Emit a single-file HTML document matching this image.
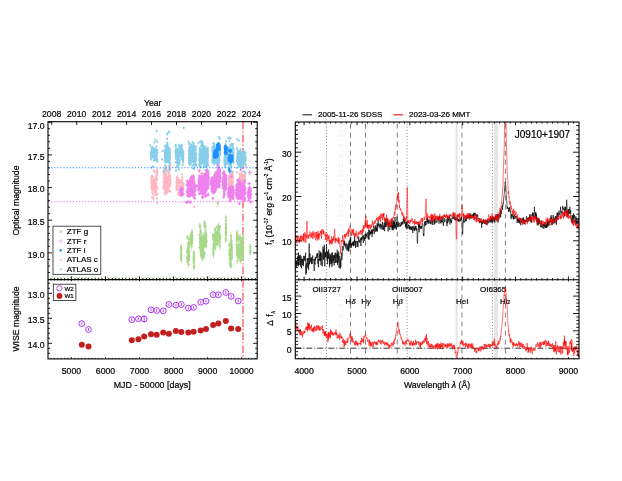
<!DOCTYPE html>
<html><head><meta charset="utf-8"><title>J0910+1907</title>
<style>html,body{margin:0;padding:0;background:#fff}svg{display:block;will-change:transform}</style></head>
<body>
<svg width="622" height="481" viewBox="0 0 622 481" font-family="Liberation Sans, sans-serif" fill="#000">
<style>text{stroke:#000;stroke-width:0.2px;}</style>
<rect width="622" height="481" fill="#fff"/>
<defs>
<clipPath id="cl1"><rect x="48" y="121.7" width="209.2" height="157.9"/></clipPath>
<clipPath id="cr1"><rect x="295.3" y="122" width="283.7" height="157.7"/></clipPath>
<clipPath id="cr2"><rect x="295.3" y="279.7" width="283.7" height="79.1"/></clipPath>
</defs>
<path d="M243 121.7V358.9" stroke="#ff4545" stroke-width="1.15" stroke-dasharray="7.8 2.1 1.2 2.06" fill="none"/>
<g clip-path="url(#cl1)">
<path d="M154.8 188.6v1.8M154.6 185.6v2M153.8 179.8v2.1M153 182.1v1.6M156.3 178.6v2.9M156.3 189.5v2.8M155 170.2v3.5M154 187.8v2.7M156.8 185.5v3.5M155.3 185v2.5M151.5 182.7v2.6M155 181.8v2.1M152.4 189.2v2.5M156.3 177.2v3.5M154.4 180.1v2.6M153.1 176.8v1.6M152.6 184.9v2.3M157.1 177.6v2M152.5 184.9v2.9M156.2 182.7v2.6M157.3 172.7v2.5M152.8 187.2v3.5M157 178.5v3.1M151.6 178.8v1.7M155.7 193v1.6M153.1 186.3v3M152.7 178.9v2.8M154.8 180.9v2.9M152.2 186.7v2.6M156.6 178.5v1.6M152.2 187.3v2.5M153.7 169.1v3.3M151.4 175.1v2.8M152.6 189.2v1.7M154.7 189.3v1.8M155.9 184.9v3.4M154 182.9v2.7M156.5 178.6v1.9M152 196.5v3M157.2 170.7v3.5M154.6 182.1v3.4M156 186.5v2.9M154.4 185.9v3.2M154.3 183.4v1.7M156.7 174.7v2.5M151.8 177.3v3.2M152.1 180.9v2.3M156.6 192.7v1.9M152.7 184.1v3.4M155 182.3v3M157.4 172.7v1.6M155.4 194.3v1.7M151.5 178.1v2.7M152.8 188.2v3.5M156 185.8v2.8M153.1 192.3v3.4M151.6 179.5v1.8M154.7 182.6v2.8M156.2 176.3v1.9M151.4 177.7v2.3M154.5 190.9v1.9M152 186.9v2.5M154.9 180.6v1.7M155.4 186.8v2.9M152.2 188.9v2.9M153.3 195.3v3.4M156.6 184.8v3.2M152.2 178.2v1.7M151.8 183.4v3.4M154.4 182v2.7M154.6 187.9v3.5M152.2 186.8v2.6M154.6 178.8v1.7M152.5 182.5v3M153.8 185.3v1.9M152.7 185.6v3.6M156.8 168.4v2.7M151.3 180.3v3.4M157.2 169.9v2.6M154.9 184.4v2.2M155.6 183.3v2.9M152.2 191.5v3M152.9 189.1v2.5M154.5 185.1v2.1M153.1 185.6v2.4M154.9 181.7v3M152.7 175.4v2M155.7 176.8v1.9M151.6 181.6v2.6M157.5 187.1v2.9M151.5 175.3v1.7M156.4 175.3v2.1M153.4 185.8v3.6M157.1 174.4v2.1M151.3 186v3.2M153.8 182.2v2.2M151.8 182.4v1.7M155.5 191.6v2.6M152.2 180.3v3.4M152.5 185.2v3.2M152.6 176.1v1.7M157.6 192.8v3M156.3 174.4v2.9M156.2 182.1v2.6M164.8 172.1v2.9M169 171.2v2.6M164 178.1v1.9M164.5 174.1v3M170.3 176.5v1.8M164.3 171v2.2M169.3 189.8v3.3M168.7 174.6v2.7M169.4 181.3v2.6M166.5 176.5v3M169.3 181.3v2.6M165.5 171v2.4M170.3 167v2.7M164.1 176.7v1.6M170.4 181.7v2.3M169.4 175.2v1.6M165 182.1v3.6M165 186.1v3.4M166.9 190.7v2.9M168.5 175.6v1.9M166.2 185.3v3.3M168.3 170.9v2.1M170.2 182.3v3.2M163.9 173.6v2.9M168.1 183.6v2.8M167.6 177.6v3.1M169.4 179.2v2.1M166.9 182.9v3.3M163.4 187.1v2.7M166.4 190.1v3.1M167.7 176.8v3.3M164.9 181.8v2.1M165.9 187.5v2.4M165.4 175.5v2.3M163.9 178.1v1.7M166.5 192.1v3.4M168.1 181.7v3M168.3 177.8v2.6M163.6 180.6v2.7M165.3 177.8v3.4M170.3 178.1v1.7M169.8 182.4v2.3M167.8 186.2v3M166.9 180.1v2.7M170.3 165.6v2.6M164.7 179.3v2.1M169.4 182.8v2M163.3 185.2v3M164.6 185.6v2.3M169.2 176.3v3.5M165.1 179v3.4M167.3 184.6v3.6M169.6 173.7v2.1M170.1 179.3v2.6M169.8 178.6v1.8M167.9 179.9v2.3M166.5 189.4v1.7M168.1 179.5v2.6M167.9 176.2v3.6M168.2 185.1v3.1M169.9 174.2v2.3M170.4 181v2.1M163.7 182.8v3.5M167.4 176.1v1.7M166.6 183.6v3.3M168.6 167.4v3.3M168.8 184.7v1.7M164.3 179.7v3.5M170.3 182.5v2.9M167.6 180.5v2.4M167.5 188.1v2.4M168.8 180.9v2.8M168 179.4v2.7M165.4 190.8v3.4M167.3 169.1v3.4M168 188.8v2.2M169.2 176.9v1.6M170.3 175.2v3.2M168.5 178.1v2.9M164.5 175v2.9M167.5 187.7v1.7M165.8 174.4v1.7M164.3 167.2v3.4M164.5 178.4v2.3M168.7 181.8v2.5M163.7 182.7v3.6M165.5 171.4v2M170.3 190.1v2.9M164.7 175.3v1.7M164.7 192.4v2.7M165.6 179.7v3.1M165.2 182.5v1.9M166.2 172.4v3.1M165.2 190.4v3.6M164.8 184.9v3.3M169.4 175.2v3.2M168 181.8v3.5M164.4 174.2v3.1M168.8 172.1v2.7M168.2 181.7v3.3M168.8 178.1v3.2M170 184.7v2.9M167.2 181.3v3M165.2 189.2v1.9M168.9 189.5v2.3M167.4 185.7v2.2M165.9 186.7v3.3M165.1 178.9v3.2M163.8 170.1v2.2M168.2 177.2v3.6M166.3 185.1v1.7M165.5 180v1.7M168 189.2v2.2M168.4 179.1v1.7M169 168.1v3.5M168.7 187.8v2.3M165.8 174.9v2.4M165.9 188.9v3.3M164.7 184.5v2.7M167.1 178.3v2.9M168.2 183.2v2.5M165.8 181v2.5M163.8 172.7v3.6M179.2 189v2.1M180.5 185.6v2.7M182.1 192.6v2.6M182.4 187.8v1.9M181.8 190.4v1.9M180 194.4v2.6M181.7 179v3.2M182.3 178.6v2.5M177.3 176.5v1.7M181.4 183.3v3.5M178.3 178.9v1.8M176.8 176.6v3.4M178.3 179.8v1.7M177.9 183.7v2.9M181.2 188.1v1.9M183.4 185v2.1M181.4 181.7v2.4M176.8 185.3v3.1M176.3 181v2.5M180.9 188.7v2.4M176.7 186.4v2.4M179.6 179.1v2.6M176.6 181.3v2.1M182.3 185.7v3.5M180.9 188.7v2M178.8 182.8v1.8M177.9 188.5v2.7M182.1 186.5v2.3M182.2 191.8v3.1M180.2 194.9v1.6M176.5 185.1v3M180 185.7v2.3M180.9 186.7v3.5M181.6 181.5v2.2M180 184.8v2.5M180.6 188.2v2.2M183.6 192.2v2.7M182.2 188.1v2.1M183.5 182.4v3M176.8 181.3v2.4M179.6 186.7v3M181.3 184.7v2.2M178.8 180.6v2.5M177.7 180.4v2.7M177.7 185.3v3.1M181.7 180.1v2.9M177.7 183.1v2.5M181.4 187v1.7M180.4 190.5v1.8M181.4 193v1.9M183.2 182.4v1.9M183 182.4v1.9M176.8 176.5v2.9M177.8 192.4v2.3M181.6 185.5v3.4M180.9 186.3v2M177.5 187.6v2.1M180.9 190.4v1.9M176.6 183.9v1.9M177.6 177.4v3M182.2 191.3v2.8M179.6 188.5v2.1M177.4 184.2v3.2M182 172.8v3M183 185.7v2.5M182.1 176v2.8M177.2 184.3v2.9M177.1 178.6v2.5M177.8 182v1.8M178.1 193.6v2.3M181.5 186.2v3.5M183.2 188.1v2.3M181.6 184.3v2.9M179.1 189.4v1.7M177.3 175.2v3.2M176.4 185v3.4M179.1 191.5v2.3M176.4 188v2.3M179.7 180v2.6M176.6 188.1v2.1M176.8 180.3v2M178.7 178.9v1.8M179.8 180.2v3M181 187.2v2.6M182.9 185.9v3.5M189.7 185.8v3.6M192.5 190.2v3.4M192.8 184.2v3.5M189.3 179.6v3.3M193.4 191.8v1.6M191.4 187v1.8M193.1 184.9v3.6M192.9 182.3v3.4M193.2 183.6v2.8M194.5 187.2v2.8M192.6 189v2.5M195 188.2v2.4M190.3 178.5v1.9M194 191.8v2.7M192.8 186.1v2.1M189.5 183.8v1.8M195 186.9v3.4M189.2 183.6v2.8M190.4 187.1v3.4M193.1 185v2.2M194.7 180.1v2.8M190.5 176.8v2.1M189.9 192v3.3M189.5 185.9v2M194.9 185.9v2.9M193.9 183.7v2.7M189.9 182.6v2.2M193.8 186.9v1.7M194.4 187.1v2.6M194.2 186.6v2.6M192.3 187.6v3.3M192.7 181.3v2M192.6 186.7v1.9M189.2 183.3v2.2M192.3 184v3.2M188.9 189.8v2M193.5 195v2.9M193.9 188.5v1.6M201.6 176.9v1.7M207.9 180.7v3M204.4 178.4v2.6M205.9 182v1.8M206.9 181.4v2.5M202.9 176.7v3.5M202.4 178.7v2.4M204.9 177.5v2.7M207.9 180.2v2.4M200.5 177.7v2.6M200.8 176.7v1.7M204.2 174v3.4M203.6 174.4v2.8M205.2 183.1v2.3M207.4 179.7v2.2M207.4 173.5v1.9M206.8 179.6v3.5M205.5 178.7v3.3M206.9 173.1v2.3M201.4 181.4v2.8M207.6 174.3v2.7M202 180.8v2M202.4 176.8v1.6M200.7 180.7v3.1M203.5 185.1v1.9M207.5 179.4v2.7M206.2 187.3v1.6M206.1 170.4v1.6M202.1 178.7v1.9M200.1 182.2v2.9M201.8 184.8v2.8M202.6 172.1v3.6M206.2 181.4v2.9M206.4 172.1v2.6M204.3 185.8v1.6M202.5 182.5v3.6M205 176.6v2.6M207.8 183.4v3.3M201.2 173v1.6M204.3 178v3.3M207.6 172.9v2.5M205.6 185.2v2M207.8 182.5v2.4M202.3 180.2v1.7M207.3 183.2v2.8M205.8 180.7v2M208 181.7v3M205.5 184.2v1.9M205.6 179.7v3M201.9 171.5v2.8M202 184v3M201.6 178.7v3.5M202 184v2.2M204.7 178.3v3M205.3 175.1v2.4M202.4 174.5v3.4M200.4 178.4v3.3M215.9 178.9v3.1M219.9 176.4v2.8M218.2 174.9v2.1M213.4 182.2v3.4M215.3 180.8v3.6M217.6 171.2v3.5M212.7 182.1v2.3M219.5 173.1v3.3M212.2 185.9v3M218.7 178.6v3.3M218.5 185.5v3.2M217.4 178v2.5M213.5 180.4v2.4M219.3 180.8v3.2M216.7 183.4v2.9M217.3 179v2.7M212.7 181.4v3.4M220 173.8v1.6M216.6 183.1v1.6M213.7 180.4v2.5M218.9 178.4v1.8M213 183.2v3.3M217.8 177.4v1.7M213 180v3.4M214.9 176.6v2M216.2 181.5v1.8M218.4 179.5v3.1M214.2 174.2v3M213.7 184.6v2.4M213.5 180.4v2.8M214.9 183.4v2.7M217.2 169.4v3.5M212.3 181v2.6M217.3 179.6v2.7M212.1 176.9v2.5M215.5 182.6v2.4M217.7 180.8v3M212.7 183.6v1.8M229.2 180.4v3M229 175.4v3.5M232.6 181.3v3.1M231 179.9v2.7M231.8 179.6v2.3M231.1 184v1.8M232.3 173v1.8M229.2 181.8v2.7M229.7 176v3.4M229.4 179v3.4M229 176.8v1.9M229.8 180.7v3.1M231.8 176.4v3.2M229 175.5v2.6M229.6 178.3v3.3M231.5 177.4v1.9M232.8 180.2v2.3M230.7 177.9v2.6M231.4 178.3v3.1M230.9 181.5v2.5M231.8 179.2v2.2M231 177.8v3.4M231.2 181.9v2.4M231.4 181.8v2.4M232.7 183.7v2M231.8 180.4v2.6M232.5 176.1v3M229.5 178.7v2.3M232.5 182.9v2.9M229 178.4v2.6M230.5 179v1.6M229.3 179.5v3.6M231.1 183.2v2.2M232.6 174.7v2.7M228.8 180.7v3.6M232.7 179.5v2M230.8 181.9v1.7M232.7 170.6v2M231.3 178.9v1.9M229.6 178.6v3.3M232.9 176.8v2.6M230.6 179.4v1.6M230.1 186.1v2.1M230.4 175v2.6M228.8 182.7v1.9M230.3 181.1v2.2M228.7 183.2v3.4M231.3 177.9v2.5M231.1 181.8v2M231.7 179.8v2.8M229.2 180.3v1.8M232.7 179.8v2.6M230.9 179.1v2.9M231.1 179.2v1.7M229.7 177v2.7M229.4 175.1v2.2M230.4 175.6v3.1M232.4 175.2v2.8M232.7 172.8v3.5M229.8 180.7v2.8M228.9 177.4v1.9M232.5 179.6v1.9M229.9 177.8v3M229.9 183.8v3.2M230.5 176.7v1.7M230.9 181.3v2.4M231.4 173.5v2.1M230.9 179.6v2.5M231.5 179.4v3.4M231.2 180.1v2.7M232.7 171.9v3.1M229.5 183.8v3.2M231.1 181.3v2.1M229.5 176.9v2.8M229.7 175.6v2.3M230.2 172.8v2.5M229 177.4v2.7M231.8 175.6v2.9M231.5 175.9v1.9M232.1 181.9v3.3M231.5 178.8v1.9M231.7 177.3v2.2M232.7 176.8v3.3M232 178.4v3.6M232.7 182.3v2.3M229.6 170.3v3.5M232.5 183.7v1.6M229.7 177v3.5M231.5 175.4v2M231.9 180.6v1.6M229.6 179.2v3.1M229.8 179.8v1.9M230.4 177.8v3.1M230.5 182v1.6M232.7 181.2v1.8M242 179.8v2.3M239.5 180v1.7M243.5 179.7v2.5M245.2 179.4v2.3M244 179.7v3.1M243.2 175.3v2.6M243.6 179.5v3.6M244 177.3v3.3M241.2 177.8v1.9M243 182.9v3.5M244.5 179.6v3.4M240.6 174.7v2.7M239.5 172.8v2.7M241 177v1.9M239.8 178.7v2.2M243.6 178.6v2M239.4 177.5v2M243.7 180.1v2.8M245.3 178.5v2.2M245 177.1v3.2M245.2 178.4v2.8M242.5 180v3.3M241.3 175.6v1.7M241 178.5v3.3M239.7 178.2v2.6M239.9 177.5v2.9M243.1 178.1v2.1M244.2 175.8v3M243.8 176.7v2.4M240.5 179.4v3.1M245 176.4v2.8M240.3 177.1v1.9M243.6 175.5v2.2M240.8 179.8v3.1M244.2 178.7v1.6M242.9 177.3v2.9M240.5 175.9v2.7M244.1 173.2v3M240.8 180.7v2.2M242.8 180.7v2.6M240.2 178.2v2.6M240 179.9v3.1M243.2 179v1.7M241.9 180.2v2.6M242.6 178.7v2.1M243.7 177.5v2.8M240.7 176.6v2.1M243.5 182.2v2M243.1 180.2v2M241.3 176.3v3.4M243.4 178.4v2.3M240.8 178.4v3.4M244 179.7v3.1M245.2 173.8v2.1M244.2 177v2.7M243.7 180.8v1.6M239.7 175.6v3.5M239.7 176v2.9M242.5 182.4v1.8M244.7 182.3v2.6M242.2 178.8v2.6M242.4 179.5v3M242.5 176v2.2M242.6 181.2v3.5M244.1 178.6v2.9M241.7 179.1v1.7M242.3 178v3.3M240.7 180.7v3.4M241.3 173.9v2.2M244 178.4v3M241.6 172.1v3.3M245 178.8v3.4M243.1 181.2v1.7M243.2 179.9v3.3M241.1 184.5v2.1M244.9 178.7v3.2M240.2 173.3v3M241.2 178.4v2.5M239.8 176.5v3.4M242 173.5v3.2M239.9 175.5v3.6M245.2 177.3v3.6M239.7 175.8v2.8M240.2 181v3.1M240 178.1v3M242.6 179.3v2.4M244.4 178.5v2.6M244 179.4v2.6M242 177.8v2M240.9 178.7v2.1M245.2 178.2v3.3M243.8 179.1v3.3M244.8 179.6v3M245.1 175.3v3M243 177.8v2.6M153.2 197.1v2.8M157 196.8v2.9M157 202.2v1.6M194.2 205.7v2.5M166.5 164.5v3.6M245 199v2M239 195.2v2.5M228 196.1v1.7M237 171.3v2.1M245.8 164.9v3.3M206.5 171.2v1.6M204.7 172.9v3.2" stroke="#ffb6c1" stroke-width="0.45" fill="none"/><path d="M154.8 189.5h0M154.6 186.6h0M153.8 180.9h0M153 182.9h0M156.3 180.1h0M156.3 190.9h0M155 171.9h0M154 189.1h0M156.8 187.2h0M155.3 186.2h0M151.5 184h0M155 182.9h0M152.4 190.4h0M156.3 178.9h0M154.4 181.3h0M153.1 177.5h0M152.6 186h0M157.1 178.6h0M152.5 186.3h0M156.2 184h0M157.3 174h0M152.8 189h0M157 180.1h0M151.6 179.6h0M155.7 193.8h0M153.1 187.8h0M152.7 180.3h0M154.8 182.4h0M152.2 188h0M156.6 179.3h0M152.2 188.5h0M153.7 170.8h0M151.4 176.5h0M152.6 190h0M154.7 190.2h0M155.9 186.6h0M154 184.2h0M156.5 179.5h0M152 198h0M157.2 172.4h0M154.6 183.8h0M156 187.9h0M154.4 187.5h0M154.3 184.2h0M156.7 175.9h0M151.8 179h0M152.1 182h0M156.6 193.7h0M152.7 185.8h0M155 183.9h0M157.4 173.4h0M155.4 195.2h0M151.5 179.5h0M152.8 190h0M156 187.3h0M153.1 194h0M151.6 180.4h0M154.7 184h0M156.2 177.3h0M151.4 178.8h0M154.5 191.8h0M152 188.2h0M154.9 181.4h0M155.4 188.2h0M152.2 190.3h0M153.3 197h0M156.6 186.4h0M152.2 179.1h0M151.8 185.1h0M154.4 183.3h0M154.6 189.7h0M152.2 188.1h0M154.6 179.6h0M152.5 184h0M153.8 186.3h0M152.7 187.4h0M156.8 169.8h0M151.3 182.1h0M157.2 171.2h0M154.9 185.5h0M155.6 184.8h0M152.2 193h0M152.9 190.3h0M154.5 186.2h0M153.1 186.8h0M154.9 183.2h0M152.7 176.4h0M155.7 177.8h0M151.6 182.9h0M157.5 188.6h0M151.5 176.1h0M156.4 176.3h0M153.4 187.6h0M157.1 175.4h0M151.3 187.5h0M153.8 183.3h0M151.8 183.3h0M155.5 192.9h0M152.2 182h0M152.5 186.8h0M152.6 176.9h0M157.6 194.4h0M156.3 175.9h0M156.2 183.4h0M164.8 173.5h0M169 172.6h0M164 179.1h0M164.5 175.6h0M170.3 177.4h0M164.3 172.1h0M169.3 191.4h0M168.7 176h0M169.4 182.6h0M166.5 178h0M169.3 182.6h0M165.5 172.1h0M170.3 168.3h0M164.1 177.5h0M170.4 182.8h0M169.4 176h0M165 183.9h0M165 187.9h0M166.9 192.2h0M168.5 176.6h0M166.2 186.9h0M168.3 172h0M170.2 183.9h0M163.9 175h0M168.1 185h0M167.6 179.2h0M169.4 180.3h0M166.9 184.5h0M163.4 188.5h0M166.4 191.6h0M167.7 178.5h0M164.9 182.9h0M165.9 188.7h0M165.4 176.6h0M163.9 179h0M166.5 193.8h0M168.1 183.2h0M168.3 179.1h0M163.6 181.9h0M165.3 179.5h0M170.3 179h0M169.8 183.6h0M167.8 187.7h0M166.9 181.5h0M170.3 166.9h0M164.7 180.4h0M169.4 183.8h0M163.3 186.6h0M164.6 186.7h0M169.2 178.1h0M165.1 180.7h0M167.3 186.4h0M169.6 174.8h0M170.1 180.6h0M169.8 179.4h0M167.9 181h0M166.5 190.3h0M168.1 180.8h0M167.9 177.9h0M168.2 186.7h0M169.9 175.4h0M170.4 182h0M163.7 184.6h0M167.4 176.9h0M166.6 185.2h0M168.6 169.1h0M168.8 185.5h0M164.3 181.5h0M170.3 183.9h0M167.6 181.7h0M167.5 189.3h0M168.8 182.3h0M168 180.8h0M165.4 192.5h0M167.3 170.8h0M168 189.9h0M169.2 177.7h0M170.3 176.8h0M168.5 179.6h0M164.5 176.4h0M167.5 188.5h0M165.8 175.3h0M164.3 168.9h0M164.5 179.5h0M168.7 183.1h0M163.7 184.5h0M165.5 172.3h0M170.3 191.5h0M164.7 176.1h0M164.7 193.8h0M165.6 181.2h0M165.2 183.5h0M166.2 173.9h0M165.2 192.2h0M164.8 186.5h0M169.4 176.8h0M168 183.6h0M164.4 175.7h0M168.8 173.5h0M168.2 183.3h0M168.8 179.7h0M170 186.2h0M167.2 182.8h0M165.2 190.2h0M168.9 190.6h0M167.4 186.8h0M165.9 188.4h0M165.1 180.5h0M163.8 171.2h0M168.2 179h0M166.3 186h0M165.5 180.9h0M168 190.4h0M168.4 179.9h0M169 169.8h0M168.7 189h0M165.8 176.1h0M165.9 190.6h0M164.7 185.8h0M167.1 179.7h0M168.2 184.5h0M165.8 182.3h0M163.8 174.5h0M179.2 190.1h0M180.5 186.9h0M182.1 193.9h0M182.4 188.8h0M181.8 191.3h0M180 195.7h0M181.7 180.6h0M182.3 179.8h0M177.3 177.3h0M181.4 185h0M178.3 179.8h0M176.8 178.3h0M178.3 180.6h0M177.9 185.2h0M181.2 189.1h0M183.4 186h0M181.4 182.9h0M176.8 186.8h0M176.3 182.2h0M180.9 190h0M176.7 187.6h0M179.6 180.4h0M176.6 182.4h0M182.3 187.5h0M180.9 189.7h0M178.8 183.7h0M177.9 189.9h0M182.1 187.6h0M182.2 193.4h0M180.2 195.7h0M176.5 186.6h0M180 186.8h0M180.9 188.4h0M181.6 182.6h0M180 186h0M180.6 189.4h0M183.6 193.5h0M182.2 189.1h0M183.5 183.8h0M176.8 182.5h0M179.6 188.2h0M181.3 185.8h0M178.8 181.9h0M177.7 181.8h0M177.7 186.8h0M181.7 181.6h0M177.7 184.3h0M181.4 187.9h0M180.4 191.4h0M181.4 193.9h0M183.2 183.4h0M183 183.4h0M176.8 178h0M177.8 193.5h0M181.6 187.2h0M180.9 187.3h0M177.5 188.7h0M180.9 191.4h0M176.6 184.8h0M177.6 178.9h0M182.2 192.7h0M179.6 189.6h0M177.4 185.8h0M182 174.3h0M183 187h0M182.1 177.4h0M177.2 185.8h0M177.1 179.8h0M177.8 182.8h0M178.1 194.8h0M181.5 187.9h0M183.2 189.2h0M181.6 185.8h0M179.1 190.3h0M177.3 176.8h0M176.4 186.7h0M179.1 192.7h0M176.4 189.1h0M179.7 181.3h0M176.6 189.2h0M176.8 181.3h0M178.7 179.8h0M179.8 181.7h0M181 188.5h0M182.9 187.7h0M189.7 187.5h0M192.5 191.9h0M192.8 185.9h0M189.3 181.3h0M193.4 192.6h0M191.4 187.9h0M193.1 186.7h0M192.9 184h0M193.2 185h0M194.5 188.6h0M192.6 190.3h0M195 189.5h0M190.3 179.5h0M194 193.1h0M192.8 187.2h0M189.5 184.7h0M195 188.6h0M189.2 185h0M190.4 188.8h0M193.1 186.1h0M194.7 181.4h0M190.5 177.9h0M189.9 193.7h0M189.5 186.9h0M194.9 187.4h0M193.9 185.1h0M189.9 183.7h0M193.8 187.8h0M194.4 188.4h0M194.2 187.9h0M192.3 189.3h0M192.7 182.3h0M192.6 187.6h0M189.2 184.4h0M192.3 185.6h0M188.9 190.9h0M193.5 196.4h0M193.9 189.3h0M201.6 177.7h0M207.9 182.2h0M204.4 179.7h0M205.9 182.9h0M206.9 182.7h0M202.9 178.4h0M202.4 179.9h0M204.9 178.8h0M207.9 181.4h0M200.5 179h0M200.8 177.5h0M204.2 175.7h0M203.6 175.8h0M205.2 184.2h0M207.4 180.8h0M207.4 174.5h0M206.8 181.4h0M205.5 180.4h0M206.9 174.2h0M201.4 182.8h0M207.6 175.7h0M202 181.8h0M202.4 177.7h0M200.7 182.3h0M203.5 186h0M207.5 180.8h0M206.2 188.1h0M206.1 171.2h0M202.1 179.6h0M200.1 183.6h0M201.8 186.2h0M202.6 173.9h0M206.2 182.9h0M206.4 173.4h0M204.3 186.6h0M202.5 184.3h0M205 177.9h0M207.8 185h0M201.2 173.8h0M204.3 179.7h0M207.6 174.2h0M205.6 186.2h0M207.8 183.7h0M202.3 181.1h0M207.3 184.6h0M205.8 181.7h0M208 183.2h0M205.5 185.2h0M205.6 181.2h0M201.9 172.9h0M202 185.5h0M201.6 180.5h0M202 185.1h0M204.7 179.7h0M205.3 176.3h0M202.4 176.2h0M200.4 180.1h0M215.9 180.4h0M219.9 177.8h0M218.2 176h0M213.4 183.9h0M215.3 182.6h0M217.6 172.9h0M212.7 183.2h0M219.5 174.7h0M212.2 187.4h0M218.7 180.2h0M218.5 187.2h0M217.4 179.2h0M213.5 181.6h0M219.3 182.4h0M216.7 184.8h0M217.3 180.4h0M212.7 183h0M220 174.6h0M216.6 183.9h0M213.7 181.7h0M218.9 179.3h0M213 184.9h0M217.8 178.3h0M213 181.7h0M214.9 177.6h0M216.2 182.4h0M218.4 181.1h0M214.2 175.7h0M213.7 185.8h0M213.5 181.8h0M214.9 184.7h0M217.2 171.1h0M212.3 182.3h0M217.3 181h0M212.1 178.1h0M215.5 183.9h0M217.7 182.3h0M212.7 184.5h0M229.2 181.9h0M229 177.1h0M232.6 182.9h0M231 181.3h0M231.8 180.7h0M231.1 184.9h0M232.3 173.9h0M229.2 183.1h0M229.7 177.7h0M229.4 180.7h0M229 177.8h0M229.8 182.2h0M231.8 178h0M229 176.8h0M229.6 180h0M231.5 178.4h0M232.8 181.3h0M230.7 179.2h0M231.4 179.9h0M230.9 182.7h0M231.8 180.3h0M231 179.5h0M231.2 183.1h0M231.4 183h0M232.7 184.7h0M231.8 181.6h0M232.5 177.6h0M229.5 179.8h0M232.5 184.4h0M229 179.7h0M230.5 179.8h0M229.3 181.3h0M231.1 184.3h0M232.6 176h0M228.8 182.5h0M232.7 180.5h0M230.8 182.8h0M232.7 171.6h0M231.3 179.8h0M229.6 180.2h0M232.9 178.2h0M230.6 180.2h0M230.1 187.2h0M230.4 176.3h0M228.8 183.7h0M230.3 182.2h0M228.7 184.9h0M231.3 179.1h0M231.1 182.8h0M231.7 181.2h0M229.2 181.2h0M232.7 181.1h0M230.9 180.5h0M231.1 180.1h0M229.7 178.3h0M229.4 176.2h0M230.4 177.1h0M232.4 176.6h0M232.7 174.6h0M229.8 182.1h0M228.9 178.4h0M232.5 180.5h0M229.9 179.4h0M229.9 185.4h0M230.5 177.6h0M230.9 182.6h0M231.4 174.6h0M230.9 180.9h0M231.5 181.1h0M231.2 181.5h0M232.7 173.4h0M229.5 185.4h0M231.1 182.4h0M229.5 178.3h0M229.7 176.7h0M230.2 174.1h0M229 178.8h0M231.8 177.1h0M231.5 176.9h0M232.1 183.5h0M231.5 179.7h0M231.7 178.4h0M232.7 178.4h0M232 180.2h0M232.7 183.5h0M229.6 172.1h0M232.5 184.5h0M229.7 178.8h0M231.5 176.4h0M231.9 181.4h0M229.6 180.8h0M229.8 180.7h0M230.4 179.3h0M230.5 182.8h0M232.7 182.1h0M242 180.9h0M239.5 180.8h0M243.5 181h0M245.2 180.5h0M244 181.2h0M243.2 176.6h0M243.6 181.2h0M244 179h0M241.2 178.8h0M243 184.6h0M244.5 181.3h0M240.6 176.1h0M239.5 174.1h0M241 177.9h0M239.8 179.8h0M243.6 179.7h0M239.4 178.5h0M243.7 181.6h0M245.3 179.6h0M245 178.7h0M245.2 179.8h0M242.5 181.7h0M241.3 176.5h0M241 180.2h0M239.7 179.5h0M239.9 179h0M243.1 179.1h0M244.2 177.3h0M243.8 177.9h0M240.5 181h0M245 177.8h0M240.3 178h0M243.6 176.5h0M240.8 181.3h0M244.2 179.5h0M242.9 178.7h0M240.5 177.2h0M244.1 174.7h0M240.8 181.8h0M242.8 181.9h0M240.2 179.5h0M240 181.4h0M243.2 179.9h0M241.9 181.5h0M242.6 179.7h0M243.7 178.9h0M240.7 177.6h0M243.5 183.2h0M243.1 181.2h0M241.3 178h0M243.4 179.6h0M240.8 180.1h0M244 181.2h0M245.2 174.8h0M244.2 178.4h0M243.7 181.6h0M239.7 177.3h0M239.7 177.5h0M242.5 183.2h0M244.7 183.6h0M242.2 180.1h0M242.4 181h0M242.5 177.1h0M242.6 182.9h0M244.1 180.1h0M241.7 180h0M242.3 179.7h0M240.7 182.4h0M241.3 175h0M244 179.9h0M241.6 173.7h0M245 180.5h0M243.1 182h0M243.2 181.5h0M241.1 185.5h0M244.9 180.3h0M240.2 174.8h0M241.2 179.7h0M239.8 178.2h0M242 175.2h0M239.9 177.3h0M245.2 179.1h0M239.7 177.1h0M240.2 182.6h0M240 179.6h0M242.6 180.5h0M244.4 179.8h0M244 180.7h0M242 178.8h0M240.9 179.8h0M245.2 179.9h0M243.8 180.8h0M244.8 181.1h0M245.1 176.8h0M243 179.1h0M153.2 198.5h0M157 198.3h0M157 203h0M194.2 206.9h0M166.5 166.3h0M245 200h0M239 196.5h0M228 197h0M237 172.3h0M245.8 166.5h0M206.5 172h0M204.7 174.5h0" stroke="#ffb6c1" stroke-width="2.2" stroke-linecap="round" fill="none"/>
<path d="M151.4 149.1v3.2M151.3 151.7v3.4M154.3 158v2.1M151.4 153.4v3.5M151.5 146.8v2.3M151.7 156.1v2.5M152.4 146.2v3.5M154.8 147.6v2.7M153.6 154.4v3M156.7 154.8v1.8M152.8 154.7v1.6M153 154.8v2.1M156.4 157v1.8M155.2 158.4v3.3M153.4 152.3v2.1M151.3 152v3.6M152.3 151v3M153 149.9v2M154.8 150.9v3M156.2 155.7v2.2M155.6 154.6v2.7M154.4 159.2v1.7M156.8 153.8v3.3M157.5 150.9v3.2M151.7 147.3v2.8M151.9 155.7v3M154.2 159.3v2.3M156 156.3v1.8M154.7 156.6v2.2M155.6 151.9v3.1M154.9 150.5v2.7M156.5 152.9v1.8M157.2 149.2v2.1M151.3 153.8v2.5M155.6 147.9v1.6M156.4 145.6v1.7M152.8 148.9v2.5M151.1 157v1.8M154 154.2v3.4M151.3 154.9v1.8M156 156.2v3.1M153.5 155.1v3.2M156.7 158.3v2.2M154.6 156v2.7M156.8 157.1v3.6M152.8 146.2v2.8M153.7 148.7v2.4M157.3 159.8v3.6M151.9 154.3v2.1M152.5 154.9v3.5M154.1 151.5v2.2M150.9 151.5v2.4M153.7 150.4v2.2M157.3 157.7v2.9M155.5 148.9v3.4M155.4 153.7v3M151.3 158.5v1.9M156.8 150.2v3.6M156.2 151.4v3.1M151.6 155.2v2.6M155.1 155.2v3.3M152.3 153.8v1.8M152 152.1v2.8M150.9 153.7v3.2M151.9 155.4v3.2M151.1 154.9v3M166.1 150.6v1.7M165.4 159v2.6M169.3 160.9v2.1M167.3 149.7v2.8M165.2 158.9v2.4M166.1 155.9v2.5M169.2 155v2.7M169.8 155.6v2.8M167.6 153.9v3.4M164.8 160.2v2.1M167.6 161.2v2.1M168.5 151.2v1.9M166.1 151.2v1.8M168.9 155.7v3.3M167.6 150.6v3.5M165.9 149.2v1.8M169.1 165v2.3M169.1 152.7v3.4M169.1 153.7v3.4M167.5 145.7v3.6M166.6 152.1v3.6M166.2 153.1v2.2M166.1 148.6v1.7M167.1 137.7v2.1M169.8 168.3v2.6M166.7 150.7v1.6M165.9 154.4v2.1M165.8 157.5v2.5M168.1 159.4v3M167.3 144.4v1.9M168.2 152.7v1.8M168.3 149.7v2.2M169.6 157.1v1.7M167.3 141.6v1.8M165.7 155.8v1.8M169 149v3.2M169.9 149.8v3.4M169.8 158.5v1.6M168.6 153.9v3.2M165.5 156.6v3.3M169.6 155.7v2.9M169.2 151.7v2.2M170 151.3v3.3M167.7 146.5v1.7M165.4 169.3v1.7M168.2 152.4v3.5M167.5 155.8v2M169.4 151.9v3.5M169.2 155.1v3.1M166.3 156.9v1.7M166 150.1v1.8M167 148.2v2.9M165.4 159.3v1.9M167.2 147.3v2.9M167.9 155.1v3M169.7 151.9v2M167.4 143.6v2.6M164.8 153.5v2M167.1 150.1v3.4M169 154.4v2.9M165.6 145.4v3M167.7 151.7v2.9M166.5 145.4v1.7M168.9 152.6v3.4M165.3 150.7v3.2M166.2 151.1v2.6M168.9 146.6v2.8M168.8 153.1v2.6M169.6 147.5v3.1M167.4 152.7v2.7M167.5 148.2v2.1M167.6 144.6v2.6M167.3 158.3v2M169.4 152.2v1.6M169.8 154.3v2.6M169.8 161.3v3.4M169.2 156.1v3.1M167.1 152.7v2M165.1 154.9v2.6M168.3 153.9v2.8M168.9 156.3v2.8M168.6 150.9v2.5M168.3 158.7v2.6M169.9 163.2v3M165.9 158.5v3.4M167.3 148.5v2.6M170 155.7v3.2M167 147.4v3M167.5 148.6v1.8M166.4 155.2v2.1M168.6 159.9v2.2M167.1 151.3v2.3M164.8 150.8v2.6M167.5 157v2.2M165 163.8v3.6M169.9 153.4v3.1M165.3 154.8v2.3M168.9 155.1v3M166.2 156.3v3.5M169.6 159.3v1.9M169.1 154v2.9M169.7 157.4v3.6M167.8 149.9v2.3M165 152.1v3.4M168.4 150v3.2M169.8 155.9v2.2M168.1 152.4v1.9M169.3 152.1v3.2M165.1 158.8v2.4M166.5 147.2v2.3M167.7 154.2v2.5M165.4 152.5v3.1M167.5 149.9v3.4M165.6 156.6v3.5M165 155.9v3.2M166.3 157v1.9M168.8 152v2.3M165.7 161v1.6M166.6 155.9v2M164.8 155.1v2.3M168.7 150v1.9M167.3 149v2.6M169.7 163v1.8M167 156.4v2.9M167.4 153v2.4M167.4 145.7v2.1M168.4 157v3M169.2 154.1v2.2M168.5 149.4v1.6M166.6 146.9v3.3M165 155.9v3.1M168.7 154.3v3.4M166.1 154.5v2.2M169.2 156.7v2.1M169.4 152.4v3M166 149.8v1.9M166.3 148.8v3.6M167.1 150.9v2.9M166.1 167v2.7M167.7 147.3v1.7M166 158.1v2.1M166.6 150.4v2.4M164.7 149.3v3.6M167.4 154.7v1.9M165.8 153.3v2.8M166.1 153.3v1.7M165.2 153v3.6M164.8 155.2v3.1M166.3 152.6v3.2M167.6 157.1v3.1M168.8 148.9v1.9M169.4 147.8v2.1M166.8 144v1.6M165.5 168.5v2.7M168.6 152.3v1.7M169.2 153.5v2M169.5 148.9v1.9M169.1 147.4v3.5M165.5 147.9v3.2M169.2 153.7v2.2M169 157v3.6M169.5 148.7v1.9M168.4 151.1v1.9M164.9 151v2.4M165.4 152.7v3.2M169.2 156.8v1.8M167.7 144.8v3.2M168.4 146.5v2.7M167.3 159.5v3.2M168.7 153.6v2.3M167.4 142.8v1.6M165.1 153.4v1.8M168.7 152.8v3.1M166.1 155v2.6M168.6 155.2v3.1M170 163.4v2M167.4 145.7v2.1M168.4 156.6v2M168.8 147.4v3.3M165.1 149.3v3M165.5 154.7v1.9M166.3 160.9v3.1M167.8 152.8v1.6M166.2 153v2.5M168.3 149.3v2.1M166.3 144.5v3.2M167.5 143.9v3.1M165.3 155.9v3M169.5 159.8v2M169.8 169.4v1.6M164.8 144.6v2.9M169.9 156.9v3M167.1 150.3v1.6M169.8 158.1v3.3M165.8 150.7v3.4M167.5 148.8v2.3M169.8 161.4v2.6M167.4 157.4v2.9M169.5 153.2v3.5M175.5 149.5v2.9M179.4 148.1v2.6M176.6 155.1v3.2M178.2 150.1v2.6M175.5 161.2v1.6M181.4 151.9v2.7M182.8 151v2.4M181.1 153.8v2.3M178.4 151.2v2.4M178.6 159.4v2M178.3 153.6v2.2M178.9 152.1v3.1M176.3 155v3.4M182.1 149.3v2.5M177.5 164.4v3.3M177.6 151.7v1.8M178.4 153.1v2.6M183.1 159.2v3.1M180.5 144.7v3.2M182.7 158.1v2.4M181.2 148.8v1.9M175.9 152.4v3.6M181.4 145.7v2.8M180.6 150v2.9M182.8 154.4v2.3M176.5 150.5v1.8M177.9 154.7v2.7M181.3 154.3v2.4M180.7 149.5v3.4M177.9 149.6v2.9M176.8 152.5v3.1M176.8 156.9v2.7M179.4 160.9v3.1M177.2 166.6v1.8M179.1 143.3v3.6M176.6 154.9v2.8M178.2 155.4v2.8M176.2 154.4v2M180 154.8v1.7M182.5 152.1v3M178.8 147.9v3.1M179.6 148.2v2.9M176 156.7v2.1M177.7 156.5v2.6M179.5 150.8v3.2M180.5 152.4v2.9M177.6 151.4v3.5M177.5 150.8v1.7M183 155.8v3.2M182.2 153v1.6M175.8 152.4v2.9M181.1 154.6v2.7M180.1 148.1v1.7M175.5 144.8v2.4M182 157.9v2.9M182.3 154.9v3.4M176.4 153.9v1.7M176.7 147.5v2.6M182.9 151.8v3.2M181.2 146.4v1.8M179.1 145.6v3.4M179.9 158.3v3.5M177.3 156.5v2.3M182.8 150.7v2M176.5 151.5v1.9M177.5 150v2M176.4 148.8v2.4M176.1 147.5v3M178.6 151.7v3.5M177.3 153.8v2.7M177.9 153.2v3.5M179.1 158.5v2.4M182.5 150.4v2.9M179.3 152.8v1.6M183.1 156.8v2.4M181.1 150.7v1.6M179.4 152.9v1.8M180.8 147.1v3.2M180.8 152.5v1.8M182.8 153.2v2.2M178.2 154.9v2.7M178.8 151.4v2.7M181.8 148.9v1.6M181.3 148v1.8M183.2 153.1v3M178 155.5v2.4M177.2 151.9v1.8M181.5 147.8v2.6M179.4 162.5v2.3M177 154.7v3.6M180.8 155.6v1.7M183 156.2v1.9M177.2 158.5v1.7M183.2 154.3v2.7M176 154.2v3.6M178.6 160.3v3.2M181.3 145.4v1.8M183.4 157.3v2.7M177 152.9v2.3M182.9 152.4v3.6M180.7 149.1v3M178.5 150.3v2.8M176.8 157.5v2.1M175.5 152.1v2.5M183 157.3v2.7M176.5 157.3v2.3M178.3 152.7v2.7M182 154v1.7M175.9 149.1v2.4M179.2 144.4v3.6M177 161.8v2.4M178.4 154.3v2.6M178.7 151.9v3.1M181.9 151.2v3.2M175.8 151.7v3.1M176 156.7v2.4M181.4 148.8v3M182.6 150.9v2M183.1 156.2v2.8M180.4 150.5v1.6M178 161.4v2M177.7 162.2v1.9M182.7 153v2.3M180.5 151.2v3.1M177.3 154.6v1.6M179.3 162.4v3.4M178.6 150.5v1.8M177.5 149.1v3.5M182.8 154.6v3.5M176.9 156.7v2.8M182 144.1v3.3M181.6 147.3v3.5M178 151.4v2.5M178.4 153.4v3.3M177.1 153.1v1.6M181.4 150.5v3.2M175.8 154.7v2.9M179.9 144.9v3.2M182.5 163.9v1.9M183.3 153.9v1.7M176.3 155.8v2.6M179.4 150.3v2.8M177.4 149.4v3M178.8 148.1v1.9M181.4 146v2.7M182.2 150.1v3.6M182.1 150v2.1M177.8 149.8v3.3M181.3 148.4v3.6M177.1 154.3v3M176.7 157.8v2.5M182.5 148.8v2.4M178.6 151.1v2.5M183.3 150.8v1.8M181.9 151.6v1.7M180.7 152.8v2.1M179.3 152.2v1.9M182 156.4v3.4M175.8 145v2.3M177.8 155.9v3.4M183.2 155.4v2.7M180.1 154.3v3.4M182.3 149.8v3.4M179 151.6v3M183 161v2.5M176.3 149.1v2.1M177.2 150.8v2.7M178.4 155.5v2.2M177.5 156.4v3.3M180.2 149.4v1.6M175.6 150.3v2.9M178.1 152.7v2.3M178 151.4v2.4M177.1 156v2.7M176 147.6v3.6M176.3 148.9v3.6M180.5 154.1v2.3M176.2 157v3.6M178.7 158.3v3.5M177.7 150.2v2.7M178 164.4v2.7M180 148.3v2M182.3 155.4v3.2M183.4 151.7v2.6M181.3 152.6v3.1M177.1 163.8v3.5M178.8 152.9v2.9M182 143.4v3M179.1 157.3v2.7M176.8 160.5v1.8M180.6 151.1v2.5M182.7 158.4v1.7M178.4 157v1.9M179.5 153.3v3.6M179.6 154.4v2.4M182.8 157.3v1.8M181.9 154.7v2.5M183.1 154.6v1.7M183 155.2v2.8M183.2 152.2v2M182.8 153.3v2M178.6 158.2v2.9M182 147.5v3.5M176.8 155.6v1.6M178.7 149.5v3M182.2 153.1v2.8M177.2 151.9v2.6M178.7 148.6v2.4M176.5 154.1v1.6M177.5 153v2.3M175.8 143.7v2.6M179.9 151.2v2.3M182.1 149.9v3.6M176.4 149.6v2.3M180.5 146.8v3.3M177.9 148.4v3.2M178.9 155.2v3.2M180.7 145.9v2.6M175.7 154.7v2.6M180.4 146.9v3.3M181.5 151.5v1.8M181.7 148.5v2M179.2 153.2v1.6M176.3 157.3v2.6M176.2 157.4v2.5M179 150.6v3.5M180.5 150v3.5M176.1 153v2.4M191.6 143.9v2.6M195.7 162.7v1.8M196.1 163.3v3.1M194.2 155.6v2.6M196 152.9v1.9M192.4 163.9v3.4M190.1 150.8v1.6M194.6 156.7v2M191.4 152.1v2.6M194.3 159.9v3.6M190.9 162.7v1.8M194.8 158.9v2.1M195.5 159.9v3.2M190.4 152.9v2.3M191.2 158.7v3.5M189.2 156v1.6M195.6 158.6v2.1M193.8 156.7v2.2M194.6 152.3v3.3M189.7 146.8v1.8M191.5 151.3v3M195.2 148.3v3.4M195.3 152.4v3.6M189.7 160.8v3.2M191.7 153v1.7M194.6 153.2v2.6M193.1 167.3v2M191.5 153.8v1.8M190.2 148v2.1M194.3 163.3v3.1M190.7 155.9v2.8M193.5 161v1.8M193.7 153.4v2.2M191.2 154.8v1.7M190 153.1v3.5M193.3 147.6v3.1M195.3 157.9v2.5M189.9 154.2v3.6M189.1 161.3v3.6M188.9 153.2v2M191.5 155.1v2.1M190.5 147.5v2M190.4 149.6v2.9M193.4 150.8v2.8M195.6 155.9v2.6M190.7 154.2v3.2M193.5 155.6v2.7M195.2 156.4v2.2M190.8 147.7v3M189 149.8v3.5M191.4 148.1v1.7M193.5 142.2v2.6M194.2 158.9v1.9M190.7 154.1v3.1M192.7 152.4v2.5M191.8 152.7v3.3M194.5 156.2v3M189 142.1v3.6M189.9 149.6v2.8M190.3 148.4v2.8M193.5 149.3v3.6M194.8 156.5v3.2M191.1 157.1v2.3M189.2 161.5v1.8M194.1 147.9v3.5M188.9 159.7v1.7M192.2 145.4v3.5M194.2 150.3v3.5M189.7 154.7v2.9M190.6 157.3v3.5M194.3 155.4v2.8M193.9 158.4v3.1M190.8 146.2v2.8M192.9 145.1v2M192.7 157.2v1.7M190.8 144.3v3.1M190.5 142.7v2.5M195.2 159.6v1.8M190.6 153.5v2.7M194.3 162.7v2.1M191.3 150.2v2.1M195.2 153v3.4M195.4 158.6v2.8M193.4 150.7v3.1M195.9 148.1v3.3M192.3 157.4v2.5M195.1 148.3v2.5M192 151.9v2.5M191.1 146.4v2.3M190.4 151.4v3.2M195.5 153.5v3.4M189.9 156.2v2.2M195.6 155.6v3M191.4 154v2M189.2 155.6v1.6M193.9 148.5v3M194.2 148v3.2M189.4 150v2.2M194.8 151.6v3.6M194.8 156.1v3.1M195.1 154.1v2.2M195.5 157.4v3.1M190.4 152.1v3.3M189.7 164v1.9M194.7 156.5v3.5M193.5 157.1v2.5M191 146.7v2.1M189.6 161.1v2.3M190.4 158.3v2.7M191.2 152v2.7M190.7 153.8v2.2M190.9 152.4v1.7M191.2 147.9v2.9M195.8 145.2v3.1M193.4 153.2v3M189.1 149.5v2.4M194.5 157.1v3.3M191.4 151.6v1.6M190.5 147.4v1.8M195.1 163.7v1.6M190.1 158.6v2.7M188.9 157v2.6M195.9 164.4v2M188.9 148.3v2.7M194.6 155.6v1.6M190.2 149v1.6M194.9 154.6v3.6M190.8 156.7v3.4M190.4 152.2v1.7M193.9 151.4v2.9M193.5 153.7v2.6M189.5 155.8v2.7M194.6 146.4v3.3M193.4 150.3v2.9M191.7 156.6v3.5M195.3 164.4v3M189.1 159.5v3.5M190.4 152.7v1.8M192.5 164v3.3M191.6 155.9v2.2M192.2 150v3.5M192.7 153.1v3.2M193.6 144.5v3.6M191.4 151.2v3.1M195 157.8v2.4M193.7 153.7v2.6M192.1 149.5v3.2M194.5 152.6v1.7M192.2 151.7v2.7M195.3 155.4v2.7M191.1 156.1v3.1M194 155.9v2.3M190 150.9v2.8M190.7 149.9v3.1M190.1 159.2v2.4M191.3 158v3M194.1 167v3.4M189.6 156.3v2.3M191.7 152.3v2.7M196 158.1v2.6M192 144.4v3.3M190.3 151.9v2.1M190.4 151.6v2.2M191.7 158.2v2.4M194.6 155.6v2.9M193.9 147v1.9M192.2 152.5v3.6M189.9 149.3v2.6M194.2 150.9v3.1M195.4 149.3v2.4M194.3 157.8v1.6M191.9 154.2v2.4M195.2 163.4v2.7M194.5 151.8v1.7M193.8 143.7v3.6M193.5 149.3v2.8M193.4 155v2.5M189.6 146.3v1.6M194 158.8v2.1M193.4 153.8v2.3M192.2 158.3v2.9M193.4 147.4v1.9M195.6 159.7v2.6M190.2 148.5v2.1M191.7 145.4v2.7M192.4 154.3v3M192.8 153v2.6M190.1 155.7v3.1M192.6 140.9v2.9M189.6 148.4v1.7M194.1 151.1v2.9M192.6 146.9v2.6M192.7 145.4v3.1M191.9 155.9v3.5M193.8 153v2.3M191.7 152.7v3.3M196 153.3v2M191.5 156.7v2.9M191.8 154.9v1.6M189 149.2v3.3M193.9 156.8v2.5M191.4 152.6v2.5M194.2 158v2.6M195.7 152v2.3M194.7 154.4v2M191.7 153.3v3M194.5 157.1v2.9M194.7 151.3v1.7M192.9 149.2v2.1M190.5 157.5v3.5M193.5 152.8v2.1M194.8 157.4v2.2M191 147.5v2.8M192.8 160.4v2.3M191.5 159.4v3.5M195 154v3.6M190.7 158.5v1.8M192 153.4v2M194.1 154.9v1.9M190.9 153.2v2.5M192.4 157.7v2.2M192 147.8v3M191.5 146.7v3.4M195.6 157v1.7M194.9 154v1.6M195.4 156.3v1.8M194.9 152.3v2.2M193.5 154.9v1.8M195.8 155.7v2.5M193.6 154v2.3M189.9 155.7v3.1M190.6 153.5v3.6M190 148.3v3.6M195.4 156.2v2.4M195.3 152v2.9M193.3 155.4v1.8M195.3 147.5v2.8M205.4 148v3.4M203.2 150.8v3.4M207.1 151.6v1.9M201.4 153.1v1.9M200.5 153.5v3.4M203.4 152.9v3M200.6 149.6v3.1M204 154.9v1.7M206.9 164.4v2.8M203.4 153.9v1.6M204.3 149.6v3.1M202.6 144.2v3.2M203 154.7v2.2M204.9 155.8v1.6M204.9 162v3.1M205.3 156.9v3.6M207.5 147.2v2.9M203.8 165.8v2.3M203.6 154.5v2.2M205.6 155.3v3.2M204.8 150v3.6M202.5 160.9v2.3M203.5 145.2v2M201.2 152.6v3.6M203.1 147.3v2.4M206.6 158.7v2.5M201.9 155.6v2.2M203.7 148.9v3.1M201.7 140.3v3.6M205.1 155.4v2.5M206.3 153.7v3.3M201.9 156.9v2.4M204.5 149.4v2.4M199.7 149.7v3.2M205.7 160.5v3.6M199.7 152.1v3.1M201.9 156v3M207.4 154v3.3M204.7 150.2v3.5M207.3 146.7v3.5M204.7 150.3v2.7M205.4 151.8v2.4M204.5 154.2v1.6M205.2 153v2.7M203.3 153.3v2.3M200.9 153.2v1.6M199.6 157.5v3.6M205.1 145.5v2.2M202.5 155.8v3.5M204.2 147.4v1.6M201.6 152.2v2.3M202.1 157.4v3.2M203.1 145.4v3M199.8 147.4v3M204.3 157v2.6M206.4 156.9v1.7M204.4 159v3.3M199.4 153.5v3.1M202.7 143v2.6M207.9 146.9v2.7M203.5 150.9v3.2M205 157v2.6M201.2 154.9v2.5M199.3 157v2.6M205.3 165.1v3.1M200.1 164.7v3.1M207 155.9v2.3M205.6 156.8v3.2M201.4 153.7v2.3M199.7 153.1v3M206.1 154.2v2.3M205.7 146.7v3.4M200 150.5v3.5M203.4 147.2v3.2M207.5 153.8v2.4M205.6 169.1v2.3M199.4 163.4v2.5M206.5 156.4v2.8M200 153.8v1.6M200.8 162.4v2.7M206.9 153.1v3.5M202.5 153.1v1.7M204.4 147.6v3.4M200.6 158.2v2.8M206.3 151v3.6M204.8 160.7v3.1M203 146v3.1M207.6 159.1v3.1M206.2 152.6v2.4M199.8 155.1v1.8M207.9 150.3v3.3M202.2 143.6v3.4M204.6 164.1v3.1M204.6 154.2v2M202 143.8v2.6M202.6 156.9v2.6M205.3 148.1v2.3M206.4 149.8v2.6M201.8 157.1v2.5M203 152.2v3.6M204.5 158.9v2.9M199.7 146.6v3.6M206.6 158.9v3.4M204.3 146v1.9M201.7 158.3v3.2M205.3 149.3v2.4M207.3 153v2.8M204.2 156v2.7M206.3 158.3v3.1M207.5 161.9v2.2M201.4 148.1v3M203.4 148.6v2.3M201.1 154v3.2M206.3 164.2v2.6M203.3 160.3v2.9M206.1 160.4v3.6M201.3 145.2v2.1M207.1 150.4v1.6M203.9 147v3.4M201 155.7v2.7M201 157.8v2.9M202.5 159v3.3M204.3 149.4v3.4M200.6 159v2.4M199.7 160.6v3.6M200.2 156.1v2.4M204.9 156.1v3.1M204.6 152v3.3M202.3 151.8v2.3M199.6 156.4v2.4M208 157v2.3M204.3 150.6v2.3M201.6 154.6v2.4M207.6 148.4v3.3M206.1 162v1.7M201.5 141.9v3.6M199.6 157v3.2M200 159.1v2.7M199.7 147v2.9M203.3 149.7v2.2M207.6 155v3.2M204.6 153.8v3.4M202.8 161.6v2.4M201.6 162.1v2.6M204.3 147.2v2M205.2 147v2.1M202.8 149.4v3.3M207.8 154.2v2.9M208 153.4v2.5M201.6 154.9v2.9M202.4 161.5v1.9M206.7 150.1v1.6M199.7 158.3v2.3M205 148.3v2.8M208 156v1.9M205.9 157.2v2.7M207.6 152.2v2.2M204.5 151.6v2.1M206 159.5v3.1M201.6 156.4v2.3M200.4 152.6v3.1M201.4 154v3.1M200.6 155.3v2.3M205.6 156.2v1.6M201 165.2v3.3M201.2 156.7v2.7M207.5 160.7v2.8M200.5 147.9v3M203.2 161.9v2.7M206.7 161.5v3.4M204.8 151.9v1.6M206.5 156.6v3.6M203.5 151.2v2.8M201.3 152.4v2.4M199.8 154.5v3.4M200.6 149.1v3.4M207 154.4v2.8M200.7 160.9v1.6M201.7 155.6v2.9M200.8 151.6v2.4M203.6 148.9v2.8M200.3 165.1v3.3M207.9 163.3v1.8M205.2 159.3v3.3M201.2 150.7v2.2M201.6 154.5v2.1M201.1 145.3v1.6M208.1 164.6v1.8M207.4 157.6v2.1M207.2 156.9v2.7M199.8 155.3v3.5M207.9 149.6v1.9M199.4 158.1v2.2M200.5 151.6v2.3M199.3 159.1v2.9M200.9 149.9v2.3M203.1 155.4v3M204.3 153.3v1.9M200.5 159.6v1.7M205.6 163.8v2.8M201 156.3v3.1M204.7 156.7v1.8M203.7 153.4v1.7M204.7 158.5v3M205.5 159.2v1.7M201.1 148.2v3.5M199.9 155.6v3M205.7 151.8v1.9M199.8 158.1v2.4M206.7 151.9v1.7M206.9 154.7v1.7M207.3 154.6v2.3M203.5 155.4v3.4M200.9 151.7v3.5M206.6 153.4v3.1M202.6 154.5v2.9M204.5 160.9v2.8M203.2 153v2.6M203.8 159.1v2.9M206.5 161.1v2.6M206.9 151.9v2.4M202.7 159.1v3.3M205.9 165.7v2.2M207.7 157.4v2.4M203.7 147.3v3M204 153.1v3.6M199.5 159.9v2.3M200.9 154.3v2.5M200.2 156.1v2.4M199.6 165.6v2M200.1 155.3v2.3M199.5 153v3.2M204.6 150.2v2M205.5 153.6v2.6M200.2 161.5v2.2M199.7 150.7v2.8M200.4 149.8v3.2M201.8 153.9v1.8M200.4 153.7v2.6M204.5 156.8v2M206.9 158.9v2.9M205.9 161.2v3M200.7 160.8v2M202.7 142.6v2M203 156v2.2M202.8 147.7v2.2M207.6 154.2v3.4M201.4 149.2v3.4M202.2 139.8v3.2M206.4 161.5v2.4M207.3 158.1v2.5M199.8 148v2M203.9 164.7v2.5M201.5 150.3v3.5M203 149.9v1.7M204 150.7v2.4M212.5 161.2v2M218.4 162.9v3.3M219.6 147.1v2.2M219.2 146.4v2.6M219.2 160.3v1.7M214.4 153.4v3M217.6 152.4v2.6M219.5 158.6v3.2M217.1 153v3.1M215.7 158.2v3.1M219.7 152v2.1M217.4 157.6v2.1M213.2 142v2.8M216.3 146.5v1.7M214.4 145.7v3.5M213.5 153.2v3.1M213.3 155v2.6M215.5 155.5v2.3M214.5 152.6v1.7M216.6 155v2.7M218.9 148v3.2M217.4 149.6v1.8M213.9 151.1v1.8M216.6 147.5v3M217.1 149.1v2.5M214.2 152.6v3.2M214 147.4v2.4M216.9 152.2v3.6M212.4 146.4v3.4M214.2 160v2.2M216.6 149v2.7M220 152.7v2.8M214.6 152.5v2.5M212.8 149.2v3.3M219.1 151.2v3M215.3 152.6v3.3M215.7 152.6v2.1M214.1 149.7v2.6M219.8 152.5v2.7M214.9 149.3v2.8M215 149.7v1.6M218.9 146.8v3.2M218.7 145.3v2.5M218.1 152.8v1.9M218.2 144.5v3.3M217.8 154.6v2.7M219.4 159.5v3.1M212.3 159.5v3.1M218.3 148.3v2.9M219.8 149.3v3.5M216.8 146.1v1.7M219.1 157.4v2.3M217 149.6v1.9M215.9 156.1v2.9M217.9 152.4v2M216.6 158.2v1.6M215.3 149v1.8M218.9 161.2v1.9M216.2 149.8v2.7M214.7 153.2v2.5M213.4 146.5v2.5M213 149.9v1.6M219.5 148.7v2.7M218.8 161.8v2.1M219.8 154.6v1.8M219.4 158.3v1.7M212.4 159v1.9M216.2 154.7v2.4M219.5 154.1v1.9M220.1 146.6v2.5M216.3 145.8v1.9M215.3 151.3v3.1M215.1 148.1v3.4M219.7 150.4v2.2M217.6 151.6v1.7M215.2 151.5v3.6M215.4 146.9v1.7M219.2 150.5v2.9M219.8 147.2v3.1M217.2 153.7v2.6M220.1 148.8v3.4M218.7 158.6v1.9M213.6 146.3v3.1M218.7 165.1v3.4M216.3 160.4v3.4M217.7 159.6v3.3M218.7 163.5v2.5M215.6 151.8v2.6M213.5 150.3v3.3M216.2 158.6v2.3M213.8 155.2v2.1M217 159.9v1.6M215.1 159.5v2M212.6 152.6v1.9M215.5 153v3.5M217.7 149.5v2.2M212.3 149.7v2.3M216.9 161.5v3.6M217.5 155v3M216.6 158.5v2.5M214.4 148.8v1.8M220.1 147.9v2.3M216.8 151.2v2.2M213.5 153v3.5M218.2 155.2v2.4M213.6 153v3.6M216.4 156.1v2.1M218.6 147.7v1.7M212.8 160.4v3.4M214.8 153.2v1.7M217.9 151.3v3.2M214.4 154.3v2.8M213.1 157.8v2.2M215 148.2v3.3M215.8 151.4v2.5M219.2 153.6v3.6M216.8 158.1v2.7M217.1 151.4v3.5M214.2 162.4v3.5M219 156.3v2.3M214.8 159.1v3M214.7 146.5v3.1M217 158.5v2.9M219.7 151.8v1.6M214.2 145.9v3M214 156.7v3.1M214.7 156.4v2M218.5 149.7v1.8M214.2 154.6v1.7M213.8 156.1v2.7M219.9 151.5v1.8M213.2 157.9v3.3M216.5 149.3v2.4M212.8 155.2v3.6M213.3 154.1v3.1M214.2 148.1v2.5M213.8 151.7v1.9M212.6 156.1v2.4M217.5 151.7v2.8M217.8 155.4v3.4M213 150.8v3.4M213.3 161.6v2.2M215.8 157.6v1.6M213.5 144.4v2.9M215.1 151.2v3M219.8 147.9v2.9M213.9 157.3v3.2M214.1 150v3.2M215.8 157.6v2.9M214.3 157.3v3.3M219.3 149.4v1.8M214.2 149.1v3.5M217 155.3v2.9M213.3 162.3v1.8M216.3 149.5v1.9M218.3 152.1v2.9M215.3 149.1v2.2M214.7 146.4v3.5M215.3 155.2v2.1M218.9 154.7v2.6M214.8 150.9v2.6M216.7 150.6v3.5M215.1 148.4v2.2M212.8 152v3.4M214.7 152.3v3.1M217.9 155.8v2.7M214.5 142.8v3.5M218.3 159v3.4M219.2 154.4v3.1M214.5 150v2.7M212.5 150v1.7M215 146v2M215.5 148.2v2.9M214.2 146.1v1.8M218.9 148.9v2.9M213.7 157.7v2.3M213.2 159.1v2.4M217.9 148.9v3.3M212.6 155v3.3M213.8 152.5v3.1M214.7 151.1v2.5M214.7 153v2.7M217.3 156.7v3.6M216.7 161.1v3.5M217.9 153.1v2.8M217.6 159v1.7M215 161v3.4M218.4 153.8v1.7M214.5 161.7v1.8M217 155.6v2.9M231.7 156.6v2M231.3 165.1v3.1M225.1 152.4v3M231.3 148.2v1.9M232 152.3v3.4M233.1 155.4v3.6M228.2 161.7v2.9M231.2 149v3.6M232 148.6v3.2M224.8 150v2.5M230.8 146.8v3.3M232.9 156v3.5M225.5 154.5v3M230.8 152v1.7M231.8 152.8v2.3M233.3 160.5v3M230.2 149.3v2.3M224.9 153.7v1.9M227.6 151.1v2.5M227.2 156.8v1.9M225.6 152.4v2.5M226.5 146.9v1.8M226.5 148.2v3.1M233 153.2v2M227.6 150.2v3.5M225.6 166.2v1.8M229.5 148.2v2.9M229.4 162.4v2.9M231.4 157.6v2M229.9 160.6v2.9M228.6 154.9v2.7M225.4 143.9v2.8M227 152.3v1.9M224.9 157.5v2.6M226.9 157v3.3M228.5 162.1v2.8M225.4 152v2.1M227.7 160.1v2.3M225.9 155v3.4M233.5 154.5v1.7M231.3 161v2.6M233.4 158.1v2.6M229.5 158.7v2.5M228.3 158.7v1.6M226.1 154.3v1.8M232.9 152.9v3.3M230.3 144.2v2.5M230.4 144v2.2M226.6 154.7v2.5M224.6 158v1.7M231.5 156.2v1.7M226 150.3v3.3M230.2 160.4v3.1M225.9 144.3v2M231.6 157.9v2.2M227.3 146.7v1.7M226 157.1v2.2M227.7 149.8v2.6M229.4 146v3.1M226.5 162.4v2.6M224.7 146.8v3.3M231.9 149.5v3.6M230.9 164.4v2.7M228.9 146.6v1.7M228.9 156.8v1.8M229.7 157.3v3M225 153.6v1.8M228.4 150.4v3.4M233.3 155.4v1.7M228.4 155.3v1.7M226.1 154v3.6M232.1 152.9v2.4M232.3 154.6v2.7M226.9 148.6v2.8M230.5 147.8v1.8M227.4 154v2.3M228.4 148.8v2.3M232.7 144v3.1M225.8 152.6v3.2M229.5 159.2v3M227.5 155.4v1.9M227.3 156.7v2.5M228.6 165.6v3.5M232.3 151.4v1.9M233.4 161.4v2.3M231.8 151.2v2.8M224.9 150.5v3.6M227.1 148v1.6M229.6 159.5v3M230.3 151.5v2.5M227.1 147.9v2.7M224.6 163.9v3.3M226.1 152.4v1.8M225.1 148.9v2.8M230.4 148.3v2.2M228.2 159.2v3.1M229.2 148.2v3M225.4 152.4v2.4M226 160.5v1.9M225.3 149.8v3.2M232.3 153v3M229.2 156.1v2.7M226.6 147.1v3.1M226.4 154.6v3.5M229.6 158.9v2.1M229.8 157.7v3M225 152.4v3.2M228.4 155.4v2.1M232.3 144.4v3.4M231.3 150.6v2.2M225.4 163.1v3.5M225.2 154v2.8M232 150v3.6M233.2 155.3v3.4M229.5 153.7v3.2M231.5 150.3v2.3M224.8 155v2.5M224.4 159.8v2.8M229.8 154.2v3.2M230.9 157.9v2.4M228.3 159.6v3.4M232.4 148.5v2M229.5 163.5v2.6M225.9 149.3v1.9M231.2 148.3v1.9M230.6 161.5v2.2M232 157.6v1.7M231.2 156.9v2.7M233.1 153.1v2.8M229.9 151.9v2.4M225.2 144.5v3.2M225.4 151.5v2.7M232.9 151.3v3M226.1 151.2v1.7M228.5 158.1v2.2M225.4 148.7v1.6M224.5 162.6v1.9M226 160.7v3.3M229.5 151.8v1.8M227.8 162.4v2.8M225.6 159.7v2.3M230.7 148.1v3M231.8 153.7v3.4M227.5 153.7v3.3M225.7 142.6v3.6M231.7 152.6v3.6M224.6 158.9v2.4M230.6 162.3v3.6M228 150.6v3.1M232.2 154v2.1M228 159.8v2.2M225 148.9v2.6M227.4 156.5v3.3M229.8 165.6v1.8M224.7 156.7v3.4M228.7 158.4v3M229.7 149.4v2.8M224.4 157.9v2.4M229.7 153v2.4M228.6 155v2.4M233.5 156.5v3M230.5 154.2v2.5M226.8 153.3v3M226.7 160.7v3.4M229.6 140v1.7M233.5 151.7v1.6M224.6 145v3.5M232.4 150v2M231.5 147.5v3.3M227.7 148.4v2.4M226.9 158v2M233 143v1.6M230.6 150.1v2.5M231.2 162.1v2.8M229 150.7v1.7M229.4 150.1v1.6M228.1 159.1v2.2M227.3 155.9v3.4M233.5 148v3.1M226.6 155.4v2.1M226.5 152.9v2.4M224.4 156.9v2.4M232.4 147.2v3M229.6 155.5v2.2M227.1 155.6v2.3M227.1 156.3v2.6M227.2 153.6v2.1M233 146.5v2.5M227.5 160.7v3.1M225 151v2.6M226 140.4v1.7M227.6 146.3v2.3M231.5 142.9v2.7M224.9 159.8v2M228.8 157.6v2.4M226.7 151.8v2.7M224.5 156.8v2.3M230.9 157.4v1.9M226.3 151.1v3.4M229.9 156.1v1.7M232.3 150.6v3.4M231.1 150.6v1.8M233.3 151.7v2.7M231.8 151.8v2.7M232.4 151.8v2.4M226.1 157.1v2.9M229.3 159v3.4M232.9 147.9v2.2M226.3 150.7v1.7M230.3 162v2M228.1 151.5v3.4M224.8 149.8v2.8M228.2 161.4v3.1M227.4 156.7v2.4M228.9 150.4v2.2M228.6 151.2v3M224.4 160.8v2.7M233.5 149.9v3.5M239.8 159.6v1.9M238.2 158.2v2.3M243.7 162.3v3M240.6 160.8v3.4M241.6 153.5v2.5M242.7 154.3v3.2M242.2 154.7v1.8M239.2 162.4v2.9M243.2 157.6v2.2M239.6 150.8v3M243.7 161v2.2M239.3 157.1v1.9M241.5 159.6v2.1M237 155.7v3.1M241.1 153.8v3M240.1 151.8v3.5M245.6 157.9v2.4M237.7 163.4v1.7M237.1 157.2v3.2M241.3 158.8v2.1M241.8 160.9v3.1M240.1 165.6v2.6M238.2 159.6v2.5M245 162.7v1.6M238.3 163.5v2M239 158.1v3.1M245.5 151.7v2.5M239.9 157.2v3.4M243.9 153.2v3.2M244.9 157.5v2.7M237.8 156.1v3.6M242.6 156.3v1.6M240.4 158.6v2.4M241.9 156.4v2.7M240.5 165.9v1.7M242.4 152.5v3.4M238.9 157.5v1.9M240.7 160.4v2.8M238.9 159.2v2.1M242.6 163.2v2.4M239.5 160v2.5M241.9 157.5v2.2M238.3 162.1v1.9M239.3 151.5v2.9M243.5 158v2.9M239.8 155.2v1.7M241.2 158.8v3.6M242.9 156v1.8M242.2 152.9v2M244.7 158.3v2.1M238.7 159.8v2.3M243.8 154.4v2.6M244.5 159.3v3.4M245.7 164.1v1.8M239.5 159.1v2.8M245.5 157v2.9M237 158.7v2.1M243.4 155.9v2.3M237.8 159.5v2.5M237.7 161.2v3.4M239.9 162.3v3.2M244.7 153.8v2.6M245.5 160v1.7M243.9 157.4v2.3M243 160.9v3.3M238.9 158.3v2.5M240.7 158.3v2.4M245.6 157.2v2.9M239.7 159.3v1.6M241.2 156.1v2.9M238.1 154.6v3M242.9 158.4v1.8M238.2 156.6v2.4M237.9 152.1v3.3M240 149.5v2.1M240 157.7v2.7M238.8 164.8v2.3M243.3 155.2v2.7M239.3 158.7v2.4M237.5 159.5v2.3M237.3 152.4v3.5M241.8 157v3M240.1 162.7v3.6M242.6 157.6v2.3M241.7 152.1v2.5M245.5 155.3v2.3M244.6 155.5v3.4M239.7 153.9v2.3M240.6 161.1v3M240.3 157.3v1.9M240.5 165.8v2.7M236.9 166.5v2.1M242.2 159.4v3.5M242.3 156.1v2.3M240.2 157.3v3.5M237.9 159.2v2.7M244.3 158.6v2.3M237.3 148.7v2.7M243 154.1v3.5M241.7 162v3M239.7 157.3v3.3M243.5 156.7v2.7M244.4 151.6v2.8M245.7 157v1.9M239 152.6v3.3M240.2 153v2.9M243.2 153.2v2.9M242.3 160.3v2.2M242.9 154.5v3.1M241.7 162.1v2.7M238.9 155.1v2.2M244.9 154.3v3.6M241.1 156.5v3.2M241.1 153v3M238.8 162.1v3.3M241.6 163.9v3M241.5 151v2.4M239 155.6v3.5M238.4 158.3v3.4M242.5 153.3v3M244.2 162.6v2.5M237.3 152.1v2.6M240.3 161.4v1.7M238 150.5v3.4M238.3 156.5v3.3M240 159.2v2.8M244 152.7v2.5M237.7 155.9v3.2M240.4 163.8v1.6M240.9 157.6v2.4M241.1 159.7v2.1M238.2 150.8v2.8M242.9 154.1v2.3M239 160.4v2.8M240.2 155.2v3.4M237.1 159.8v2.4M238.7 156.3v1.8M238.5 156.9v1.6M243.2 156v3.3M239 160.5v2.5M244.2 161.2v2.5M244.5 160v1.6M238.7 151.7v1.8M242.3 160.8v1.6M240.2 161v3.4M240.1 159.1v1.7M243.2 156v2.2M242.6 160.8v2.5M244 154.4v2.8M242 160.6v2M245 160.1v2.9M243.2 166v2.9M240.2 155.4v3.6M237.5 154.3v1.8M243.6 153.7v2.2M241.3 161.1v1.8M244.8 157v2.2M242.1 156.8v2M241 151.2v1.6M240.6 159v3.2M241.1 160.9v2.1M241.2 154.8v3.1M241.4 159.7v3.3M243.4 151.6v3.2M240.4 163.5v1.6M241.8 158.8v2.8M243.7 156.6v3.3M238.8 155.1v2.9M237.6 157.3v2.8M237.7 155.2v2.4M243.5 155.3v3.3M242.9 156.5v2.7M243.2 155.8v2.3M243 157.1v2.6M240.6 148v2.5M244.1 150.4v1.9M244.6 158.5v3M241.5 159.8v3.3M237 159.5v2.9M239.2 157.6v1.6M239.7 157.3v2.4M241.8 164.5v3.2M241.4 156.9v1.8M239.6 158v2.6M244.5 158.8v3M239.2 150.3v2.7M238.7 161.6v2.2M240.2 159.6v1.6M241 152.5v3M240.1 158.3v1.9M156.6 129.8v2.8M155.3 138.5v2.7M157.2 140v3.1M154.4 141.6v1.8M150.2 143.8v3.6M169.3 129.9v3.1M167.1 132.6v3.4M168.3 131.6v1.9M183.7 126.3v3.1M162.6 149.8v2.3M162.2 158v3M176 169v3M163.5 170.8v2.4M237.2 137.7v3.5M238.8 139.3v2.5M237 146.7v2.5M229.5 136v3M230.6 137.6v1.9M228.4 136.5v3.4M218.8 135.9v2.3M219.8 137.1v3.4M200.5 140.6v1.9M188.5 140.6v1.8M198.6 141.4v2.8M151.5 166.5v2.1M153 165.3v2.5M179 168.5v2M231 169.5v3.1M232 170.8v3.1M245.5 171.5v3M244.2 170.6v1.8" stroke="#87ceeb" stroke-width="0.45" fill="none"/><path d="M151.4 150.7h0M151.3 153.4h0M154.3 159h0M151.4 155.1h0M151.5 148h0M151.7 157.3h0M152.4 147.9h0M154.8 148.9h0M153.6 155.9h0M156.7 155.6h0M152.8 155.5h0M153 155.9h0M156.4 157.9h0M155.2 160.1h0M153.4 153.4h0M151.3 153.8h0M152.3 152.5h0M153 150.9h0M154.8 152.4h0M156.2 156.8h0M155.6 155.9h0M154.4 160.1h0M156.8 155.4h0M157.5 152.5h0M151.7 148.7h0M151.9 157.2h0M154.2 160.5h0M156 157.2h0M154.7 157.7h0M155.6 153.5h0M154.9 151.9h0M156.5 153.9h0M157.2 150.2h0M151.3 155.1h0M155.6 148.7h0M156.4 146.5h0M152.8 150.2h0M151.1 157.9h0M154 155.9h0M151.3 155.8h0M156 157.8h0M153.5 156.7h0M156.7 159.4h0M154.6 157.3h0M156.8 158.9h0M152.8 147.6h0M153.7 149.9h0M157.3 161.6h0M151.9 155.4h0M152.5 156.7h0M154.1 152.6h0M150.9 152.8h0M153.7 151.5h0M157.3 159.2h0M155.5 150.6h0M155.4 155.2h0M151.3 159.4h0M156.8 152h0M156.2 152.9h0M151.6 156.5h0M155.1 156.9h0M152.3 154.7h0M152 153.5h0M150.9 155.3h0M151.9 157h0M151.1 156.4h0M166.1 151.4h0M165.4 160.2h0M169.3 162h0M167.3 151.1h0M165.2 160.1h0M166.1 157.2h0M169.2 156.3h0M169.8 157h0M167.6 155.6h0M164.8 161.3h0M167.6 162.2h0M168.5 152.2h0M166.1 152.1h0M168.9 157.4h0M167.6 152.4h0M165.9 150.1h0M169.1 166.1h0M169.1 154.4h0M169.1 155.3h0M167.5 147.5h0M166.6 153.9h0M166.2 154.2h0M166.1 149.5h0M167.1 138.8h0M169.8 169.6h0M166.7 151.5h0M165.9 155.5h0M165.8 158.7h0M168.1 160.9h0M167.3 145.3h0M168.2 153.6h0M168.3 150.8h0M169.6 157.9h0M167.3 142.5h0M165.7 156.7h0M169 150.6h0M169.9 151.4h0M169.8 159.4h0M168.6 155.5h0M165.5 158.3h0M169.6 157.2h0M169.2 152.8h0M170 153h0M167.7 147.4h0M165.4 170.1h0M168.2 154.1h0M167.5 156.8h0M169.4 153.7h0M169.2 156.7h0M166.3 157.7h0M166 151h0M167 149.6h0M165.4 160.3h0M167.2 148.8h0M167.9 156.6h0M169.7 152.9h0M167.4 144.9h0M164.8 154.5h0M167.1 151.8h0M169 155.8h0M165.6 146.9h0M167.7 153.1h0M166.5 146.2h0M168.9 154.3h0M165.3 152.2h0M166.2 152.5h0M168.9 148h0M168.8 154.4h0M169.6 149.1h0M167.4 154h0M167.5 149.3h0M167.6 145.9h0M167.3 159.3h0M169.4 153h0M169.8 155.6h0M169.8 163h0M169.2 157.6h0M167.1 153.7h0M165.1 156.2h0M168.3 155.3h0M168.9 157.7h0M168.6 152.1h0M168.3 160.1h0M169.9 164.7h0M165.9 160.2h0M167.3 149.8h0M170 157.3h0M167 148.9h0M167.5 149.5h0M166.4 156.3h0M168.6 161h0M167.1 152.4h0M164.8 152.1h0M167.5 158.1h0M165 165.6h0M169.9 154.9h0M165.3 155.9h0M168.9 156.6h0M166.2 158h0M169.6 160.3h0M169.1 155.4h0M169.7 159.2h0M167.8 151h0M165 153.8h0M168.4 151.6h0M169.8 157h0M168.1 153.3h0M169.3 153.8h0M165.1 160h0M166.5 148.3h0M167.7 155.5h0M165.4 154h0M167.5 151.7h0M165.6 158.3h0M165 157.4h0M166.3 158h0M168.8 153.2h0M165.7 161.7h0M166.6 156.9h0M164.8 156.3h0M168.7 151h0M167.3 150.3h0M169.7 164h0M167 157.9h0M167.4 154.2h0M167.4 146.7h0M168.4 158.5h0M169.2 155.2h0M168.5 150.2h0M166.6 148.6h0M165 157.5h0M168.7 156h0M166.1 155.5h0M169.2 157.8h0M169.4 153.9h0M166 150.7h0M166.3 150.6h0M167.1 152.4h0M166.1 168.4h0M167.7 148.1h0M166 159.1h0M166.6 151.6h0M164.7 151.1h0M167.4 155.6h0M165.8 154.7h0M166.1 154.2h0M165.2 154.8h0M164.8 156.8h0M166.3 154.3h0M167.6 158.7h0M168.8 149.9h0M169.4 148.8h0M166.8 144.9h0M165.5 169.8h0M168.6 153.1h0M169.2 154.5h0M169.5 149.9h0M169.1 149.1h0M165.5 149.5h0M169.2 154.8h0M169 158.8h0M169.5 149.7h0M168.4 152h0M164.9 152.2h0M165.4 154.3h0M169.2 157.7h0M167.7 146.4h0M168.4 147.9h0M167.3 161.1h0M168.7 154.8h0M167.4 143.6h0M165.1 154.3h0M168.7 154.3h0M166.1 156.3h0M168.6 156.7h0M170 164.4h0M167.4 146.8h0M168.4 157.6h0M168.8 149.1h0M165.1 150.9h0M165.5 155.6h0M166.3 162.5h0M167.8 153.7h0M166.2 154.3h0M168.3 150.3h0M166.3 146.1h0M167.5 145.5h0M165.3 157.4h0M169.5 160.8h0M169.8 170.2h0M164.8 146.1h0M169.9 158.4h0M167.1 151.1h0M169.8 159.7h0M165.8 152.5h0M167.5 150h0M169.8 162.8h0M167.4 158.9h0M169.5 154.9h0M175.5 151h0M179.4 149.4h0M176.6 156.7h0M178.2 151.4h0M175.5 162h0M181.4 153.3h0M182.8 152.2h0M181.1 154.9h0M178.4 152.4h0M178.6 160.4h0M178.3 154.7h0M178.9 153.7h0M176.3 156.7h0M182.1 150.6h0M177.5 166h0M177.6 152.7h0M178.4 154.4h0M183.1 160.7h0M180.5 146.3h0M182.7 159.3h0M181.2 149.8h0M175.9 154.1h0M181.4 147.2h0M180.6 151.5h0M182.8 155.5h0M176.5 151.4h0M177.9 156.1h0M181.3 155.5h0M180.7 151.2h0M177.9 151.1h0M176.8 154.1h0M176.8 158.2h0M179.4 162.5h0M177.2 167.5h0M179.1 145.1h0M176.6 156.2h0M178.2 156.8h0M176.2 155.4h0M180 155.7h0M182.5 153.6h0M178.8 149.4h0M179.6 149.7h0M176 157.7h0M177.7 157.8h0M179.5 152.4h0M180.5 153.9h0M177.6 153.2h0M177.5 151.7h0M183 157.4h0M182.2 153.8h0M175.8 153.8h0M181.1 155.9h0M180.1 148.9h0M175.5 146h0M182 159.3h0M182.3 156.6h0M176.4 154.7h0M176.7 148.8h0M182.9 153.4h0M181.2 147.3h0M179.1 147.3h0M179.9 160h0M177.3 157.7h0M182.8 151.7h0M176.5 152.4h0M177.5 151.1h0M176.4 150h0M176.1 149h0M178.6 153.5h0M177.3 155.2h0M177.9 155h0M179.1 159.7h0M182.5 151.9h0M179.3 153.6h0M183.1 158h0M181.1 151.5h0M179.4 153.8h0M180.8 148.7h0M180.8 153.4h0M182.8 154.3h0M178.2 156.2h0M178.8 152.7h0M181.8 149.7h0M181.3 148.9h0M183.2 154.6h0M178 156.7h0M177.2 152.8h0M181.5 149h0M179.4 163.7h0M177 156.5h0M180.8 156.4h0M183 157.2h0M177.2 159.3h0M183.2 155.7h0M176 156h0M178.6 161.9h0M181.3 146.3h0M183.4 158.7h0M177 154h0M182.9 154.2h0M180.7 150.6h0M178.5 151.7h0M176.8 158.6h0M175.5 153.3h0M183 158.7h0M176.5 158.4h0M178.3 154.1h0M182 154.9h0M175.9 150.4h0M179.2 146.2h0M177 163h0M178.4 155.6h0M178.7 153.4h0M181.9 152.8h0M175.8 153.2h0M176 157.9h0M181.4 150.4h0M182.6 151.8h0M183.1 157.6h0M180.4 151.3h0M178 162.4h0M177.7 163.1h0M182.7 154.2h0M180.5 152.7h0M177.3 155.4h0M179.3 164.1h0M178.6 151.4h0M177.5 150.9h0M182.8 156.4h0M176.9 158.1h0M182 145.8h0M181.6 149.1h0M178 152.7h0M178.4 155.1h0M177.1 153.9h0M181.4 152.1h0M175.8 156.2h0M179.9 146.5h0M182.5 164.8h0M183.3 154.7h0M176.3 157.1h0M179.4 151.7h0M177.4 150.9h0M178.8 149.1h0M181.4 147.4h0M182.2 151.9h0M182.1 151h0M177.8 151.4h0M181.3 150.2h0M177.1 155.8h0M176.7 159h0M182.5 150h0M178.6 152.4h0M183.3 151.7h0M181.9 152.5h0M180.7 153.9h0M179.3 153.1h0M182 158.1h0M175.8 146.1h0M177.8 157.6h0M183.2 156.7h0M180.1 156h0M182.3 151.5h0M179 153.1h0M183 162.2h0M176.3 150.1h0M177.2 152.2h0M178.4 156.6h0M177.5 158h0M180.2 150.2h0M175.6 151.7h0M178.1 153.9h0M178 152.6h0M177.1 157.3h0M176 149.4h0M176.3 150.7h0M180.5 155.3h0M176.2 158.8h0M178.7 160.1h0M177.7 151.5h0M178 165.7h0M180 149.3h0M182.3 157h0M183.4 153h0M181.3 154.2h0M177.1 165.5h0M178.8 154.3h0M182 144.9h0M179.1 158.6h0M176.8 161.4h0M180.6 152.3h0M182.7 159.3h0M178.4 158h0M179.5 155.1h0M179.6 155.6h0M182.8 158.2h0M181.9 155.9h0M183.1 155.4h0M183 156.6h0M183.2 153.3h0M182.8 154.3h0M178.6 159.6h0M182 149.2h0M176.8 156.4h0M178.7 151.1h0M182.2 154.4h0M177.2 153.2h0M178.7 149.8h0M176.5 154.9h0M177.5 154.2h0M175.8 145h0M179.9 152.3h0M182.1 151.7h0M176.4 150.7h0M180.5 148.5h0M177.9 150.1h0M178.9 156.8h0M180.7 147.2h0M175.7 156h0M180.4 148.6h0M181.5 152.4h0M181.7 149.6h0M179.2 154h0M176.3 158.6h0M176.2 158.6h0M179 152.4h0M180.5 151.7h0M176.1 154.2h0M191.6 145.2h0M195.7 163.6h0M196.1 164.8h0M194.2 156.9h0M196 153.8h0M192.4 165.6h0M190.1 151.6h0M194.6 157.7h0M191.4 153.4h0M194.3 161.8h0M190.9 163.7h0M194.8 159.9h0M195.5 161.5h0M190.4 154.1h0M191.2 160.4h0M189.2 156.8h0M195.6 159.6h0M193.8 157.8h0M194.6 154h0M189.7 147.7h0M191.5 152.8h0M195.2 150h0M195.3 154.2h0M189.7 162.4h0M191.7 153.9h0M194.6 154.5h0M193.1 168.3h0M191.5 154.7h0M190.2 149.1h0M194.3 164.9h0M190.7 157.3h0M193.5 161.9h0M193.7 154.5h0M191.2 155.6h0M190 154.8h0M193.3 149.2h0M195.3 159.2h0M189.9 156h0M189.1 163.1h0M188.9 154.2h0M191.5 156.2h0M190.5 148.5h0M190.4 151.1h0M193.4 152.2h0M195.6 157.2h0M190.7 155.8h0M193.5 156.9h0M195.2 157.5h0M190.8 149.2h0M189 151.5h0M191.4 148.9h0M193.5 143.5h0M194.2 159.8h0M190.7 155.7h0M192.7 153.6h0M191.8 154.3h0M194.5 157.7h0M189 143.8h0M189.9 151h0M190.3 149.8h0M193.5 151.1h0M194.8 158.1h0M191.1 158.3h0M189.2 162.4h0M194.1 149.6h0M188.9 160.5h0M192.2 147.1h0M194.2 152.1h0M189.7 156.2h0M190.6 159h0M194.3 156.8h0M193.9 160h0M190.8 147.6h0M192.9 146.1h0M192.7 158.1h0M190.8 145.9h0M190.5 144h0M195.2 160.5h0M190.6 154.8h0M194.3 163.8h0M191.3 151.3h0M195.2 154.7h0M195.4 160h0M193.4 152.3h0M195.9 149.7h0M192.3 158.6h0M195.1 149.5h0M192 153.2h0M191.1 147.6h0M190.4 153h0M195.5 155.2h0M189.9 157.3h0M195.6 157.2h0M191.4 155h0M189.2 156.4h0M193.9 150h0M194.2 149.6h0M189.4 151.1h0M194.8 153.5h0M194.8 157.6h0M195.1 155.2h0M195.5 159h0M190.4 153.7h0M189.7 164.9h0M194.7 158.3h0M193.5 158.3h0M191 147.7h0M189.6 162.3h0M190.4 159.6h0M191.2 153.3h0M190.7 154.9h0M190.9 153.2h0M191.2 149.3h0M195.8 146.7h0M193.4 154.7h0M189.1 150.7h0M194.5 158.8h0M191.4 152.4h0M190.5 148.3h0M195.1 164.5h0M190.1 159.9h0M188.9 158.3h0M195.9 165.4h0M188.9 149.6h0M194.6 156.3h0M190.2 149.8h0M194.9 156.4h0M190.8 158.4h0M190.4 153.1h0M193.9 152.9h0M193.5 155h0M189.5 157.1h0M194.6 148.1h0M193.4 151.7h0M191.7 158.4h0M195.3 165.9h0M189.1 161.2h0M190.4 153.6h0M192.5 165.6h0M191.6 157h0M192.2 151.8h0M192.7 154.7h0M193.6 146.3h0M191.4 152.8h0M195 159h0M193.7 155h0M192.1 151.1h0M194.5 153.5h0M192.2 153h0M195.3 156.8h0M191.1 157.7h0M194 157.1h0M190 152.3h0M190.7 151.5h0M190.1 160.4h0M191.3 159.5h0M194.1 168.7h0M189.6 157.4h0M191.7 153.6h0M196 159.4h0M192 146.1h0M190.3 153h0M190.4 152.7h0M191.7 159.3h0M194.6 157.1h0M193.9 148h0M192.2 154.3h0M189.9 150.6h0M194.2 152.4h0M195.4 150.5h0M194.3 158.6h0M191.9 155.3h0M195.2 164.8h0M194.5 152.7h0M193.8 145.5h0M193.5 150.7h0M193.4 156.2h0M189.6 147.1h0M194 159.9h0M193.4 155h0M192.2 159.8h0M193.4 148.3h0M195.6 161h0M190.2 149.5h0M191.7 146.7h0M192.4 155.8h0M192.8 154.3h0M190.1 157.2h0M192.6 142.3h0M189.6 149.3h0M194.1 152.5h0M192.6 148.1h0M192.7 146.9h0M191.9 157.6h0M193.8 154.1h0M191.7 154.4h0M196 154.3h0M191.5 158.1h0M191.8 155.7h0M189 150.9h0M193.9 158h0M191.4 153.8h0M194.2 159.3h0M195.7 153.2h0M194.7 155.4h0M191.7 154.8h0M194.5 158.5h0M194.7 152.2h0M192.9 150.2h0M190.5 159.2h0M193.5 153.9h0M194.8 158.5h0M191 148.9h0M192.8 161.6h0M191.5 161.2h0M195 155.8h0M190.7 159.4h0M192 154.4h0M194.1 155.9h0M190.9 154.5h0M192.4 158.8h0M192 149.2h0M191.5 148.4h0M195.6 157.8h0M194.9 154.8h0M195.4 157.2h0M194.9 153.4h0M193.5 155.8h0M195.8 156.9h0M193.6 155.1h0M189.9 157.3h0M190.6 155.2h0M190 150.1h0M195.4 157.4h0M195.3 153.5h0M193.3 156.4h0M195.3 149h0M205.4 149.7h0M203.2 152.5h0M207.1 152.6h0M201.4 154h0M200.5 155.2h0M203.4 154.4h0M200.6 151.1h0M204 155.7h0M206.9 165.8h0M203.4 154.7h0M204.3 151.1h0M202.6 145.8h0M203 155.8h0M204.9 156.6h0M204.9 163.6h0M205.3 158.7h0M207.5 148.6h0M203.8 167h0M203.6 155.6h0M205.6 156.9h0M204.8 151.8h0M202.5 162h0M203.5 146.2h0M201.2 154.4h0M203.1 148.6h0M206.6 159.9h0M201.9 156.7h0M203.7 150.5h0M201.7 142.1h0M205.1 156.7h0M206.3 155.3h0M201.9 158.1h0M204.5 150.6h0M199.7 151.3h0M205.7 162.3h0M199.7 153.7h0M201.9 157.5h0M207.4 155.6h0M204.7 151.9h0M207.3 148.5h0M204.7 151.6h0M205.4 153h0M204.5 155h0M205.2 154.3h0M203.3 154.4h0M200.9 154h0M199.6 159.3h0M205.1 146.6h0M202.5 157.6h0M204.2 148.2h0M201.6 153.3h0M202.1 159h0M203.1 146.9h0M199.8 148.9h0M204.3 158.3h0M206.4 157.8h0M204.4 160.7h0M199.4 155.1h0M202.7 144.2h0M207.9 148.3h0M203.5 152.5h0M205 158.3h0M201.2 156.2h0M199.3 158.3h0M205.3 166.6h0M200.1 166.2h0M207 157h0M205.6 158.3h0M201.4 154.9h0M199.7 154.6h0M206.1 155.4h0M205.7 148.4h0M200 152.2h0M203.4 148.7h0M207.5 155h0M205.6 170.2h0M199.4 164.6h0M206.5 157.8h0M200 154.6h0M200.8 163.8h0M206.9 154.8h0M202.5 154h0M204.4 149.3h0M200.6 159.6h0M206.3 152.8h0M204.8 162.2h0M203 147.5h0M207.6 160.7h0M206.2 153.8h0M199.8 156h0M207.9 152h0M202.2 145.3h0M204.6 165.6h0M204.6 155.2h0M202 145.1h0M202.6 158.2h0M205.3 149.2h0M206.4 151.1h0M201.8 158.4h0M203 154h0M204.5 160.3h0M199.7 148.4h0M206.6 160.6h0M204.3 147h0M201.7 159.9h0M205.3 150.4h0M207.3 154.4h0M204.2 157.4h0M206.3 159.8h0M207.5 163h0M201.4 149.6h0M203.4 149.8h0M201.1 155.6h0M206.3 165.5h0M203.3 161.7h0M206.1 162.2h0M201.3 146.3h0M207.1 151.1h0M203.9 148.7h0M201 157.1h0M201 159.2h0M202.5 160.7h0M204.3 151.1h0M200.6 160.1h0M199.7 162.4h0M200.2 157.2h0M204.9 157.6h0M204.6 153.7h0M202.3 152.9h0M199.6 157.6h0M208 158.1h0M204.3 151.7h0M201.6 155.8h0M207.6 150h0M206.1 162.8h0M201.5 143.7h0M199.6 158.6h0M200 160.4h0M199.7 148.5h0M203.3 150.8h0M207.6 156.5h0M204.6 155.5h0M202.8 162.8h0M201.6 163.4h0M204.3 148.2h0M205.2 148h0M202.8 151.1h0M207.8 155.7h0M208 154.6h0M201.6 156.3h0M202.4 162.5h0M206.7 150.8h0M199.7 159.4h0M205 149.7h0M208 157h0M205.9 158.6h0M207.6 153.4h0M204.5 152.7h0M206 161h0M201.6 157.6h0M200.4 154.2h0M201.4 155.6h0M200.6 156.5h0M205.6 157h0M201 166.9h0M201.2 158.1h0M207.5 162.1h0M200.5 149.4h0M203.2 163.3h0M206.7 163.2h0M204.8 152.7h0M206.5 158.4h0M203.5 152.6h0M201.3 153.6h0M199.8 156.3h0M200.6 150.8h0M207 155.8h0M200.7 161.6h0M201.7 157.1h0M200.8 152.8h0M203.6 150.3h0M200.3 166.8h0M207.9 164.2h0M205.2 161h0M201.2 151.8h0M201.6 155.5h0M201.1 146.1h0M208.1 165.5h0M207.4 158.7h0M207.2 158.2h0M199.8 157.1h0M207.9 150.6h0M199.4 159.2h0M200.5 152.8h0M199.3 160.5h0M200.9 151h0M203.1 156.9h0M204.3 154.2h0M200.5 160.5h0M205.6 165.2h0M201 157.8h0M204.7 157.6h0M203.7 154.2h0M204.7 159.9h0M205.5 160.1h0M201.1 149.9h0M199.9 157.1h0M205.7 152.7h0M199.8 159.3h0M206.7 152.7h0M206.9 155.6h0M207.3 155.7h0M203.5 157.1h0M200.9 153.4h0M206.6 155h0M202.6 156h0M204.5 162.3h0M203.2 154.3h0M203.8 160.6h0M206.5 162.4h0M206.9 153.1h0M202.7 160.7h0M205.9 166.8h0M207.7 158.6h0M203.7 148.8h0M204 154.9h0M199.5 161.1h0M200.9 155.5h0M200.2 157.3h0M199.6 166.6h0M200.1 156.4h0M199.5 154.6h0M204.6 151.2h0M205.5 154.9h0M200.2 162.6h0M199.7 152h0M200.4 151.4h0M201.8 154.8h0M200.4 155h0M204.5 157.8h0M206.9 160.3h0M205.9 162.7h0M200.7 161.8h0M202.7 143.7h0M203 157.1h0M202.8 148.8h0M207.6 155.9h0M201.4 150.9h0M202.2 141.4h0M206.4 162.7h0M207.3 159.4h0M199.8 149h0M203.9 166h0M201.5 152.1h0M203 150.8h0M204 151.9h0M212.5 162.1h0M218.4 164.5h0M219.6 148.2h0M219.2 147.7h0M219.2 161.1h0M214.4 154.9h0M217.6 153.7h0M219.5 160.2h0M217.1 154.5h0M215.7 159.7h0M219.7 153.1h0M217.4 158.6h0M213.2 143.4h0M216.3 147.3h0M214.4 147.5h0M213.5 154.7h0M213.3 156.3h0M215.5 156.7h0M214.5 153.5h0M216.6 156.4h0M218.9 149.6h0M217.4 150.5h0M213.9 152h0M216.6 149h0M217.1 150.4h0M214.2 154.2h0M214 148.6h0M216.9 154h0M212.4 148.1h0M214.2 161.1h0M216.6 150.3h0M220 154.1h0M214.6 153.8h0M212.8 150.9h0M219.1 152.7h0M215.3 154.3h0M215.7 153.6h0M214.1 151h0M219.8 153.8h0M214.9 150.7h0M215 150.5h0M218.9 148.4h0M218.7 146.6h0M218.1 153.8h0M218.2 146.2h0M217.8 156h0M219.4 161.1h0M212.3 161h0M218.3 149.7h0M219.8 151.1h0M216.8 146.9h0M219.1 158.6h0M217 150.6h0M215.9 157.6h0M217.9 153.4h0M216.6 159h0M215.3 149.9h0M218.9 162.2h0M216.2 151.2h0M214.7 154.5h0M213.4 147.7h0M213 150.7h0M219.5 150h0M218.8 162.9h0M219.8 155.5h0M219.4 159.2h0M212.4 159.9h0M216.2 155.9h0M219.5 155.1h0M220.1 147.9h0M216.3 146.8h0M215.3 152.8h0M215.1 149.8h0M219.7 151.5h0M217.6 152.4h0M215.2 153.2h0M215.4 147.8h0M219.2 151.9h0M219.8 148.8h0M217.2 155h0M220.1 150.5h0M218.7 159.5h0M213.6 147.8h0M218.7 166.8h0M216.3 162.1h0M217.7 161.3h0M218.7 164.7h0M215.6 153.1h0M213.5 152h0M216.2 159.8h0M213.8 156.2h0M217 160.7h0M215.1 160.5h0M212.6 153.5h0M215.5 154.7h0M217.7 150.6h0M212.3 150.8h0M216.9 163.2h0M217.5 156.5h0M216.6 159.7h0M214.4 149.7h0M220.1 149.1h0M216.8 152.3h0M213.5 154.7h0M218.2 156.4h0M213.6 154.8h0M216.4 157.2h0M218.6 148.5h0M212.8 162.1h0M214.8 154.1h0M217.9 152.9h0M214.4 155.7h0M213.1 158.9h0M215 149.8h0M215.8 152.6h0M219.2 155.4h0M216.8 159.5h0M217.1 153.2h0M214.2 164.2h0M219 157.5h0M214.8 160.6h0M214.7 148.1h0M217 160h0M219.7 152.6h0M214.2 147.4h0M214 158.3h0M214.7 157.4h0M218.5 150.6h0M214.2 155.5h0M213.8 157.5h0M219.9 152.4h0M213.2 159.6h0M216.5 150.5h0M212.8 157h0M213.3 155.6h0M214.2 149.3h0M213.8 152.6h0M212.6 157.3h0M217.5 153.1h0M217.8 157h0M213 152.5h0M213.3 162.7h0M215.8 158.4h0M213.5 145.9h0M215.1 152.7h0M219.8 149.4h0M213.9 158.9h0M214.1 151.6h0M215.8 159.1h0M214.3 158.9h0M219.3 150.3h0M214.2 150.9h0M217 156.8h0M213.3 163.1h0M216.3 150.4h0M218.3 153.6h0M215.3 150.2h0M214.7 148.1h0M215.3 156.2h0M218.9 156h0M214.8 152.2h0M216.7 152.3h0M215.1 149.5h0M212.8 153.7h0M214.7 153.8h0M217.9 157.2h0M214.5 144.6h0M218.3 160.7h0M219.2 156h0M214.5 151.4h0M212.5 150.8h0M215 147h0M215.5 149.6h0M214.2 147h0M218.9 150.3h0M213.7 158.9h0M213.2 160.3h0M217.9 150.5h0M212.6 156.6h0M213.8 154.1h0M214.7 152.4h0M214.7 154.4h0M217.3 158.5h0M216.7 162.8h0M217.9 154.5h0M217.6 159.8h0M215 162.8h0M218.4 154.7h0M214.5 162.6h0M217 157h0M231.7 157.6h0M231.3 166.6h0M225.1 153.9h0M231.3 149.2h0M232 154.1h0M233.1 157.2h0M228.2 163.2h0M231.2 150.8h0M232 150.2h0M224.8 151.3h0M230.8 148.4h0M232.9 157.7h0M225.5 156h0M230.8 152.8h0M231.8 154h0M233.3 162h0M230.2 150.5h0M224.9 154.6h0M227.6 152.3h0M227.2 157.7h0M225.6 153.7h0M226.5 147.7h0M226.5 149.7h0M233 154.2h0M227.6 152h0M225.6 167.1h0M229.5 149.6h0M229.4 163.9h0M231.4 158.6h0M229.9 162.1h0M228.6 156.3h0M225.4 145.3h0M227 153.3h0M224.9 158.8h0M226.9 158.7h0M228.5 163.6h0M225.4 153h0M227.7 161.2h0M225.9 156.7h0M233.5 155.3h0M231.3 162.3h0M233.4 159.5h0M229.5 159.9h0M228.3 159.4h0M226.1 155.2h0M232.9 154.5h0M230.3 145.4h0M230.4 145.1h0M226.6 155.9h0M224.6 158.8h0M231.5 157h0M226 151.9h0M230.2 161.9h0M225.9 145.2h0M231.6 159h0M227.3 147.5h0M226 158.2h0M227.7 151.1h0M229.4 147.6h0M226.5 163.7h0M224.7 148.5h0M231.9 151.3h0M230.9 165.8h0M228.9 147.4h0M228.9 157.7h0M229.7 158.8h0M225 154.6h0M228.4 152.1h0M233.3 156.3h0M228.4 156.1h0M226.1 155.8h0M232.1 154.1h0M232.3 156h0M226.9 150h0M230.5 148.7h0M227.4 155.1h0M228.4 150h0M232.7 145.5h0M225.8 154.2h0M229.5 160.7h0M227.5 156.4h0M227.3 157.9h0M228.6 167.4h0M232.3 152.4h0M233.4 162.6h0M231.8 152.6h0M224.9 152.3h0M227.1 148.8h0M229.6 161h0M230.3 152.7h0M227.1 149.2h0M224.6 165.5h0M226.1 153.2h0M225.1 150.3h0M230.4 149.4h0M228.2 160.7h0M229.2 149.7h0M225.4 153.6h0M226 161.4h0M225.3 151.3h0M232.3 154.5h0M229.2 157.5h0M226.6 148.7h0M226.4 156.4h0M229.6 159.9h0M229.8 159.2h0M225 154h0M228.4 156.5h0M232.3 146.1h0M231.3 151.7h0M225.4 164.9h0M225.2 155.3h0M232 151.8h0M233.2 157h0M229.5 155.3h0M231.5 151.5h0M224.8 156.3h0M224.4 161.1h0M229.8 155.8h0M230.9 159.2h0M228.3 161.4h0M232.4 149.5h0M229.5 164.8h0M225.9 150.2h0M231.2 149.3h0M230.6 162.6h0M232 158.5h0M231.2 158.3h0M233.1 154.5h0M229.9 153h0M225.2 146.1h0M225.4 152.8h0M232.9 152.8h0M226.1 152h0M228.5 159.2h0M225.4 149.5h0M224.5 163.5h0M226 162.4h0M229.5 152.7h0M227.8 163.8h0M225.6 160.9h0M230.7 149.6h0M231.8 155.4h0M227.5 155.3h0M225.7 144.4h0M231.7 154.4h0M224.6 160.1h0M230.6 164.1h0M228 152.2h0M232.2 155.1h0M228 160.9h0M225 150.3h0M227.4 158.2h0M229.8 166.5h0M224.7 158.4h0M228.7 159.9h0M229.7 150.8h0M224.4 159.1h0M229.7 154.2h0M228.6 156.2h0M233.5 158h0M230.5 155.5h0M226.8 154.8h0M226.7 162.4h0M229.6 140.8h0M233.5 152.5h0M224.6 146.7h0M232.4 151h0M231.5 149.1h0M227.7 149.6h0M226.9 159h0M233 143.8h0M230.6 151.3h0M231.2 163.5h0M229 151.5h0M229.4 150.9h0M228.1 160.2h0M227.3 157.6h0M233.5 149.6h0M226.6 156.5h0M226.5 154.1h0M224.4 158.2h0M232.4 148.7h0M229.6 156.6h0M227.1 156.8h0M227.1 157.6h0M227.2 154.7h0M233 147.7h0M227.5 162.2h0M225 152.3h0M226 141.3h0M227.6 147.5h0M231.5 144.2h0M224.9 160.8h0M228.8 158.8h0M226.7 153.1h0M224.5 158h0M230.9 158.4h0M226.3 152.8h0M229.9 156.9h0M232.3 152.4h0M231.1 151.5h0M233.3 153h0M231.8 153.2h0M232.4 153h0M226.1 158.5h0M229.3 160.7h0M232.9 149h0M226.3 151.5h0M230.3 162.9h0M228.1 153.2h0M224.8 151.2h0M228.2 163h0M227.4 157.9h0M228.9 151.5h0M228.6 152.7h0M224.4 162.2h0M233.5 151.7h0M239.8 160.6h0M238.2 159.4h0M243.7 163.8h0M240.6 162.6h0M241.6 154.8h0M242.7 155.9h0M242.2 155.6h0M239.2 163.9h0M243.2 158.7h0M239.6 152.3h0M243.7 162.1h0M239.3 158.1h0M241.5 160.7h0M237 157.3h0M241.1 155.3h0M240.1 153.6h0M245.6 159.1h0M237.7 164.2h0M237.1 158.8h0M241.3 159.8h0M241.8 162.4h0M240.1 166.9h0M238.2 160.8h0M245 163.5h0M238.3 164.5h0M239 159.7h0M245.5 152.9h0M239.9 158.9h0M243.9 154.8h0M244.9 158.8h0M237.8 157.9h0M242.6 157.1h0M240.4 159.8h0M241.9 157.7h0M240.5 166.7h0M242.4 154.2h0M238.9 158.4h0M240.7 161.8h0M238.9 160.3h0M242.6 164.4h0M239.5 161.3h0M241.9 158.6h0M238.3 163.1h0M239.3 152.9h0M243.5 159.4h0M239.8 156.1h0M241.2 160.6h0M242.9 156.9h0M242.2 153.9h0M244.7 159.4h0M238.7 161h0M243.8 155.7h0M244.5 161h0M245.7 165h0M239.5 160.5h0M245.5 158.5h0M237 159.8h0M243.4 157h0M237.8 160.8h0M237.7 162.9h0M239.9 163.9h0M244.7 155.1h0M245.5 160.9h0M243.9 158.6h0M243 162.5h0M238.9 159.5h0M240.7 159.5h0M245.6 158.7h0M239.7 160.1h0M241.2 157.6h0M238.1 156h0M242.9 159.3h0M238.2 157.9h0M237.9 153.7h0M240 150.5h0M240 159h0M238.8 165.9h0M243.3 156.6h0M239.3 159.9h0M237.5 160.6h0M237.3 154.2h0M241.8 158.5h0M240.1 164.5h0M242.6 158.8h0M241.7 153.4h0M245.5 156.5h0M244.6 157.2h0M239.7 155.1h0M240.6 162.5h0M240.3 158.3h0M240.5 167.2h0M236.9 167.6h0M242.2 161.1h0M242.3 157.3h0M240.2 159h0M237.9 160.5h0M244.3 159.7h0M237.3 150.1h0M243 155.9h0M241.7 163.5h0M239.7 158.9h0M243.5 158.1h0M244.4 153h0M245.7 157.9h0M239 154.3h0M240.2 154.4h0M243.2 154.6h0M242.3 161.4h0M242.9 156h0M241.7 163.5h0M238.9 156.2h0M244.9 156.1h0M241.1 158.1h0M241.1 154.5h0M238.8 163.7h0M241.6 165.4h0M241.5 152.1h0M239 157.3h0M238.4 160h0M242.5 154.7h0M244.2 163.8h0M237.3 153.4h0M240.3 162.3h0M238 152.2h0M238.3 158.2h0M240 160.6h0M244 154h0M237.7 157.5h0M240.4 164.6h0M240.9 158.8h0M241.1 160.8h0M238.2 152.2h0M242.9 155.3h0M239 161.8h0M240.2 156.9h0M237.1 161h0M238.7 157.2h0M238.5 157.7h0M243.2 157.7h0M239 161.7h0M244.2 162.4h0M244.5 160.8h0M238.7 152.5h0M242.3 161.6h0M240.2 162.7h0M240.1 160h0M243.2 157.1h0M242.6 162.1h0M244 155.8h0M242 161.6h0M245 161.6h0M243.2 167.4h0M240.2 157.2h0M237.5 155.1h0M243.6 154.8h0M241.3 162h0M244.8 158.1h0M242.1 157.8h0M241 152h0M240.6 160.6h0M241.1 162h0M241.2 156.3h0M241.4 161.3h0M243.4 153.2h0M240.4 164.3h0M241.8 160.2h0M243.7 158.3h0M238.8 156.6h0M237.6 158.7h0M237.7 156.5h0M243.5 156.9h0M242.9 157.8h0M243.2 157h0M243 158.4h0M240.6 149.3h0M244.1 151.4h0M244.6 160h0M241.5 161.5h0M237 160.9h0M239.2 158.4h0M239.7 158.5h0M241.8 166.1h0M241.4 157.8h0M239.6 159.3h0M244.5 160.3h0M239.2 151.6h0M238.7 162.7h0M240.2 160.4h0M241 154h0M240.1 159.2h0M156.6 131.2h0M155.3 139.8h0M157.2 141.5h0M154.4 142.5h0M150.2 145.6h0M169.3 131.5h0M167.1 134.3h0M168.3 132.6h0M183.7 127.8h0M162.6 151h0M162.2 159.5h0M176 170.5h0M163.5 172h0M237.2 139.5h0M238.8 140.5h0M237 148h0M229.5 137.5h0M230.6 138.5h0M228.4 138.2h0M218.8 137h0M219.8 138.8h0M200.5 141.5h0M188.5 141.5h0M198.6 142.8h0M151.5 167.5h0M153 166.5h0M179 169.5h0M231 171h0M232 172.3h0M245.5 173h0M244.2 171.5h0" stroke="#87ceeb" stroke-width="2.2" stroke-linecap="round" fill="none"/>
<path d="M180.9 193v2.3M182.7 192.8v3.8M181.2 192.1v2.4M181 189.5v4.2M182.8 192.1v3.7M180.8 190.8v4.8M180.8 188.5v4.5M182.2 189.3v4M181.4 189.6v4.5M182.4 192.1v3.6M180.4 188.7v3M182.2 187.7v2.3M182.7 187.3v4.2M181.2 191.2v4.1M181 186.7v4M181.3 187.9v3.6M181.3 190.5v3.5M180.7 190.5v4.8M181.4 193.4v3.2M181.9 192.6v2.6M181 187.1v4.9M192.8 186.7v4.4M189 180.2v4.7M192.2 179.2v5M188.1 193.9v3.4M191.3 181.3v2.6M189.8 193.5v3.6M193.8 193.3v3.6M188.1 181.8v3.3M194.5 187.9v4.4M192.2 179.8v2.9M187.4 190.3v5M190.6 181.9v2.8M189.7 188.9v3M194 181.1v4.5M188.7 187.3v2.8M187.8 190.4v4.2M189.6 194.9v2.9M188.8 189.8v3.3M187.6 193.9v3.5M188.6 191.8v2.9M190.7 178.7v4.5M194.6 192.1v4.9M189.5 181.1v4.8M190.8 179.2v2.6M194.2 189v2.2M194 185.2v3.4M191.6 188.8v4.3M193.6 191.6v3.7M191.1 179.9v4.9M194 188.4v5M192.3 186.6v4.1M189.9 190.8v2.9M194.7 187.8v3.3M194.3 187.3v2.3M187.3 183.7v3.3M192.7 183.9v4.3M190.4 190.1v3.1M193.6 191.4v2.7M193.3 186v3.7M193 188.9v4.7M193.4 189.4v4M194.9 196.9v2.5M190.5 180.9v3.4M194.4 193.4v2.8M188.6 187v4.5M192.9 190.5v3.4M188.5 184.1v3.4M192.3 183.9v4.7M188.1 200.2v3M191.5 179.9v3.5M193.4 190.9v5M191.4 193.3v3M193.1 190v3.7M194.4 185.5v4M188.7 193.7v3.1M194.2 189.2v4M194.2 193.5v3.4M194.5 186.7v4.6M191.5 188.3v3.8M193.4 192.3v4.3M190.4 183v3.8M189.2 185.9v4.2M190.4 181.3v3.3M187.7 188.2v2.6M187 183.4v3.2M193 193v3.1M188.9 189v2.2M188.4 193.2v4.4M191.8 187.3v3.7M191.7 183.4v3.5M192.8 186.4v4.2M192.7 180.7v2.4M189.2 193.6v2.5M187.4 179.2v4.2M194.6 187.5v2.3M187.6 187.8v4.7M193.4 186.9v3.6M190.7 182.5v4.9M192.1 188.6v4.6M193.1 187.6v3.3M189 189.4v3.1M190.3 188.3v3.4M191.9 184v4.4M188.7 190.9v3.5M187.7 188.9v4.2M191 187.5v5M188.5 183.9v4.3M194.8 188.8v3.6M190.9 189v4.3M188.6 187.1v3.6M191.7 186.4v3.8M187.6 189.9v3.4M192.6 189.9v4.9M189.8 185.3v5M190.4 181.8v3.8M190.1 191.2v3.8M188.2 192.7v2.5M187.1 182.6v3.8M193.8 187.4v4.8M192 181.9v2.9M194.4 184.7v4.4M189.4 190.6v2.9M191.4 181v4.2M194.6 183.1v3M188.2 183.1v3.9M193.3 193.5v4.4M191.7 183.9v2.3M194.6 184.6v4.6M191.4 182.6v3.7M187.9 190.2v2.9M191.8 175.7v3M191.9 176.9v3.8M193.2 176.2v4.3M193.3 179.4v2.7M192.6 176v2.4M192 177.2v2.8M192.5 176.5v4M191.9 175.8v3.3M192 174.3v4.4M192.3 178.3v4.3M191.7 176.2v3.2M191.4 179.7v3.9M192.7 178.3v2.6M191.1 177.3v3.9M193 177.9v4M191.1 178.5v2.8M191.7 176.9v4.1M193.3 175.9v2.6M193.4 173.8v5M191.2 176.4v3.7M193.3 176.1v4.8M192.9 177.4v4.1M193.1 177.5v2.8M208.1 181v4.3M199 184.2v3.9M198.8 183.4v3.3M205.5 179.3v4.2M200.2 179.5v4.3M200.4 176v4.1M208 175.9v2.8M202.1 188.2v4.9M202.4 183.1v4.8M201.1 183.9v3.4M208.3 192.1v4.8M205.4 181.8v5M200.1 184.3v3.2M202 184.1v2.7M203.7 183.1v2.9M205.2 186.6v3.6M206.3 181.3v2.6M204.2 174.9v2.8M204.4 185.8v4.3M201.9 175.5v2.2M206.9 185.9v3.9M207.5 177.1v3.3M200.3 180.3v4.2M202.3 184.4v2.9M206.4 179.2v3.5M206.2 179.7v2.8M206.3 180.3v2.2M202.6 181v4.6M205.7 175.6v3.2M202.6 196v3M207.6 176v4.9M204.6 181.4v3.2M201.2 186.7v3.7M207.4 182v2.6M206.6 171.7v3.3M208.2 178.1v4.7M205.9 176v4.5M201.1 180v4.5M206.9 176.9v4.8M203.3 183.3v2.8M199.4 192.7v2.3M207.6 180.1v2.5M206 177.3v4M204.2 188.9v3.7M202.7 181.4v3.2M207.7 186.1v4.2M199.6 186.1v2.8M201.3 189.7v3.9M202.9 190.9v3.4M205.6 181v2.6M204.9 189.5v4.4M199.5 174.6v2.7M200.7 181.8v4.5M204.9 181.1v4.4M207.5 183.9v3.4M207.7 184.6v3.5M204.1 184.1v2.8M206.4 180.3v2.6M207 173.8v4.2M202.5 189.6v3.2M199.8 179.7v3.8M205.9 184.8v3.2M199.1 187.8v2.9M208.2 173.2v2.6M199.9 179.1v4.4M204.8 180.2v3.4M206.5 182.4v2.6M198.9 179.7v4.7M206.9 180v2.6M207.3 184.7v2.8M203.1 186.3v2.6M205.6 180.2v3.8M207.6 174.9v4.4M200.4 187.9v2.2M199.8 187.3v4.8M200.4 177.2v4.2M200.2 181v4.6M207.6 171.5v3.4M201 183.8v3.4M207.5 181.8v2.4M204.5 193.4v2.9M208 180.2v4.7M203.8 178.1v3M206.9 176.7v4.8M207.5 179.6v4.6M206.4 175.8v4.8M200.9 175.6v2.6M203.1 190v3.4M207.6 168.3v4.6M200.2 179.4v3.1M202.5 179.4v2.9M200.2 185.6v2.2M203.4 188.5v3.7M201.2 178.6v3.7M206 184.9v2.8M204.3 188.9v2.9M202.2 192.1v4M207.9 182.8v2.7M204.2 182.9v4.4M208 174.9v4.7M201.6 187.3v3.4M198.9 183.5v2.5M201.4 185v3.8M204.7 172.6v3M205.2 177.8v2.5M202.1 189.9v4.2M203.9 182v3.8M207 177.4v2.9M204.5 179.7v2.9M201.5 186.2v4.2M208 178.7v4.8M199.2 187.9v3.2M200.6 182.1v3.8M203.5 191.4v2.8M205.1 187.9v3.5M205.2 194.3v3.8M205.2 175.6v3M205.5 182.3v3.9M202.7 184.5v3.7M208 178.2v2.3M198.7 188.7v2.5M202.6 189.7v3.4M206.6 176.3v2.6M198.7 183.3v3.7M206.7 182v3.9M199.6 184.7v4M207.1 177.2v4.7M203.6 178.9v3.9M202.5 194.9v4.4M205.4 189.9v2.5M208.1 183.1v4.7M199.7 180.8v4.8M200 177.6v3.9M202.1 177.5v4.5M208.2 170.3v3.7M208.2 175.5v3.4M200.2 177.3v2.6M205.6 176.6v3.5M207.3 177.6v4.2M201.1 183.7v4.4M200 183v4.7M204.3 184.3v3.7M203.5 181.3v4.9M204.2 179.5v3.2M203.9 183.1v2.2M198.7 187.1v3.4M200.9 183.9v3.7M205.9 180.3v4.4M200.9 191.3v2.8M199.5 177.7v2.2M201.9 183.9v4.2M206 181.7v2.7M206.7 185.6v4.6M203 174v3.8M204.5 183.6v2.6M200.4 183.3v3.7M201.8 184v4.4M199.5 179.1v2.8M201.6 178.6v4.9M203.6 188.3v2.3M200.1 180.6v2.6M201.6 178.4v3.9M205.5 190v4.1M202.8 185.1v3.9M199.8 182.1v4.8M206.8 178.1v2.7M204.7 181.3v2.3M199.2 177.6v3.7M199.6 181.6v3.2M205.8 179.4v3.3M200.2 176.3v3.3M205.1 175.1v4.7M199.5 184.7v3M207.4 182.3v4.2M202.5 184.3v3.8M200.5 188.1v3M208.2 183.3v4.8M201.8 183.3v2.9M200.8 189.2v3M202.5 183v2.7M200.1 176.6v4.2M199.3 168.6v4.2M207.5 175.8v3.2M199.6 176.7v2.5M200.5 181.5v3.9M205.1 173.7v3.1M201.4 183.1v3.7M207.7 181.4v4M200 177.3v2.2M203.3 190.2v2.3M205.4 185.9v4.5M204.2 184.6v4.7M205.5 181.3v2.4M206.4 183.1v2.8M199.1 184.7v3.4M204.3 182.4v4.6M205.3 177.4v3M202.2 182.5v4.9M208.1 176.9v2.4M202.8 186.1v4.8M205.6 181.4v2.3M207 177.3v3.9M207.1 176.5v5M205.6 184v4.2M205.1 184.3v4.8M198.6 187.1v3.2M207.1 179.7v4.9M208.3 175.4v4.8M206.2 189.4v3M207 168.4v4.4M204.8 175.4v4.8M207.8 177.2v2.8M203.6 183.3v3.3M203.3 181.9v4.4M203.6 188.2v3.8M204.3 183.6v4.8M203.5 188.3v3.4M203.5 178.6v3.5M200.4 185.5v2.6M203.8 183.3v3M205.4 188.5v4.7M206.2 176.7v2.9M207.6 178.5v4.7M203.6 181.3v4.5M202.5 187v3.8M205.5 183.6v3M205.7 176.5v2.2M200.7 178.3v2.5M201.6 184v4.5M213 182.3v4.9M217 184.3v4.9M217.2 172.8v3M213.6 176.4v4.9M211.7 181.7v3.4M219.7 176.6v3.2M215.8 173.5v4.8M218.3 165.1v4.5M213.2 180.8v4.1M218.2 177.9v3M217.7 172.5v2.5M213.6 183v2.7M215.5 178.4v2.9M218.7 166.8v2.7M218.8 171.1v3.8M214 184.1v3.1M219.8 177v2.8M213.7 184v4.7M219.3 178.1v3.2M218.7 173.1v2.2M219 173.6v2.2M218 177.1v3.7M214.5 189.4v2.2M215.1 187.4v3.8M214.7 179.4v2.2M211.4 180.8v3.5M214.6 180.9v3.9M214.5 182.1v3.7M217.9 173v2.8M216.7 183.1v4.6M212.9 188.1v5M216.6 178.4v4.5M213.8 184.2v4.8M219.2 183.1v5M213.3 177.4v3.2M214 179v3.7M211.5 179.7v3.4M216.5 183.5v4.4M215.7 182.6v2.6M213.9 184.6v2.8M214.9 175.1v3.5M212.2 189.4v3.7M219.9 175.4v5M213.3 191.2v3.1M216.4 178.3v2.2M218.2 176.7v3.3M218.3 174.2v4.7M215.4 188.6v2.4M219.9 179.6v3.7M213.2 183.5v3.9M216.7 178.8v4.6M216 171.1v3.1M214.6 182.1v3.9M213.5 179.6v4.9M217.8 163.1v5M212 187.2v3.8M215.3 181v3.1M212 182.3v4M212 178.7v4.3M215.7 183.1v4.1M213.7 180.3v4.1M219.8 170.6v3.3M212.7 176.7v4.2M214.5 181.6v3.2M218.8 178.2v2.8M214.3 191.2v2.4M214.2 177.6v3.8M213.7 178.9v2.7M211.9 186.7v3M212.2 181.3v3M217 173.6v3.2M214.1 181.3v3.4M218.6 172.4v5M219.6 179.4v3.7M214.4 179.6v3.7M217 178.8v3.3M217.1 172.8v3.7M213.2 183.2v4.5M218.2 167.7v3.7M214.5 183.9v3.6M217.7 179.5v3.2M219.7 176.6v2.7M217.2 174.9v2.8M215.4 176.5v2.4M212.9 185.5v3M217.3 183v2.3M213.5 180.8v3.4M216.6 176v3.8M212.7 178.9v2.5M216 178.5v4.3M212.4 176.1v3.5M212.4 182.6v4M213.9 179.8v3.4M216.6 172.5v4.4M218.1 172.7v4.1M215.1 180.1v2.5M218.5 168.7v3.7M214.4 179.1v2.9M215.1 188.6v4.3M216.9 175.9v3.2M212.1 181.7v2.8M219.4 175.5v2.3M219.8 174.4v5M218.6 172.6v2.5M212.8 185v2.9M211.3 177.3v4.8M219 168.4v2.3M217.3 180v3.3M215.9 181.5v3.4M219.1 173v4.1M214.2 185.5v4.4M211.8 182.3v5M211.8 181v3.1M212.6 181.2v2.4M213.8 180.8v2.8M219.2 186v2.2M218.9 180.6v2.9M218.2 175.3v3.9M213.7 188.8v4.7M217.6 173.2v2.4M213.2 191v2.9M216.1 184v4.7M216.6 179.5v3.9M217.4 174.9v3.3M215.3 182.4v2.4M212.9 178v2.3M219.6 174.5v2.8M218.5 182.6v3.9M213.4 181.3v2.3M213.2 178v3.6M213.1 185.8v4.5M215.7 179.4v2.2M215.6 187.7v3M217.8 177.5v3.4M218.9 173.5v3.9M214.3 184v4.3M217.6 173.5v4.1M215.8 175.9v3.4M212.6 186.8v3.1M215.7 177.3v4M218.1 178.1v3.5M214.3 188v4.8M218.3 178.6v3.7M216.8 179.5v3.8M215.4 175.9v4.1M213.1 186.3v3.5M215 189v3.6M213.4 182.1v4.1M218.5 169.8v3.9M216.7 175.1v5M212.3 183.1v3M218.8 171.9v3.6M218.1 171.5v5M215 173.3v4.5M217.1 179.7v3.8M212.1 181.7v3M214.8 179.3v2.7M213.1 182.2v3.4M218.8 173.7v3.4M212.8 183.9v3.4M216.3 180.8v2.9M215.9 184.1v3.5M215.1 172.5v3.8M211.3 183v2.5M219.4 175.7v4.1M218 176.8v4.2M216.2 176.2v2.7M218.1 175.4v2.9M213.9 182.3v2.3M216.2 175.6v3.5M216.9 173.6v4.1M211.8 186.1v3.3M216.9 176.4v3.9M216 176.6v3.9M217.7 183.7v2.3M218.9 181.2v2.3M211.6 182.4v3.6M213.4 183.4v4.8M212 178.6v4.2M213.8 182.4v3.4M215.3 175.6v2.9M217.6 182.5v2.5M212.2 182.1v4M214.1 182.2v4.4M212.2 179.8v3.3M220 168.9v2.4M213 189.8v3M224.1 181v4.2M223.4 185.5v4.4M224.5 179.3v3.3M224.5 181.5v4.7M224.6 172.4v3.3M223.7 171.5v2.2M224.4 186.7v2.7M225.2 175.6v4.7M224.9 179.5v4.2M223.9 170.6v2.4M223.4 177.2v3M224.3 190.1v3.3M223.2 172v3.5M225.1 175.9v2.2M224.6 173.8v4.8M223.6 177.3v3.7M225.4 188v2.9M223.8 175.4v2.3M225.2 175.6v3.8M223.3 176.4v4.8M225 182.9v4.2M224.2 184.2v4.6M224.1 184v4.7M225.6 177.3v4.1M225.6 185.8v2.3M223.5 179.9v3.1M226 177.3v3.8M223.3 180.4v3.4M223.7 175.1v2.8M224.4 176v2.4M223.6 179.2v4.7M224.8 177.5v4.1M224.3 192.7v3M224.5 182.7v3.5M224.2 191.7v4.7M225.1 184.3v2.6M225.5 175.6v4M224 180.7v2.8M224.5 181.4v4.8M225.8 180.2v4.5M225.5 184.3v4.9M224 182.8v3.3M224.5 185.6v3.6M226 182.4v3.1M224.9 179.9v3.2M224.4 185.2v4.9M225.9 179.6v5M224.1 172.1v5M223.4 176v4.8M226 182.4v3.6M225.3 182.9v4.1M223.3 178.7v4.8M224.6 183.2v3.4M223.2 182.5v4.8M223.4 182.7v4.5M223.5 182.5v3M223.6 185.4v3.2M225.7 175.9v4.1M223.9 181.4v2.6M225.7 187.3v2.9M223.5 182.9v2.7M226 174.4v2.5M225.8 182.1v4.8M223.5 186.2v5M225 184.2v4.5M225.4 179.5v3.6M223.8 184.5v4.3M224.5 179.4v4.1M224.1 185.8v3.4M224 177.9v3.7M225.6 178.5v2.5M224.7 182.2v2.9M230.3 193v3.2M230.5 193.4v3.2M233.3 188.2v4.1M232.9 196.9v2.9M229.7 190.7v2.8M232.5 188.1v4.7M233.4 188.3v4.4M231.6 191.8v4.8M228.8 186.1v4.4M232.7 191.3v2.7M231.5 193.2v3.6M229.4 185.5v4.6M228.9 190.5v4.5M231.7 193.9v2.8M231.6 193v3.5M231.8 192.5v3.9M233.2 191v2.2M230.4 189.4v2.9M231.9 191.7v4.3M232.1 188.6v4.1M231.2 189.2v3.4M231 194.1v3.8M233.2 196.1v3.7M232.3 193.7v3.2M232.6 190.4v2.4M229.6 190.1v4.3M233.1 185v4.4M232.6 191.7v3.4M232.3 188.3v4.4M230.8 190.1v4.5M232.4 192.4v4.2M232.6 191.9v4.5M229.3 186.1v4.9M229.2 189v2.3M230.1 189.7v4.9M228.9 192.5v3.5M229.5 193.8v4.4M232.6 187v4.3M229.9 196.4v2.4M229.7 190.3v3.8M230.6 192.4v2.4M230.3 196.6v4.3M230.3 192v3.1M228.4 192v3.2M229.7 190.5v2.9M228.5 193v4.5M231.3 193.8v4M230.9 191.9v3M233.3 191.8v4.3M230.3 197.7v2.7M229 189.2v4.5M232.6 194.2v3.9M232.4 190.3v4.4M231.9 185.7v3.9M229.2 187.8v5M231.1 191v4.2M229.4 193.2v3.5M231.9 186.2v3.9M231.5 188.9v3.8M231.4 196.1v3M231.2 189.3v3M230 193.1v4.5M228.9 188.3v4.5M230.1 188.7v4.9M231.6 184.5v4.1M231.7 195.5v3.6M230.6 189.8v3.3M230.7 191.4v4.2M228.9 187.3v4M231.5 191.3v4.9M231.8 188.5v4.3M232.9 191.1v3.3M230.9 193v3M230.1 199.6v2.3M230.6 188.2v4.4M232.4 189.1v3.4M233.3 188.7v3.3M229.3 193.6v2.3M228.5 191.2v3.6M230.8 185.1v4.7M241.4 194.2v3M238.3 188.3v4.3M239.7 194.3v4.3M241.9 184.6v4.1M241.5 188.3v3.9M245 192v2.9M236.3 191.6v4.1M237 192.7v3.8M243.6 190.2v4.9M242.3 195.8v3.6M241.4 187.2v3.2M241.3 192v4.8M238.5 190.5v4M241.7 193.3v3.1M239.5 192.2v4M240.5 188.5v2.6M242.6 190v2.7M243.2 186.9v4.7M241.5 187.5v3.5M243.9 196v4.5M236.6 188.4v2.8M243.9 188.2v3.5M244.3 187.8v2.8M243.5 191.2v4.5M241.3 186.7v3.9M239.5 188.7v3.3M241.6 195.1v3.3M239.1 182.1v2.8M241.2 186.8v2.8M244.2 178.8v4.1M236.5 183.7v3.1M240.2 184.3v2.5M244.7 188.6v3.3M241.7 182.9v3.5M240.9 189.2v5M242.4 189.2v3.3M239 190.5v3.3M243.9 195.7v5M236.5 190.7v4.2M241.9 189.3v3.5M239.6 187.8v3.3M238.2 189.2v2.8M241.5 184.3v2.6M239.1 182.1v3.5M243.1 183.5v4M244.6 191v2.5M239.6 195.2v3.5M239.2 191.8v2.7M241.1 186.4v3.9M243 189.7v3.2M238.6 189.9v4.1M240.5 191.3v4.4M243.6 188.6v3.3M239.7 181.7v3.3M236.8 186.5v2.4M239.1 192.2v2.8M238.9 192.1v4M242.4 186.2v4.5M243.3 188.6v2.6M240.7 193.3v5M243.4 194.4v4.8M238.1 197v3.2M238.2 187.4v3.7M236.2 193.1v4.1M237.1 183.6v3.1M242.9 189.8v3.2M243.5 183.4v4.2M244.9 187v3.6M244.3 197v3.4M239 188v3.8M243.7 184.5v2.5M241.2 188.3v3.5M241 192.3v3M237.4 195.1v2.6M238.3 183.7v3.7M242.3 187.1v4.2M243 187v3.7M242.9 188.1v3.6M238.7 191.9v4.1M243 181.7v3.4M237.6 190.4v5M237.1 184.6v2.8M237.6 196.9v2.2M236.8 188.7v3.8M242.1 186.3v4.2M236.9 189.1v3.3M243.9 195.8v3.3M239.8 189.5v3.1M239.2 191.2v2.9M238.3 191.4v4.4M243.1 182.2v4.6M240.9 188.8v3M239.6 188.3v3.8M238.8 189.3v3.5M238.1 197v2.5M239.1 188.6v4.3M241.8 196.2v3.7M240.4 182.3v5M244.5 195.9v4.8M240.2 182.1v4.8M238.5 187.4v2.9M238.5 194.7v2.5M243 191.2v4.5M237.6 179v2.5M240.4 194.4v4.1M239.6 195.4v2.7M239.5 183v4.2M237.3 185.5v2.3M244.3 185.8v2.4M242 186.1v4.7M238.7 195v3.6M240.1 181.4v3.5M244.2 191.1v5M244.4 179.6v4.4M237.4 191.1v2.8M244.3 184.7v4.2M239.8 184.1v3.3M244.9 198.3v3.5M243.4 190.7v3.1M239.5 192.2v2.8M242.8 186.5v3M240.3 187.8v2.9M243.2 190.9v2.7M242.6 197.3v4.7M238.1 196.1v3.3M239.5 185.9v3.8M244 192.2v4.5M244.5 187.5v4.1M237.1 186.7v2.6M236.8 182.8v4.9M240.1 188.7v4.8M244.8 186.8v4.6M239.9 192.3v3.1M237.7 194.1v4.6M241 186.8v4M239.9 190.8v2.2M240.5 193.1v3.2M240.1 194.8v4.2M238 189.3v3.7M236.7 189.9v4.9M243.1 191.6v4.4M244 190v4.6M240.1 196.2v5M240.9 188.1v3.1M236.8 187.8v4.8M242.1 187.6v2.2M244.3 186.1v4.5M243.4 189.3v2.4M241.1 190.3v3.6M242 188.6v3.4M240.5 191.3v2.4M236.5 187.8v4M238.7 184.5v4.4M238.7 180.5v2.8M239.2 179.2v2.9M238.8 179.6v4.4M239.2 178.7v3.7M238.9 180v2.2M239.5 179.8v3M239.2 178v4.9M238.6 180v3M238.8 180.2v3M238.5 181.2v3.5M238.9 179.8v4.7M250 185.9v4.5M249 191.5v3.3M250.2 187.7v4.1M249.7 195.4v2.2M249.2 182.4v2.3M250.8 200.4v3.2M248.3 193.6v4M249.6 186.4v2.6M249 196.4v2.3M248.7 193.1v4.6M250.2 187.3v2.7M249.5 197.3v2.3M248.8 194.6v2.4M249.4 194.1v2.4M249.9 191v3M250.2 188.6v3.8M250.1 187.9v4.1M249.9 192.2v3M249.8 194.8v3.6M250.1 192.3v3.1M249.1 194.4v3.8M248.4 190.5v2.5M249.7 195.1v4M248.6 193.4v2.2M250.2 188.8v4.8M248.6 195.7v2.8M249.5 192.1v3.8M248.9 198.9v2.7M248.9 186.5v3.4M250.1 190v2.9M248.9 187.8v4M250.7 192.9v4.4M249.1 191v4.6M249 192.3v5M250.5 196v3.5M248.3 194.9v3.7M248.2 191v3.2M250.5 192.3v3M186.5 200.7v3.6M190.3 199.7v5M213 197v2.3M249.7 170.5v4.3M240.8 168.3v3.1M239.4 201.6v3.9M231.6 175v2.9M223.8 194.9v4.2M206.9 193.2v3.6M196.4 184.5v3.1" stroke="#ee82ee" stroke-width="0.5" fill="none"/><path d="M180.9 192.6l1.5 1.5l-1.5 1.5l-1.5 -1.5zM182.7 193.2l1.5 1.5l-1.5 1.5l-1.5 -1.5zM181.2 191.8l1.5 1.5l-1.5 1.5l-1.5 -1.5zM181 190.1l1.5 1.5l-1.5 1.5l-1.5 -1.5zM182.8 192.4l1.5 1.5l-1.5 1.5l-1.5 -1.5zM180.8 191.7l1.5 1.5l-1.5 1.5l-1.5 -1.5zM180.8 189.2l1.5 1.5l-1.5 1.5l-1.5 -1.5zM182.2 189.9l1.5 1.5l-1.5 1.5l-1.5 -1.5zM181.4 190.3l1.5 1.5l-1.5 1.5l-1.5 -1.5zM182.4 192.4l1.5 1.5l-1.5 1.5l-1.5 -1.5zM180.4 188.7l1.5 1.5l-1.5 1.5l-1.5 -1.5zM182.2 187.3l1.5 1.5l-1.5 1.5l-1.5 -1.5zM182.7 187.9l1.5 1.5l-1.5 1.5l-1.5 -1.5zM181.2 191.8l1.5 1.5l-1.5 1.5l-1.5 -1.5zM181 187.1l1.5 1.5l-1.5 1.5l-1.5 -1.5zM181.3 188.2l1.5 1.5l-1.5 1.5l-1.5 -1.5zM181.3 190.7l1.5 1.5l-1.5 1.5l-1.5 -1.5zM180.7 191.4l1.5 1.5l-1.5 1.5l-1.5 -1.5zM181.4 193.5l1.5 1.5l-1.5 1.5l-1.5 -1.5zM181.9 192.4l1.5 1.5l-1.5 1.5l-1.5 -1.5zM181 188.1l1.5 1.5l-1.5 1.5l-1.5 -1.5zM192.8 187.4l1.5 1.5l-1.5 1.5l-1.5 -1.5zM189 181.1l1.5 1.5l-1.5 1.5l-1.5 -1.5zM192.2 180.2l1.5 1.5l-1.5 1.5l-1.5 -1.5zM188.1 194.1l1.5 1.5l-1.5 1.5l-1.5 -1.5zM191.3 181.1l1.5 1.5l-1.5 1.5l-1.5 -1.5zM189.8 193.8l1.5 1.5l-1.5 1.5l-1.5 -1.5zM193.8 193.6l1.5 1.5l-1.5 1.5l-1.5 -1.5zM188.1 181.9l1.5 1.5l-1.5 1.5l-1.5 -1.5zM194.5 188.6l1.5 1.5l-1.5 1.5l-1.5 -1.5zM192.2 179.7l1.5 1.5l-1.5 1.5l-1.5 -1.5zM187.4 191.2l1.5 1.5l-1.5 1.5l-1.5 -1.5zM190.6 181.8l1.5 1.5l-1.5 1.5l-1.5 -1.5zM189.7 188.9l1.5 1.5l-1.5 1.5l-1.5 -1.5zM194 181.9l1.5 1.5l-1.5 1.5l-1.5 -1.5zM188.7 187.2l1.5 1.5l-1.5 1.5l-1.5 -1.5zM187.8 191.1l1.5 1.5l-1.5 1.5l-1.5 -1.5zM189.6 194.8l1.5 1.5l-1.5 1.5l-1.5 -1.5zM188.8 190l1.5 1.5l-1.5 1.5l-1.5 -1.5zM187.6 194.2l1.5 1.5l-1.5 1.5l-1.5 -1.5zM188.6 191.7l1.5 1.5l-1.5 1.5l-1.5 -1.5zM190.7 179.5l1.5 1.5l-1.5 1.5l-1.5 -1.5zM194.6 193l1.5 1.5l-1.5 1.5l-1.5 -1.5zM189.5 182l1.5 1.5l-1.5 1.5l-1.5 -1.5zM190.8 179l1.5 1.5l-1.5 1.5l-1.5 -1.5zM194.2 188.6l1.5 1.5l-1.5 1.5l-1.5 -1.5zM194 185.4l1.5 1.5l-1.5 1.5l-1.5 -1.5zM191.6 189.4l1.5 1.5l-1.5 1.5l-1.5 -1.5zM193.6 192l1.5 1.5l-1.5 1.5l-1.5 -1.5zM191.1 180.8l1.5 1.5l-1.5 1.5l-1.5 -1.5zM194 189.4l1.5 1.5l-1.5 1.5l-1.5 -1.5zM192.3 187.1l1.5 1.5l-1.5 1.5l-1.5 -1.5zM189.9 190.8l1.5 1.5l-1.5 1.5l-1.5 -1.5zM194.7 188l1.5 1.5l-1.5 1.5l-1.5 -1.5zM194.3 186.9l1.5 1.5l-1.5 1.5l-1.5 -1.5zM187.3 183.8l1.5 1.5l-1.5 1.5l-1.5 -1.5zM192.7 184.6l1.5 1.5l-1.5 1.5l-1.5 -1.5zM190.4 190.1l1.5 1.5l-1.5 1.5l-1.5 -1.5zM193.6 191.3l1.5 1.5l-1.5 1.5l-1.5 -1.5zM193.3 186.3l1.5 1.5l-1.5 1.5l-1.5 -1.5zM193 189.7l1.5 1.5l-1.5 1.5l-1.5 -1.5zM193.4 190l1.5 1.5l-1.5 1.5l-1.5 -1.5zM194.9 196.7l1.5 1.5l-1.5 1.5l-1.5 -1.5zM190.5 181.1l1.5 1.5l-1.5 1.5l-1.5 -1.5zM194.4 193.3l1.5 1.5l-1.5 1.5l-1.5 -1.5zM188.6 187.8l1.5 1.5l-1.5 1.5l-1.5 -1.5zM192.9 190.7l1.5 1.5l-1.5 1.5l-1.5 -1.5zM188.5 184.3l1.5 1.5l-1.5 1.5l-1.5 -1.5zM192.3 184.7l1.5 1.5l-1.5 1.5l-1.5 -1.5zM188.1 200.2l1.5 1.5l-1.5 1.5l-1.5 -1.5zM191.5 180.1l1.5 1.5l-1.5 1.5l-1.5 -1.5zM193.4 191.9l1.5 1.5l-1.5 1.5l-1.5 -1.5zM191.4 193.3l1.5 1.5l-1.5 1.5l-1.5 -1.5zM193.1 190.3l1.5 1.5l-1.5 1.5l-1.5 -1.5zM194.4 186l1.5 1.5l-1.5 1.5l-1.5 -1.5zM188.7 193.7l1.5 1.5l-1.5 1.5l-1.5 -1.5zM194.2 189.7l1.5 1.5l-1.5 1.5l-1.5 -1.5zM194.2 193.7l1.5 1.5l-1.5 1.5l-1.5 -1.5zM194.5 187.5l1.5 1.5l-1.5 1.5l-1.5 -1.5zM191.5 188.7l1.5 1.5l-1.5 1.5l-1.5 -1.5zM193.4 192.9l1.5 1.5l-1.5 1.5l-1.5 -1.5zM190.4 183.5l1.5 1.5l-1.5 1.5l-1.5 -1.5zM189.2 186.5l1.5 1.5l-1.5 1.5l-1.5 -1.5zM190.4 181.5l1.5 1.5l-1.5 1.5l-1.5 -1.5zM187.7 188l1.5 1.5l-1.5 1.5l-1.5 -1.5zM187 183.5l1.5 1.5l-1.5 1.5l-1.5 -1.5zM193 193l1.5 1.5l-1.5 1.5l-1.5 -1.5zM188.9 188.6l1.5 1.5l-1.5 1.5l-1.5 -1.5zM188.4 193.9l1.5 1.5l-1.5 1.5l-1.5 -1.5zM191.8 187.6l1.5 1.5l-1.5 1.5l-1.5 -1.5zM191.7 183.6l1.5 1.5l-1.5 1.5l-1.5 -1.5zM192.8 187l1.5 1.5l-1.5 1.5l-1.5 -1.5zM192.7 180.4l1.5 1.5l-1.5 1.5l-1.5 -1.5zM189.2 193.3l1.5 1.5l-1.5 1.5l-1.5 -1.5zM187.4 179.8l1.5 1.5l-1.5 1.5l-1.5 -1.5zM194.6 187.2l1.5 1.5l-1.5 1.5l-1.5 -1.5zM187.6 188.6l1.5 1.5l-1.5 1.5l-1.5 -1.5zM193.4 187.2l1.5 1.5l-1.5 1.5l-1.5 -1.5zM190.7 183.5l1.5 1.5l-1.5 1.5l-1.5 -1.5zM192.1 189.4l1.5 1.5l-1.5 1.5l-1.5 -1.5zM193.1 187.7l1.5 1.5l-1.5 1.5l-1.5 -1.5zM189 189.5l1.5 1.5l-1.5 1.5l-1.5 -1.5zM190.3 188.5l1.5 1.5l-1.5 1.5l-1.5 -1.5zM191.9 184.7l1.5 1.5l-1.5 1.5l-1.5 -1.5zM188.7 191.2l1.5 1.5l-1.5 1.5l-1.5 -1.5zM187.7 189.5l1.5 1.5l-1.5 1.5l-1.5 -1.5zM191 188.5l1.5 1.5l-1.5 1.5l-1.5 -1.5zM188.5 184.6l1.5 1.5l-1.5 1.5l-1.5 -1.5zM194.8 189.1l1.5 1.5l-1.5 1.5l-1.5 -1.5zM190.9 189.6l1.5 1.5l-1.5 1.5l-1.5 -1.5zM188.6 187.4l1.5 1.5l-1.5 1.5l-1.5 -1.5zM191.7 186.8l1.5 1.5l-1.5 1.5l-1.5 -1.5zM187.6 190.1l1.5 1.5l-1.5 1.5l-1.5 -1.5zM192.6 190.8l1.5 1.5l-1.5 1.5l-1.5 -1.5zM189.8 186.3l1.5 1.5l-1.5 1.5l-1.5 -1.5zM190.4 182.2l1.5 1.5l-1.5 1.5l-1.5 -1.5zM190.1 191.6l1.5 1.5l-1.5 1.5l-1.5 -1.5zM188.2 192.4l1.5 1.5l-1.5 1.5l-1.5 -1.5zM187.1 183l1.5 1.5l-1.5 1.5l-1.5 -1.5zM193.8 188.3l1.5 1.5l-1.5 1.5l-1.5 -1.5zM192 181.8l1.5 1.5l-1.5 1.5l-1.5 -1.5zM194.4 185.4l1.5 1.5l-1.5 1.5l-1.5 -1.5zM189.4 190.6l1.5 1.5l-1.5 1.5l-1.5 -1.5zM191.4 181.6l1.5 1.5l-1.5 1.5l-1.5 -1.5zM194.6 183l1.5 1.5l-1.5 1.5l-1.5 -1.5zM188.2 183.5l1.5 1.5l-1.5 1.5l-1.5 -1.5zM193.3 194.2l1.5 1.5l-1.5 1.5l-1.5 -1.5zM191.7 183.6l1.5 1.5l-1.5 1.5l-1.5 -1.5zM194.6 185.4l1.5 1.5l-1.5 1.5l-1.5 -1.5zM191.4 182.9l1.5 1.5l-1.5 1.5l-1.5 -1.5zM187.9 190.1l1.5 1.5l-1.5 1.5l-1.5 -1.5zM191.8 175.7l1.5 1.5l-1.5 1.5l-1.5 -1.5zM191.9 177.3l1.5 1.5l-1.5 1.5l-1.5 -1.5zM193.2 176.9l1.5 1.5l-1.5 1.5l-1.5 -1.5zM193.3 179.2l1.5 1.5l-1.5 1.5l-1.5 -1.5zM192.6 175.7l1.5 1.5l-1.5 1.5l-1.5 -1.5zM192 177.2l1.5 1.5l-1.5 1.5l-1.5 -1.5zM192.5 177l1.5 1.5l-1.5 1.5l-1.5 -1.5zM191.9 176l1.5 1.5l-1.5 1.5l-1.5 -1.5zM192 174.9l1.5 1.5l-1.5 1.5l-1.5 -1.5zM192.3 179l1.5 1.5l-1.5 1.5l-1.5 -1.5zM191.7 176.3l1.5 1.5l-1.5 1.5l-1.5 -1.5zM191.4 180.2l1.5 1.5l-1.5 1.5l-1.5 -1.5zM192.7 178.1l1.5 1.5l-1.5 1.5l-1.5 -1.5zM191.1 177.8l1.5 1.5l-1.5 1.5l-1.5 -1.5zM193 178.4l1.5 1.5l-1.5 1.5l-1.5 -1.5zM191.1 178.5l1.5 1.5l-1.5 1.5l-1.5 -1.5zM191.7 177.4l1.5 1.5l-1.5 1.5l-1.5 -1.5zM193.3 175.6l1.5 1.5l-1.5 1.5l-1.5 -1.5zM193.4 174.8l1.5 1.5l-1.5 1.5l-1.5 -1.5zM191.2 176.8l1.5 1.5l-1.5 1.5l-1.5 -1.5zM193.3 177l1.5 1.5l-1.5 1.5l-1.5 -1.5zM192.9 177.9l1.5 1.5l-1.5 1.5l-1.5 -1.5zM193.1 177.4l1.5 1.5l-1.5 1.5l-1.5 -1.5zM208.1 181.6l1.5 1.5l-1.5 1.5l-1.5 -1.5zM199 184.7l1.5 1.5l-1.5 1.5l-1.5 -1.5zM198.8 183.5l1.5 1.5l-1.5 1.5l-1.5 -1.5zM205.5 179.8l1.5 1.5l-1.5 1.5l-1.5 -1.5zM200.2 180.2l1.5 1.5l-1.5 1.5l-1.5 -1.5zM200.4 176.5l1.5 1.5l-1.5 1.5l-1.5 -1.5zM208 175.8l1.5 1.5l-1.5 1.5l-1.5 -1.5zM202.1 189.2l1.5 1.5l-1.5 1.5l-1.5 -1.5zM202.4 183.9l1.5 1.5l-1.5 1.5l-1.5 -1.5zM201.1 184.1l1.5 1.5l-1.5 1.5l-1.5 -1.5zM208.3 193l1.5 1.5l-1.5 1.5l-1.5 -1.5zM205.4 182.8l1.5 1.5l-1.5 1.5l-1.5 -1.5zM200.1 184.4l1.5 1.5l-1.5 1.5l-1.5 -1.5zM202 184l1.5 1.5l-1.5 1.5l-1.5 -1.5zM203.7 183l1.5 1.5l-1.5 1.5l-1.5 -1.5zM205.2 186.9l1.5 1.5l-1.5 1.5l-1.5 -1.5zM206.3 181.1l1.5 1.5l-1.5 1.5l-1.5 -1.5zM204.2 174.9l1.5 1.5l-1.5 1.5l-1.5 -1.5zM204.4 186.5l1.5 1.5l-1.5 1.5l-1.5 -1.5zM201.9 175.1l1.5 1.5l-1.5 1.5l-1.5 -1.5zM206.9 186.3l1.5 1.5l-1.5 1.5l-1.5 -1.5zM207.5 177.3l1.5 1.5l-1.5 1.5l-1.5 -1.5zM200.3 180.9l1.5 1.5l-1.5 1.5l-1.5 -1.5zM202.3 184.4l1.5 1.5l-1.5 1.5l-1.5 -1.5zM206.4 179.5l1.5 1.5l-1.5 1.5l-1.5 -1.5zM206.2 179.6l1.5 1.5l-1.5 1.5l-1.5 -1.5zM206.3 179.9l1.5 1.5l-1.5 1.5l-1.5 -1.5zM202.6 181.9l1.5 1.5l-1.5 1.5l-1.5 -1.5zM205.7 175.7l1.5 1.5l-1.5 1.5l-1.5 -1.5zM202.6 196l1.5 1.5l-1.5 1.5l-1.5 -1.5zM207.6 176.9l1.5 1.5l-1.5 1.5l-1.5 -1.5zM204.6 181.5l1.5 1.5l-1.5 1.5l-1.5 -1.5zM201.2 187.1l1.5 1.5l-1.5 1.5l-1.5 -1.5zM207.4 181.8l1.5 1.5l-1.5 1.5l-1.5 -1.5zM206.6 171.8l1.5 1.5l-1.5 1.5l-1.5 -1.5zM208.2 178.9l1.5 1.5l-1.5 1.5l-1.5 -1.5zM205.9 176.7l1.5 1.5l-1.5 1.5l-1.5 -1.5zM201.1 180.7l1.5 1.5l-1.5 1.5l-1.5 -1.5zM206.9 177.8l1.5 1.5l-1.5 1.5l-1.5 -1.5zM203.3 183.3l1.5 1.5l-1.5 1.5l-1.5 -1.5zM199.4 192.3l1.5 1.5l-1.5 1.5l-1.5 -1.5zM207.6 179.9l1.5 1.5l-1.5 1.5l-1.5 -1.5zM206 177.8l1.5 1.5l-1.5 1.5l-1.5 -1.5zM204.2 189.2l1.5 1.5l-1.5 1.5l-1.5 -1.5zM202.7 181.5l1.5 1.5l-1.5 1.5l-1.5 -1.5zM207.7 186.7l1.5 1.5l-1.5 1.5l-1.5 -1.5zM199.6 186l1.5 1.5l-1.5 1.5l-1.5 -1.5zM201.3 190.1l1.5 1.5l-1.5 1.5l-1.5 -1.5zM202.9 191.1l1.5 1.5l-1.5 1.5l-1.5 -1.5zM205.6 180.7l1.5 1.5l-1.5 1.5l-1.5 -1.5zM204.9 190.2l1.5 1.5l-1.5 1.5l-1.5 -1.5zM199.5 174.4l1.5 1.5l-1.5 1.5l-1.5 -1.5zM200.7 182.5l1.5 1.5l-1.5 1.5l-1.5 -1.5zM204.9 181.7l1.5 1.5l-1.5 1.5l-1.5 -1.5zM207.5 184.1l1.5 1.5l-1.5 1.5l-1.5 -1.5zM207.7 184.8l1.5 1.5l-1.5 1.5l-1.5 -1.5zM204.1 184l1.5 1.5l-1.5 1.5l-1.5 -1.5zM206.4 180.1l1.5 1.5l-1.5 1.5l-1.5 -1.5zM207 174.4l1.5 1.5l-1.5 1.5l-1.5 -1.5zM202.5 189.7l1.5 1.5l-1.5 1.5l-1.5 -1.5zM199.8 180.1l1.5 1.5l-1.5 1.5l-1.5 -1.5zM205.9 184.9l1.5 1.5l-1.5 1.5l-1.5 -1.5zM199.1 187.8l1.5 1.5l-1.5 1.5l-1.5 -1.5zM208.2 173l1.5 1.5l-1.5 1.5l-1.5 -1.5zM199.9 179.8l1.5 1.5l-1.5 1.5l-1.5 -1.5zM204.8 180.4l1.5 1.5l-1.5 1.5l-1.5 -1.5zM206.5 182.2l1.5 1.5l-1.5 1.5l-1.5 -1.5zM198.9 180.5l1.5 1.5l-1.5 1.5l-1.5 -1.5zM206.9 179.8l1.5 1.5l-1.5 1.5l-1.5 -1.5zM207.3 184.6l1.5 1.5l-1.5 1.5l-1.5 -1.5zM203.1 186.1l1.5 1.5l-1.5 1.5l-1.5 -1.5zM205.6 180.6l1.5 1.5l-1.5 1.5l-1.5 -1.5zM207.6 175.6l1.5 1.5l-1.5 1.5l-1.5 -1.5zM200.4 187.5l1.5 1.5l-1.5 1.5l-1.5 -1.5zM199.8 188.2l1.5 1.5l-1.5 1.5l-1.5 -1.5zM200.4 177.7l1.5 1.5l-1.5 1.5l-1.5 -1.5zM200.2 181.8l1.5 1.5l-1.5 1.5l-1.5 -1.5zM207.6 171.7l1.5 1.5l-1.5 1.5l-1.5 -1.5zM201 184l1.5 1.5l-1.5 1.5l-1.5 -1.5zM207.5 181.5l1.5 1.5l-1.5 1.5l-1.5 -1.5zM204.5 193.3l1.5 1.5l-1.5 1.5l-1.5 -1.5zM208 181.1l1.5 1.5l-1.5 1.5l-1.5 -1.5zM203.8 178.1l1.5 1.5l-1.5 1.5l-1.5 -1.5zM206.9 177.6l1.5 1.5l-1.5 1.5l-1.5 -1.5zM207.5 180.4l1.5 1.5l-1.5 1.5l-1.5 -1.5zM206.4 176.7l1.5 1.5l-1.5 1.5l-1.5 -1.5zM200.9 175.4l1.5 1.5l-1.5 1.5l-1.5 -1.5zM203.1 190.2l1.5 1.5l-1.5 1.5l-1.5 -1.5zM207.6 169.1l1.5 1.5l-1.5 1.5l-1.5 -1.5zM200.2 179.4l1.5 1.5l-1.5 1.5l-1.5 -1.5zM202.5 179.3l1.5 1.5l-1.5 1.5l-1.5 -1.5zM200.2 185.3l1.5 1.5l-1.5 1.5l-1.5 -1.5zM203.4 188.9l1.5 1.5l-1.5 1.5l-1.5 -1.5zM201.2 178.9l1.5 1.5l-1.5 1.5l-1.5 -1.5zM206 184.8l1.5 1.5l-1.5 1.5l-1.5 -1.5zM204.3 188.9l1.5 1.5l-1.5 1.5l-1.5 -1.5zM202.2 192.6l1.5 1.5l-1.5 1.5l-1.5 -1.5zM207.9 182.6l1.5 1.5l-1.5 1.5l-1.5 -1.5zM204.2 183.6l1.5 1.5l-1.5 1.5l-1.5 -1.5zM208 175.8l1.5 1.5l-1.5 1.5l-1.5 -1.5zM201.6 187.5l1.5 1.5l-1.5 1.5l-1.5 -1.5zM198.9 183.2l1.5 1.5l-1.5 1.5l-1.5 -1.5zM201.4 185.4l1.5 1.5l-1.5 1.5l-1.5 -1.5zM204.7 172.6l1.5 1.5l-1.5 1.5l-1.5 -1.5zM205.2 177.5l1.5 1.5l-1.5 1.5l-1.5 -1.5zM202.1 190.5l1.5 1.5l-1.5 1.5l-1.5 -1.5zM203.9 182.4l1.5 1.5l-1.5 1.5l-1.5 -1.5zM207 177.4l1.5 1.5l-1.5 1.5l-1.5 -1.5zM204.5 179.7l1.5 1.5l-1.5 1.5l-1.5 -1.5zM201.5 186.8l1.5 1.5l-1.5 1.5l-1.5 -1.5zM208 179.6l1.5 1.5l-1.5 1.5l-1.5 -1.5zM199.2 188l1.5 1.5l-1.5 1.5l-1.5 -1.5zM200.6 182.5l1.5 1.5l-1.5 1.5l-1.5 -1.5zM203.5 191.3l1.5 1.5l-1.5 1.5l-1.5 -1.5zM205.1 188.2l1.5 1.5l-1.5 1.5l-1.5 -1.5zM205.2 194.7l1.5 1.5l-1.5 1.5l-1.5 -1.5zM205.2 175.6l1.5 1.5l-1.5 1.5l-1.5 -1.5zM205.5 182.8l1.5 1.5l-1.5 1.5l-1.5 -1.5zM202.7 184.9l1.5 1.5l-1.5 1.5l-1.5 -1.5zM208 177.9l1.5 1.5l-1.5 1.5l-1.5 -1.5zM198.7 188.4l1.5 1.5l-1.5 1.5l-1.5 -1.5zM202.6 189.9l1.5 1.5l-1.5 1.5l-1.5 -1.5zM206.6 176.1l1.5 1.5l-1.5 1.5l-1.5 -1.5zM198.7 183.7l1.5 1.5l-1.5 1.5l-1.5 -1.5zM206.7 182.4l1.5 1.5l-1.5 1.5l-1.5 -1.5zM199.6 185.2l1.5 1.5l-1.5 1.5l-1.5 -1.5zM207.1 178l1.5 1.5l-1.5 1.5l-1.5 -1.5zM203.6 179.4l1.5 1.5l-1.5 1.5l-1.5 -1.5zM202.5 195.6l1.5 1.5l-1.5 1.5l-1.5 -1.5zM205.4 189.6l1.5 1.5l-1.5 1.5l-1.5 -1.5zM208.1 183.9l1.5 1.5l-1.5 1.5l-1.5 -1.5zM199.7 181.7l1.5 1.5l-1.5 1.5l-1.5 -1.5zM200 178.1l1.5 1.5l-1.5 1.5l-1.5 -1.5zM202.1 178.2l1.5 1.5l-1.5 1.5l-1.5 -1.5zM208.2 170.7l1.5 1.5l-1.5 1.5l-1.5 -1.5zM208.2 175.7l1.5 1.5l-1.5 1.5l-1.5 -1.5zM200.2 177.1l1.5 1.5l-1.5 1.5l-1.5 -1.5zM205.6 176.9l1.5 1.5l-1.5 1.5l-1.5 -1.5zM207.3 178.2l1.5 1.5l-1.5 1.5l-1.5 -1.5zM201.1 184.4l1.5 1.5l-1.5 1.5l-1.5 -1.5zM200 183.9l1.5 1.5l-1.5 1.5l-1.5 -1.5zM204.3 184.7l1.5 1.5l-1.5 1.5l-1.5 -1.5zM203.5 182.2l1.5 1.5l-1.5 1.5l-1.5 -1.5zM204.2 179.6l1.5 1.5l-1.5 1.5l-1.5 -1.5zM203.9 182.7l1.5 1.5l-1.5 1.5l-1.5 -1.5zM198.7 187.3l1.5 1.5l-1.5 1.5l-1.5 -1.5zM200.9 184.2l1.5 1.5l-1.5 1.5l-1.5 -1.5zM205.9 180.9l1.5 1.5l-1.5 1.5l-1.5 -1.5zM200.9 191.2l1.5 1.5l-1.5 1.5l-1.5 -1.5zM199.5 177.3l1.5 1.5l-1.5 1.5l-1.5 -1.5zM201.9 184.6l1.5 1.5l-1.5 1.5l-1.5 -1.5zM206 181.6l1.5 1.5l-1.5 1.5l-1.5 -1.5zM206.7 186.5l1.5 1.5l-1.5 1.5l-1.5 -1.5zM203 174.4l1.5 1.5l-1.5 1.5l-1.5 -1.5zM204.5 183.3l1.5 1.5l-1.5 1.5l-1.5 -1.5zM200.4 183.7l1.5 1.5l-1.5 1.5l-1.5 -1.5zM201.8 184.7l1.5 1.5l-1.5 1.5l-1.5 -1.5zM199.5 179l1.5 1.5l-1.5 1.5l-1.5 -1.5zM201.6 179.6l1.5 1.5l-1.5 1.5l-1.5 -1.5zM203.6 188l1.5 1.5l-1.5 1.5l-1.5 -1.5zM200.1 180.4l1.5 1.5l-1.5 1.5l-1.5 -1.5zM201.6 178.9l1.5 1.5l-1.5 1.5l-1.5 -1.5zM205.5 190.5l1.5 1.5l-1.5 1.5l-1.5 -1.5zM202.8 185.6l1.5 1.5l-1.5 1.5l-1.5 -1.5zM199.8 183l1.5 1.5l-1.5 1.5l-1.5 -1.5zM206.8 178l1.5 1.5l-1.5 1.5l-1.5 -1.5zM204.7 180.9l1.5 1.5l-1.5 1.5l-1.5 -1.5zM199.2 178l1.5 1.5l-1.5 1.5l-1.5 -1.5zM199.6 181.6l1.5 1.5l-1.5 1.5l-1.5 -1.5zM205.8 179.6l1.5 1.5l-1.5 1.5l-1.5 -1.5zM200.2 176.4l1.5 1.5l-1.5 1.5l-1.5 -1.5zM205.1 176l1.5 1.5l-1.5 1.5l-1.5 -1.5zM199.5 184.7l1.5 1.5l-1.5 1.5l-1.5 -1.5zM207.4 182.9l1.5 1.5l-1.5 1.5l-1.5 -1.5zM202.5 184.7l1.5 1.5l-1.5 1.5l-1.5 -1.5zM200.5 188.1l1.5 1.5l-1.5 1.5l-1.5 -1.5zM208.2 184.2l1.5 1.5l-1.5 1.5l-1.5 -1.5zM201.8 183.2l1.5 1.5l-1.5 1.5l-1.5 -1.5zM200.8 189.2l1.5 1.5l-1.5 1.5l-1.5 -1.5zM202.5 182.8l1.5 1.5l-1.5 1.5l-1.5 -1.5zM200.1 177.2l1.5 1.5l-1.5 1.5l-1.5 -1.5zM199.3 169.2l1.5 1.5l-1.5 1.5l-1.5 -1.5zM207.5 175.9l1.5 1.5l-1.5 1.5l-1.5 -1.5zM199.6 176.4l1.5 1.5l-1.5 1.5l-1.5 -1.5zM200.5 181.9l1.5 1.5l-1.5 1.5l-1.5 -1.5zM205.1 173.7l1.5 1.5l-1.5 1.5l-1.5 -1.5zM201.4 183.5l1.5 1.5l-1.5 1.5l-1.5 -1.5zM207.7 181.9l1.5 1.5l-1.5 1.5l-1.5 -1.5zM200 176.9l1.5 1.5l-1.5 1.5l-1.5 -1.5zM203.3 189.9l1.5 1.5l-1.5 1.5l-1.5 -1.5zM205.4 186.7l1.5 1.5l-1.5 1.5l-1.5 -1.5zM204.2 185.4l1.5 1.5l-1.5 1.5l-1.5 -1.5zM205.5 181l1.5 1.5l-1.5 1.5l-1.5 -1.5zM206.4 183l1.5 1.5l-1.5 1.5l-1.5 -1.5zM199.1 184.9l1.5 1.5l-1.5 1.5l-1.5 -1.5zM204.3 183.2l1.5 1.5l-1.5 1.5l-1.5 -1.5zM205.3 177.4l1.5 1.5l-1.5 1.5l-1.5 -1.5zM202.2 183.4l1.5 1.5l-1.5 1.5l-1.5 -1.5zM208.1 176.7l1.5 1.5l-1.5 1.5l-1.5 -1.5zM202.8 187l1.5 1.5l-1.5 1.5l-1.5 -1.5zM205.6 181.1l1.5 1.5l-1.5 1.5l-1.5 -1.5zM207 177.8l1.5 1.5l-1.5 1.5l-1.5 -1.5zM207.1 177.5l1.5 1.5l-1.5 1.5l-1.5 -1.5zM205.6 184.6l1.5 1.5l-1.5 1.5l-1.5 -1.5zM205.1 185.2l1.5 1.5l-1.5 1.5l-1.5 -1.5zM198.6 187.2l1.5 1.5l-1.5 1.5l-1.5 -1.5zM207.1 180.7l1.5 1.5l-1.5 1.5l-1.5 -1.5zM208.3 176.3l1.5 1.5l-1.5 1.5l-1.5 -1.5zM206.2 189.3l1.5 1.5l-1.5 1.5l-1.5 -1.5zM207 169.1l1.5 1.5l-1.5 1.5l-1.5 -1.5zM204.8 176.3l1.5 1.5l-1.5 1.5l-1.5 -1.5zM207.8 177.1l1.5 1.5l-1.5 1.5l-1.5 -1.5zM203.6 183.5l1.5 1.5l-1.5 1.5l-1.5 -1.5zM203.3 182.6l1.5 1.5l-1.5 1.5l-1.5 -1.5zM203.6 188.6l1.5 1.5l-1.5 1.5l-1.5 -1.5zM204.3 184.5l1.5 1.5l-1.5 1.5l-1.5 -1.5zM203.5 188.5l1.5 1.5l-1.5 1.5l-1.5 -1.5zM203.5 178.8l1.5 1.5l-1.5 1.5l-1.5 -1.5zM200.4 185.3l1.5 1.5l-1.5 1.5l-1.5 -1.5zM203.8 183.3l1.5 1.5l-1.5 1.5l-1.5 -1.5zM205.4 189.4l1.5 1.5l-1.5 1.5l-1.5 -1.5zM206.2 176.7l1.5 1.5l-1.5 1.5l-1.5 -1.5zM207.6 179.4l1.5 1.5l-1.5 1.5l-1.5 -1.5zM203.6 182.1l1.5 1.5l-1.5 1.5l-1.5 -1.5zM202.5 187.4l1.5 1.5l-1.5 1.5l-1.5 -1.5zM205.5 183.6l1.5 1.5l-1.5 1.5l-1.5 -1.5zM205.7 176.1l1.5 1.5l-1.5 1.5l-1.5 -1.5zM200.7 178l1.5 1.5l-1.5 1.5l-1.5 -1.5zM201.6 184.8l1.5 1.5l-1.5 1.5l-1.5 -1.5zM213 183.3l1.5 1.5l-1.5 1.5l-1.5 -1.5zM217 185.3l1.5 1.5l-1.5 1.5l-1.5 -1.5zM217.2 172.7l1.5 1.5l-1.5 1.5l-1.5 -1.5zM213.6 177.4l1.5 1.5l-1.5 1.5l-1.5 -1.5zM211.7 181.9l1.5 1.5l-1.5 1.5l-1.5 -1.5zM219.7 176.7l1.5 1.5l-1.5 1.5l-1.5 -1.5zM215.8 174.4l1.5 1.5l-1.5 1.5l-1.5 -1.5zM218.3 165.9l1.5 1.5l-1.5 1.5l-1.5 -1.5zM213.2 181.4l1.5 1.5l-1.5 1.5l-1.5 -1.5zM218.2 177.8l1.5 1.5l-1.5 1.5l-1.5 -1.5zM217.7 172.2l1.5 1.5l-1.5 1.5l-1.5 -1.5zM213.6 182.8l1.5 1.5l-1.5 1.5l-1.5 -1.5zM215.5 178.4l1.5 1.5l-1.5 1.5l-1.5 -1.5zM218.7 166.7l1.5 1.5l-1.5 1.5l-1.5 -1.5zM218.8 171.5l1.5 1.5l-1.5 1.5l-1.5 -1.5zM214 184.1l1.5 1.5l-1.5 1.5l-1.5 -1.5zM219.8 176.9l1.5 1.5l-1.5 1.5l-1.5 -1.5zM213.7 184.8l1.5 1.5l-1.5 1.5l-1.5 -1.5zM219.3 178.2l1.5 1.5l-1.5 1.5l-1.5 -1.5zM218.7 172.7l1.5 1.5l-1.5 1.5l-1.5 -1.5zM219 173.2l1.5 1.5l-1.5 1.5l-1.5 -1.5zM218 177.5l1.5 1.5l-1.5 1.5l-1.5 -1.5zM214.5 189l1.5 1.5l-1.5 1.5l-1.5 -1.5zM215.1 187.8l1.5 1.5l-1.5 1.5l-1.5 -1.5zM214.7 179l1.5 1.5l-1.5 1.5l-1.5 -1.5zM211.4 181l1.5 1.5l-1.5 1.5l-1.5 -1.5zM214.6 181.4l1.5 1.5l-1.5 1.5l-1.5 -1.5zM214.5 182.5l1.5 1.5l-1.5 1.5l-1.5 -1.5zM217.9 172.9l1.5 1.5l-1.5 1.5l-1.5 -1.5zM216.7 183.9l1.5 1.5l-1.5 1.5l-1.5 -1.5zM212.9 189.1l1.5 1.5l-1.5 1.5l-1.5 -1.5zM216.6 179.2l1.5 1.5l-1.5 1.5l-1.5 -1.5zM213.8 185.1l1.5 1.5l-1.5 1.5l-1.5 -1.5zM219.2 184.1l1.5 1.5l-1.5 1.5l-1.5 -1.5zM213.3 177.5l1.5 1.5l-1.5 1.5l-1.5 -1.5zM214 179.4l1.5 1.5l-1.5 1.5l-1.5 -1.5zM211.5 179.9l1.5 1.5l-1.5 1.5l-1.5 -1.5zM216.5 184.2l1.5 1.5l-1.5 1.5l-1.5 -1.5zM215.7 182.4l1.5 1.5l-1.5 1.5l-1.5 -1.5zM213.9 184.5l1.5 1.5l-1.5 1.5l-1.5 -1.5zM214.9 175.4l1.5 1.5l-1.5 1.5l-1.5 -1.5zM212.2 189.7l1.5 1.5l-1.5 1.5l-1.5 -1.5zM219.9 176.4l1.5 1.5l-1.5 1.5l-1.5 -1.5zM213.3 191.2l1.5 1.5l-1.5 1.5l-1.5 -1.5zM216.4 177.9l1.5 1.5l-1.5 1.5l-1.5 -1.5zM218.2 176.9l1.5 1.5l-1.5 1.5l-1.5 -1.5zM218.3 175l1.5 1.5l-1.5 1.5l-1.5 -1.5zM215.4 188.3l1.5 1.5l-1.5 1.5l-1.5 -1.5zM219.9 179.9l1.5 1.5l-1.5 1.5l-1.5 -1.5zM213.2 183.9l1.5 1.5l-1.5 1.5l-1.5 -1.5zM216.7 179.6l1.5 1.5l-1.5 1.5l-1.5 -1.5zM216 171.1l1.5 1.5l-1.5 1.5l-1.5 -1.5zM214.6 182.5l1.5 1.5l-1.5 1.5l-1.5 -1.5zM213.5 180.5l1.5 1.5l-1.5 1.5l-1.5 -1.5zM217.8 164.1l1.5 1.5l-1.5 1.5l-1.5 -1.5zM212 187.6l1.5 1.5l-1.5 1.5l-1.5 -1.5zM215.3 181l1.5 1.5l-1.5 1.5l-1.5 -1.5zM212 182.8l1.5 1.5l-1.5 1.5l-1.5 -1.5zM212 179.3l1.5 1.5l-1.5 1.5l-1.5 -1.5zM215.7 183.7l1.5 1.5l-1.5 1.5l-1.5 -1.5zM213.7 180.9l1.5 1.5l-1.5 1.5l-1.5 -1.5zM219.8 170.8l1.5 1.5l-1.5 1.5l-1.5 -1.5zM212.7 177.3l1.5 1.5l-1.5 1.5l-1.5 -1.5zM214.5 181.7l1.5 1.5l-1.5 1.5l-1.5 -1.5zM218.8 178.1l1.5 1.5l-1.5 1.5l-1.5 -1.5zM214.3 190.9l1.5 1.5l-1.5 1.5l-1.5 -1.5zM214.2 178l1.5 1.5l-1.5 1.5l-1.5 -1.5zM213.7 178.7l1.5 1.5l-1.5 1.5l-1.5 -1.5zM211.9 186.6l1.5 1.5l-1.5 1.5l-1.5 -1.5zM212.2 181.3l1.5 1.5l-1.5 1.5l-1.5 -1.5zM217 173.7l1.5 1.5l-1.5 1.5l-1.5 -1.5zM214.1 181.5l1.5 1.5l-1.5 1.5l-1.5 -1.5zM218.6 173.4l1.5 1.5l-1.5 1.5l-1.5 -1.5zM219.6 179.8l1.5 1.5l-1.5 1.5l-1.5 -1.5zM214.4 180l1.5 1.5l-1.5 1.5l-1.5 -1.5zM217 179l1.5 1.5l-1.5 1.5l-1.5 -1.5zM217.1 173.2l1.5 1.5l-1.5 1.5l-1.5 -1.5zM213.2 184l1.5 1.5l-1.5 1.5l-1.5 -1.5zM218.2 168l1.5 1.5l-1.5 1.5l-1.5 -1.5zM214.5 184.2l1.5 1.5l-1.5 1.5l-1.5 -1.5zM217.7 179.6l1.5 1.5l-1.5 1.5l-1.5 -1.5zM219.7 176.4l1.5 1.5l-1.5 1.5l-1.5 -1.5zM217.2 174.8l1.5 1.5l-1.5 1.5l-1.5 -1.5zM215.4 176.2l1.5 1.5l-1.5 1.5l-1.5 -1.5zM212.9 185.4l1.5 1.5l-1.5 1.5l-1.5 -1.5zM217.3 182.6l1.5 1.5l-1.5 1.5l-1.5 -1.5zM213.5 181l1.5 1.5l-1.5 1.5l-1.5 -1.5zM216.6 176.4l1.5 1.5l-1.5 1.5l-1.5 -1.5zM212.7 178.6l1.5 1.5l-1.5 1.5l-1.5 -1.5zM216 179.2l1.5 1.5l-1.5 1.5l-1.5 -1.5zM212.4 176.4l1.5 1.5l-1.5 1.5l-1.5 -1.5zM212.4 183.1l1.5 1.5l-1.5 1.5l-1.5 -1.5zM213.9 180l1.5 1.5l-1.5 1.5l-1.5 -1.5zM216.6 173.2l1.5 1.5l-1.5 1.5l-1.5 -1.5zM218.1 173.3l1.5 1.5l-1.5 1.5l-1.5 -1.5zM215.1 179.9l1.5 1.5l-1.5 1.5l-1.5 -1.5zM218.5 169.1l1.5 1.5l-1.5 1.5l-1.5 -1.5zM214.4 179.1l1.5 1.5l-1.5 1.5l-1.5 -1.5zM215.1 189.3l1.5 1.5l-1.5 1.5l-1.5 -1.5zM216.9 176.1l1.5 1.5l-1.5 1.5l-1.5 -1.5zM212.1 181.6l1.5 1.5l-1.5 1.5l-1.5 -1.5zM219.4 175.1l1.5 1.5l-1.5 1.5l-1.5 -1.5zM219.8 175.4l1.5 1.5l-1.5 1.5l-1.5 -1.5zM218.6 172.4l1.5 1.5l-1.5 1.5l-1.5 -1.5zM212.8 185l1.5 1.5l-1.5 1.5l-1.5 -1.5zM211.3 178.2l1.5 1.5l-1.5 1.5l-1.5 -1.5zM219 168.1l1.5 1.5l-1.5 1.5l-1.5 -1.5zM217.3 180.1l1.5 1.5l-1.5 1.5l-1.5 -1.5zM215.9 181.7l1.5 1.5l-1.5 1.5l-1.5 -1.5zM219.1 173.5l1.5 1.5l-1.5 1.5l-1.5 -1.5zM214.2 186.2l1.5 1.5l-1.5 1.5l-1.5 -1.5zM211.8 183.3l1.5 1.5l-1.5 1.5l-1.5 -1.5zM211.8 181l1.5 1.5l-1.5 1.5l-1.5 -1.5zM212.6 180.9l1.5 1.5l-1.5 1.5l-1.5 -1.5zM213.8 180.7l1.5 1.5l-1.5 1.5l-1.5 -1.5zM219.2 185.6l1.5 1.5l-1.5 1.5l-1.5 -1.5zM218.9 180.6l1.5 1.5l-1.5 1.5l-1.5 -1.5zM218.2 175.7l1.5 1.5l-1.5 1.5l-1.5 -1.5zM213.7 189.7l1.5 1.5l-1.5 1.5l-1.5 -1.5zM217.6 172.9l1.5 1.5l-1.5 1.5l-1.5 -1.5zM213.2 191l1.5 1.5l-1.5 1.5l-1.5 -1.5zM216.1 184.9l1.5 1.5l-1.5 1.5l-1.5 -1.5zM216.6 179.9l1.5 1.5l-1.5 1.5l-1.5 -1.5zM217.4 175l1.5 1.5l-1.5 1.5l-1.5 -1.5zM215.3 182l1.5 1.5l-1.5 1.5l-1.5 -1.5zM212.9 177.7l1.5 1.5l-1.5 1.5l-1.5 -1.5zM219.6 174.4l1.5 1.5l-1.5 1.5l-1.5 -1.5zM218.5 183.1l1.5 1.5l-1.5 1.5l-1.5 -1.5zM213.4 181l1.5 1.5l-1.5 1.5l-1.5 -1.5zM213.2 178.3l1.5 1.5l-1.5 1.5l-1.5 -1.5zM213.1 186.6l1.5 1.5l-1.5 1.5l-1.5 -1.5zM215.7 179l1.5 1.5l-1.5 1.5l-1.5 -1.5zM215.6 187.7l1.5 1.5l-1.5 1.5l-1.5 -1.5zM217.8 177.6l1.5 1.5l-1.5 1.5l-1.5 -1.5zM218.9 173.9l1.5 1.5l-1.5 1.5l-1.5 -1.5zM214.3 184.6l1.5 1.5l-1.5 1.5l-1.5 -1.5zM217.6 174.1l1.5 1.5l-1.5 1.5l-1.5 -1.5zM215.8 176.1l1.5 1.5l-1.5 1.5l-1.5 -1.5zM212.6 186.8l1.5 1.5l-1.5 1.5l-1.5 -1.5zM215.7 177.8l1.5 1.5l-1.5 1.5l-1.5 -1.5zM218.1 178.4l1.5 1.5l-1.5 1.5l-1.5 -1.5zM214.3 188.9l1.5 1.5l-1.5 1.5l-1.5 -1.5zM218.3 178.9l1.5 1.5l-1.5 1.5l-1.5 -1.5zM216.8 179.9l1.5 1.5l-1.5 1.5l-1.5 -1.5zM215.4 176.5l1.5 1.5l-1.5 1.5l-1.5 -1.5zM213.1 186.6l1.5 1.5l-1.5 1.5l-1.5 -1.5zM215 189.3l1.5 1.5l-1.5 1.5l-1.5 -1.5zM213.4 182.6l1.5 1.5l-1.5 1.5l-1.5 -1.5zM218.5 170.2l1.5 1.5l-1.5 1.5l-1.5 -1.5zM216.7 176.1l1.5 1.5l-1.5 1.5l-1.5 -1.5zM212.3 183.1l1.5 1.5l-1.5 1.5l-1.5 -1.5zM218.8 172.2l1.5 1.5l-1.5 1.5l-1.5 -1.5zM218.1 172.5l1.5 1.5l-1.5 1.5l-1.5 -1.5zM215 174l1.5 1.5l-1.5 1.5l-1.5 -1.5zM217.1 180l1.5 1.5l-1.5 1.5l-1.5 -1.5zM212.1 181.7l1.5 1.5l-1.5 1.5l-1.5 -1.5zM214.8 179.1l1.5 1.5l-1.5 1.5l-1.5 -1.5zM213.1 182.3l1.5 1.5l-1.5 1.5l-1.5 -1.5zM218.8 173.9l1.5 1.5l-1.5 1.5l-1.5 -1.5zM212.8 184.1l1.5 1.5l-1.5 1.5l-1.5 -1.5zM216.3 180.8l1.5 1.5l-1.5 1.5l-1.5 -1.5zM215.9 184.4l1.5 1.5l-1.5 1.5l-1.5 -1.5zM215.1 172.9l1.5 1.5l-1.5 1.5l-1.5 -1.5zM211.3 182.8l1.5 1.5l-1.5 1.5l-1.5 -1.5zM219.4 176.2l1.5 1.5l-1.5 1.5l-1.5 -1.5zM218 177.4l1.5 1.5l-1.5 1.5l-1.5 -1.5zM216.2 176.1l1.5 1.5l-1.5 1.5l-1.5 -1.5zM218.1 175.4l1.5 1.5l-1.5 1.5l-1.5 -1.5zM213.9 181.9l1.5 1.5l-1.5 1.5l-1.5 -1.5zM216.2 175.9l1.5 1.5l-1.5 1.5l-1.5 -1.5zM216.9 174.2l1.5 1.5l-1.5 1.5l-1.5 -1.5zM211.8 186.3l1.5 1.5l-1.5 1.5l-1.5 -1.5zM216.9 176.8l1.5 1.5l-1.5 1.5l-1.5 -1.5zM216 177.1l1.5 1.5l-1.5 1.5l-1.5 -1.5zM217.7 183.3l1.5 1.5l-1.5 1.5l-1.5 -1.5zM218.9 180.8l1.5 1.5l-1.5 1.5l-1.5 -1.5zM211.6 182.7l1.5 1.5l-1.5 1.5l-1.5 -1.5zM213.4 184.4l1.5 1.5l-1.5 1.5l-1.5 -1.5zM212 179.2l1.5 1.5l-1.5 1.5l-1.5 -1.5zM213.8 182.6l1.5 1.5l-1.5 1.5l-1.5 -1.5zM215.3 175.6l1.5 1.5l-1.5 1.5l-1.5 -1.5zM217.6 182.3l1.5 1.5l-1.5 1.5l-1.5 -1.5zM212.2 182.6l1.5 1.5l-1.5 1.5l-1.5 -1.5zM214.1 182.9l1.5 1.5l-1.5 1.5l-1.5 -1.5zM212.2 180l1.5 1.5l-1.5 1.5l-1.5 -1.5zM220 168.6l1.5 1.5l-1.5 1.5l-1.5 -1.5zM213 189.7l1.5 1.5l-1.5 1.5l-1.5 -1.5zM224.1 181.6l1.5 1.5l-1.5 1.5l-1.5 -1.5zM223.4 186.2l1.5 1.5l-1.5 1.5l-1.5 -1.5zM224.5 179.4l1.5 1.5l-1.5 1.5l-1.5 -1.5zM224.5 182.3l1.5 1.5l-1.5 1.5l-1.5 -1.5zM224.6 172.6l1.5 1.5l-1.5 1.5l-1.5 -1.5zM223.7 171.1l1.5 1.5l-1.5 1.5l-1.5 -1.5zM224.4 186.6l1.5 1.5l-1.5 1.5l-1.5 -1.5zM225.2 176.5l1.5 1.5l-1.5 1.5l-1.5 -1.5zM224.9 180.1l1.5 1.5l-1.5 1.5l-1.5 -1.5zM223.9 170.3l1.5 1.5l-1.5 1.5l-1.5 -1.5zM223.4 177.2l1.5 1.5l-1.5 1.5l-1.5 -1.5zM224.3 190.2l1.5 1.5l-1.5 1.5l-1.5 -1.5zM223.2 172.3l1.5 1.5l-1.5 1.5l-1.5 -1.5zM225.1 175.5l1.5 1.5l-1.5 1.5l-1.5 -1.5zM224.6 174.7l1.5 1.5l-1.5 1.5l-1.5 -1.5zM223.6 177.6l1.5 1.5l-1.5 1.5l-1.5 -1.5zM225.4 188l1.5 1.5l-1.5 1.5l-1.5 -1.5zM223.8 175l1.5 1.5l-1.5 1.5l-1.5 -1.5zM225.2 176l1.5 1.5l-1.5 1.5l-1.5 -1.5zM223.3 177.3l1.5 1.5l-1.5 1.5l-1.5 -1.5zM225 183.6l1.5 1.5l-1.5 1.5l-1.5 -1.5zM224.2 185l1.5 1.5l-1.5 1.5l-1.5 -1.5zM224.1 184.8l1.5 1.5l-1.5 1.5l-1.5 -1.5zM225.6 177.8l1.5 1.5l-1.5 1.5l-1.5 -1.5zM225.6 185.5l1.5 1.5l-1.5 1.5l-1.5 -1.5zM223.5 180l1.5 1.5l-1.5 1.5l-1.5 -1.5zM226 177.7l1.5 1.5l-1.5 1.5l-1.5 -1.5zM223.3 180.6l1.5 1.5l-1.5 1.5l-1.5 -1.5zM223.7 175l1.5 1.5l-1.5 1.5l-1.5 -1.5zM224.4 175.7l1.5 1.5l-1.5 1.5l-1.5 -1.5zM223.6 180.1l1.5 1.5l-1.5 1.5l-1.5 -1.5zM224.8 178.1l1.5 1.5l-1.5 1.5l-1.5 -1.5zM224.3 192.7l1.5 1.5l-1.5 1.5l-1.5 -1.5zM224.5 183l1.5 1.5l-1.5 1.5l-1.5 -1.5zM224.2 192.5l1.5 1.5l-1.5 1.5l-1.5 -1.5zM225.1 184.1l1.5 1.5l-1.5 1.5l-1.5 -1.5zM225.5 176.1l1.5 1.5l-1.5 1.5l-1.5 -1.5zM224 180.6l1.5 1.5l-1.5 1.5l-1.5 -1.5zM224.5 182.3l1.5 1.5l-1.5 1.5l-1.5 -1.5zM225.8 180.9l1.5 1.5l-1.5 1.5l-1.5 -1.5zM225.5 185.3l1.5 1.5l-1.5 1.5l-1.5 -1.5zM224 182.9l1.5 1.5l-1.5 1.5l-1.5 -1.5zM224.5 185.9l1.5 1.5l-1.5 1.5l-1.5 -1.5zM226 182.4l1.5 1.5l-1.5 1.5l-1.5 -1.5zM224.9 179.9l1.5 1.5l-1.5 1.5l-1.5 -1.5zM224.4 186.2l1.5 1.5l-1.5 1.5l-1.5 -1.5zM225.9 180.6l1.5 1.5l-1.5 1.5l-1.5 -1.5zM224.1 173.1l1.5 1.5l-1.5 1.5l-1.5 -1.5zM223.4 176.9l1.5 1.5l-1.5 1.5l-1.5 -1.5zM226 182.7l1.5 1.5l-1.5 1.5l-1.5 -1.5zM225.3 183.5l1.5 1.5l-1.5 1.5l-1.5 -1.5zM223.3 179.6l1.5 1.5l-1.5 1.5l-1.5 -1.5zM224.6 183.4l1.5 1.5l-1.5 1.5l-1.5 -1.5zM223.2 183.4l1.5 1.5l-1.5 1.5l-1.5 -1.5zM223.4 183.4l1.5 1.5l-1.5 1.5l-1.5 -1.5zM223.5 182.5l1.5 1.5l-1.5 1.5l-1.5 -1.5zM223.6 185.5l1.5 1.5l-1.5 1.5l-1.5 -1.5zM225.7 176.4l1.5 1.5l-1.5 1.5l-1.5 -1.5zM223.9 181.3l1.5 1.5l-1.5 1.5l-1.5 -1.5zM225.7 187.2l1.5 1.5l-1.5 1.5l-1.5 -1.5zM223.5 182.7l1.5 1.5l-1.5 1.5l-1.5 -1.5zM226 174.1l1.5 1.5l-1.5 1.5l-1.5 -1.5zM225.8 183l1.5 1.5l-1.5 1.5l-1.5 -1.5zM223.5 187.2l1.5 1.5l-1.5 1.5l-1.5 -1.5zM225 185l1.5 1.5l-1.5 1.5l-1.5 -1.5zM225.4 179.8l1.5 1.5l-1.5 1.5l-1.5 -1.5zM223.8 185.2l1.5 1.5l-1.5 1.5l-1.5 -1.5zM224.5 180l1.5 1.5l-1.5 1.5l-1.5 -1.5zM224.1 186l1.5 1.5l-1.5 1.5l-1.5 -1.5zM224 178.2l1.5 1.5l-1.5 1.5l-1.5 -1.5zM225.6 178.2l1.5 1.5l-1.5 1.5l-1.5 -1.5zM224.7 182.2l1.5 1.5l-1.5 1.5l-1.5 -1.5zM230.3 193l1.5 1.5l-1.5 1.5l-1.5 -1.5zM230.5 193.5l1.5 1.5l-1.5 1.5l-1.5 -1.5zM233.3 188.8l1.5 1.5l-1.5 1.5l-1.5 -1.5zM232.9 196.9l1.5 1.5l-1.5 1.5l-1.5 -1.5zM229.7 190.6l1.5 1.5l-1.5 1.5l-1.5 -1.5zM232.5 189l1.5 1.5l-1.5 1.5l-1.5 -1.5zM233.4 189l1.5 1.5l-1.5 1.5l-1.5 -1.5zM231.6 192.7l1.5 1.5l-1.5 1.5l-1.5 -1.5zM228.8 186.8l1.5 1.5l-1.5 1.5l-1.5 -1.5zM232.7 191.2l1.5 1.5l-1.5 1.5l-1.5 -1.5zM231.5 193.5l1.5 1.5l-1.5 1.5l-1.5 -1.5zM229.4 186.3l1.5 1.5l-1.5 1.5l-1.5 -1.5zM228.9 191.2l1.5 1.5l-1.5 1.5l-1.5 -1.5zM231.7 193.8l1.5 1.5l-1.5 1.5l-1.5 -1.5zM231.6 193.3l1.5 1.5l-1.5 1.5l-1.5 -1.5zM231.8 192.9l1.5 1.5l-1.5 1.5l-1.5 -1.5zM233.2 190.6l1.5 1.5l-1.5 1.5l-1.5 -1.5zM230.4 189.3l1.5 1.5l-1.5 1.5l-1.5 -1.5zM231.9 192.3l1.5 1.5l-1.5 1.5l-1.5 -1.5zM232.1 189.1l1.5 1.5l-1.5 1.5l-1.5 -1.5zM231.2 189.4l1.5 1.5l-1.5 1.5l-1.5 -1.5zM231 194.5l1.5 1.5l-1.5 1.5l-1.5 -1.5zM233.2 196.5l1.5 1.5l-1.5 1.5l-1.5 -1.5zM232.3 193.7l1.5 1.5l-1.5 1.5l-1.5 -1.5zM232.6 190.2l1.5 1.5l-1.5 1.5l-1.5 -1.5zM229.6 190.7l1.5 1.5l-1.5 1.5l-1.5 -1.5zM233.1 185.7l1.5 1.5l-1.5 1.5l-1.5 -1.5zM232.6 191.9l1.5 1.5l-1.5 1.5l-1.5 -1.5zM232.3 189l1.5 1.5l-1.5 1.5l-1.5 -1.5zM230.8 190.9l1.5 1.5l-1.5 1.5l-1.5 -1.5zM232.4 193l1.5 1.5l-1.5 1.5l-1.5 -1.5zM232.6 192.6l1.5 1.5l-1.5 1.5l-1.5 -1.5zM229.3 187l1.5 1.5l-1.5 1.5l-1.5 -1.5zM229.2 188.7l1.5 1.5l-1.5 1.5l-1.5 -1.5zM230.1 190.7l1.5 1.5l-1.5 1.5l-1.5 -1.5zM228.9 192.7l1.5 1.5l-1.5 1.5l-1.5 -1.5zM229.5 194.5l1.5 1.5l-1.5 1.5l-1.5 -1.5zM232.6 187.7l1.5 1.5l-1.5 1.5l-1.5 -1.5zM229.9 196.1l1.5 1.5l-1.5 1.5l-1.5 -1.5zM229.7 190.7l1.5 1.5l-1.5 1.5l-1.5 -1.5zM230.6 192.1l1.5 1.5l-1.5 1.5l-1.5 -1.5zM230.3 197.2l1.5 1.5l-1.5 1.5l-1.5 -1.5zM230.3 192.1l1.5 1.5l-1.5 1.5l-1.5 -1.5zM228.4 192.1l1.5 1.5l-1.5 1.5l-1.5 -1.5zM229.7 190.5l1.5 1.5l-1.5 1.5l-1.5 -1.5zM228.5 193.7l1.5 1.5l-1.5 1.5l-1.5 -1.5zM231.3 194.3l1.5 1.5l-1.5 1.5l-1.5 -1.5zM230.9 191.9l1.5 1.5l-1.5 1.5l-1.5 -1.5zM233.3 192.5l1.5 1.5l-1.5 1.5l-1.5 -1.5zM230.3 197.5l1.5 1.5l-1.5 1.5l-1.5 -1.5zM229 189.9l1.5 1.5l-1.5 1.5l-1.5 -1.5zM232.6 194.7l1.5 1.5l-1.5 1.5l-1.5 -1.5zM232.4 191l1.5 1.5l-1.5 1.5l-1.5 -1.5zM231.9 186.2l1.5 1.5l-1.5 1.5l-1.5 -1.5zM229.2 188.8l1.5 1.5l-1.5 1.5l-1.5 -1.5zM231.1 191.5l1.5 1.5l-1.5 1.5l-1.5 -1.5zM229.4 193.4l1.5 1.5l-1.5 1.5l-1.5 -1.5zM231.9 186.6l1.5 1.5l-1.5 1.5l-1.5 -1.5zM231.5 189.3l1.5 1.5l-1.5 1.5l-1.5 -1.5zM231.4 196.1l1.5 1.5l-1.5 1.5l-1.5 -1.5zM231.2 189.3l1.5 1.5l-1.5 1.5l-1.5 -1.5zM230 193.9l1.5 1.5l-1.5 1.5l-1.5 -1.5zM228.9 189l1.5 1.5l-1.5 1.5l-1.5 -1.5zM230.1 189.7l1.5 1.5l-1.5 1.5l-1.5 -1.5zM231.6 185.1l1.5 1.5l-1.5 1.5l-1.5 -1.5zM231.7 195.8l1.5 1.5l-1.5 1.5l-1.5 -1.5zM230.6 190l1.5 1.5l-1.5 1.5l-1.5 -1.5zM230.7 192l1.5 1.5l-1.5 1.5l-1.5 -1.5zM228.9 187.8l1.5 1.5l-1.5 1.5l-1.5 -1.5zM231.5 192.3l1.5 1.5l-1.5 1.5l-1.5 -1.5zM231.8 189.2l1.5 1.5l-1.5 1.5l-1.5 -1.5zM232.9 191.2l1.5 1.5l-1.5 1.5l-1.5 -1.5zM230.9 193l1.5 1.5l-1.5 1.5l-1.5 -1.5zM230.1 199.2l1.5 1.5l-1.5 1.5l-1.5 -1.5zM230.6 188.9l1.5 1.5l-1.5 1.5l-1.5 -1.5zM232.4 189.3l1.5 1.5l-1.5 1.5l-1.5 -1.5zM233.3 188.9l1.5 1.5l-1.5 1.5l-1.5 -1.5zM229.3 193.3l1.5 1.5l-1.5 1.5l-1.5 -1.5zM228.5 191.5l1.5 1.5l-1.5 1.5l-1.5 -1.5zM230.8 185.9l1.5 1.5l-1.5 1.5l-1.5 -1.5zM241.4 194.2l1.5 1.5l-1.5 1.5l-1.5 -1.5zM238.3 189l1.5 1.5l-1.5 1.5l-1.5 -1.5zM239.7 195l1.5 1.5l-1.5 1.5l-1.5 -1.5zM241.9 185.1l1.5 1.5l-1.5 1.5l-1.5 -1.5zM241.5 188.7l1.5 1.5l-1.5 1.5l-1.5 -1.5zM245 191.9l1.5 1.5l-1.5 1.5l-1.5 -1.5zM236.3 192.1l1.5 1.5l-1.5 1.5l-1.5 -1.5zM237 193.1l1.5 1.5l-1.5 1.5l-1.5 -1.5zM243.6 191.1l1.5 1.5l-1.5 1.5l-1.5 -1.5zM242.3 196.1l1.5 1.5l-1.5 1.5l-1.5 -1.5zM241.4 187.3l1.5 1.5l-1.5 1.5l-1.5 -1.5zM241.3 192.9l1.5 1.5l-1.5 1.5l-1.5 -1.5zM238.5 191l1.5 1.5l-1.5 1.5l-1.5 -1.5zM241.7 193.3l1.5 1.5l-1.5 1.5l-1.5 -1.5zM239.5 192.7l1.5 1.5l-1.5 1.5l-1.5 -1.5zM240.5 188.3l1.5 1.5l-1.5 1.5l-1.5 -1.5zM242.6 189.9l1.5 1.5l-1.5 1.5l-1.5 -1.5zM243.2 187.7l1.5 1.5l-1.5 1.5l-1.5 -1.5zM241.5 187.7l1.5 1.5l-1.5 1.5l-1.5 -1.5zM243.9 196.8l1.5 1.5l-1.5 1.5l-1.5 -1.5zM236.6 188.3l1.5 1.5l-1.5 1.5l-1.5 -1.5zM243.9 188.5l1.5 1.5l-1.5 1.5l-1.5 -1.5zM244.3 187.7l1.5 1.5l-1.5 1.5l-1.5 -1.5zM243.5 192l1.5 1.5l-1.5 1.5l-1.5 -1.5zM241.3 187.2l1.5 1.5l-1.5 1.5l-1.5 -1.5zM239.5 188.8l1.5 1.5l-1.5 1.5l-1.5 -1.5zM241.6 195.3l1.5 1.5l-1.5 1.5l-1.5 -1.5zM239.1 182l1.5 1.5l-1.5 1.5l-1.5 -1.5zM241.2 186.6l1.5 1.5l-1.5 1.5l-1.5 -1.5zM244.2 179.4l1.5 1.5l-1.5 1.5l-1.5 -1.5zM236.5 183.7l1.5 1.5l-1.5 1.5l-1.5 -1.5zM240.2 184l1.5 1.5l-1.5 1.5l-1.5 -1.5zM244.7 188.7l1.5 1.5l-1.5 1.5l-1.5 -1.5zM241.7 183.1l1.5 1.5l-1.5 1.5l-1.5 -1.5zM240.9 190.2l1.5 1.5l-1.5 1.5l-1.5 -1.5zM242.4 189.3l1.5 1.5l-1.5 1.5l-1.5 -1.5zM239 190.6l1.5 1.5l-1.5 1.5l-1.5 -1.5zM243.9 196.7l1.5 1.5l-1.5 1.5l-1.5 -1.5zM236.5 191.3l1.5 1.5l-1.5 1.5l-1.5 -1.5zM241.9 189.6l1.5 1.5l-1.5 1.5l-1.5 -1.5zM239.6 187.9l1.5 1.5l-1.5 1.5l-1.5 -1.5zM238.2 189.1l1.5 1.5l-1.5 1.5l-1.5 -1.5zM241.5 184.1l1.5 1.5l-1.5 1.5l-1.5 -1.5zM239.1 182.4l1.5 1.5l-1.5 1.5l-1.5 -1.5zM243.1 184l1.5 1.5l-1.5 1.5l-1.5 -1.5zM244.6 190.8l1.5 1.5l-1.5 1.5l-1.5 -1.5zM239.6 195.5l1.5 1.5l-1.5 1.5l-1.5 -1.5zM239.2 191.7l1.5 1.5l-1.5 1.5l-1.5 -1.5zM241.1 186.8l1.5 1.5l-1.5 1.5l-1.5 -1.5zM243 189.8l1.5 1.5l-1.5 1.5l-1.5 -1.5zM238.6 190.4l1.5 1.5l-1.5 1.5l-1.5 -1.5zM240.5 192l1.5 1.5l-1.5 1.5l-1.5 -1.5zM243.6 188.8l1.5 1.5l-1.5 1.5l-1.5 -1.5zM239.7 181.9l1.5 1.5l-1.5 1.5l-1.5 -1.5zM236.8 186.2l1.5 1.5l-1.5 1.5l-1.5 -1.5zM239.1 192.1l1.5 1.5l-1.5 1.5l-1.5 -1.5zM238.9 192.6l1.5 1.5l-1.5 1.5l-1.5 -1.5zM242.4 186.9l1.5 1.5l-1.5 1.5l-1.5 -1.5zM243.3 188.4l1.5 1.5l-1.5 1.5l-1.5 -1.5zM240.7 194.3l1.5 1.5l-1.5 1.5l-1.5 -1.5zM243.4 195.3l1.5 1.5l-1.5 1.5l-1.5 -1.5zM238.1 197.1l1.5 1.5l-1.5 1.5l-1.5 -1.5zM238.2 187.8l1.5 1.5l-1.5 1.5l-1.5 -1.5zM236.2 193.7l1.5 1.5l-1.5 1.5l-1.5 -1.5zM237.1 183.7l1.5 1.5l-1.5 1.5l-1.5 -1.5zM242.9 189.9l1.5 1.5l-1.5 1.5l-1.5 -1.5zM243.5 184l1.5 1.5l-1.5 1.5l-1.5 -1.5zM244.9 187.3l1.5 1.5l-1.5 1.5l-1.5 -1.5zM244.3 197.2l1.5 1.5l-1.5 1.5l-1.5 -1.5zM239 188.4l1.5 1.5l-1.5 1.5l-1.5 -1.5zM243.7 184.3l1.5 1.5l-1.5 1.5l-1.5 -1.5zM241.2 188.6l1.5 1.5l-1.5 1.5l-1.5 -1.5zM241 192.3l1.5 1.5l-1.5 1.5l-1.5 -1.5zM237.4 194.9l1.5 1.5l-1.5 1.5l-1.5 -1.5zM238.3 184.1l1.5 1.5l-1.5 1.5l-1.5 -1.5zM242.3 187.7l1.5 1.5l-1.5 1.5l-1.5 -1.5zM243 187.3l1.5 1.5l-1.5 1.5l-1.5 -1.5zM242.9 188.4l1.5 1.5l-1.5 1.5l-1.5 -1.5zM238.7 192.5l1.5 1.5l-1.5 1.5l-1.5 -1.5zM243 181.9l1.5 1.5l-1.5 1.5l-1.5 -1.5zM237.6 191.4l1.5 1.5l-1.5 1.5l-1.5 -1.5zM237.1 184.5l1.5 1.5l-1.5 1.5l-1.5 -1.5zM237.6 196.5l1.5 1.5l-1.5 1.5l-1.5 -1.5zM236.8 189l1.5 1.5l-1.5 1.5l-1.5 -1.5zM242.1 186.9l1.5 1.5l-1.5 1.5l-1.5 -1.5zM236.9 189.2l1.5 1.5l-1.5 1.5l-1.5 -1.5zM243.9 196l1.5 1.5l-1.5 1.5l-1.5 -1.5zM239.8 189.6l1.5 1.5l-1.5 1.5l-1.5 -1.5zM239.2 191.2l1.5 1.5l-1.5 1.5l-1.5 -1.5zM238.3 192.1l1.5 1.5l-1.5 1.5l-1.5 -1.5zM243.1 183l1.5 1.5l-1.5 1.5l-1.5 -1.5zM240.9 188.8l1.5 1.5l-1.5 1.5l-1.5 -1.5zM239.6 188.7l1.5 1.5l-1.5 1.5l-1.5 -1.5zM238.8 189.5l1.5 1.5l-1.5 1.5l-1.5 -1.5zM238.1 196.8l1.5 1.5l-1.5 1.5l-1.5 -1.5zM239.1 189.2l1.5 1.5l-1.5 1.5l-1.5 -1.5zM241.8 196.5l1.5 1.5l-1.5 1.5l-1.5 -1.5zM240.4 183.3l1.5 1.5l-1.5 1.5l-1.5 -1.5zM244.5 196.8l1.5 1.5l-1.5 1.5l-1.5 -1.5zM240.2 182.9l1.5 1.5l-1.5 1.5l-1.5 -1.5zM238.5 187.4l1.5 1.5l-1.5 1.5l-1.5 -1.5zM238.5 194.4l1.5 1.5l-1.5 1.5l-1.5 -1.5zM243 191.9l1.5 1.5l-1.5 1.5l-1.5 -1.5zM237.6 178.7l1.5 1.5l-1.5 1.5l-1.5 -1.5zM240.4 194.9l1.5 1.5l-1.5 1.5l-1.5 -1.5zM239.6 195.2l1.5 1.5l-1.5 1.5l-1.5 -1.5zM239.5 183.6l1.5 1.5l-1.5 1.5l-1.5 -1.5zM237.3 185.2l1.5 1.5l-1.5 1.5l-1.5 -1.5zM244.3 185.5l1.5 1.5l-1.5 1.5l-1.5 -1.5zM242 186.9l1.5 1.5l-1.5 1.5l-1.5 -1.5zM238.7 195.3l1.5 1.5l-1.5 1.5l-1.5 -1.5zM240.1 181.6l1.5 1.5l-1.5 1.5l-1.5 -1.5zM244.2 192.1l1.5 1.5l-1.5 1.5l-1.5 -1.5zM244.4 180.3l1.5 1.5l-1.5 1.5l-1.5 -1.5zM237.4 191l1.5 1.5l-1.5 1.5l-1.5 -1.5zM244.3 185.3l1.5 1.5l-1.5 1.5l-1.5 -1.5zM239.8 184.3l1.5 1.5l-1.5 1.5l-1.5 -1.5zM244.9 198.5l1.5 1.5l-1.5 1.5l-1.5 -1.5zM243.4 190.7l1.5 1.5l-1.5 1.5l-1.5 -1.5zM239.5 192.1l1.5 1.5l-1.5 1.5l-1.5 -1.5zM242.8 186.5l1.5 1.5l-1.5 1.5l-1.5 -1.5zM240.3 187.8l1.5 1.5l-1.5 1.5l-1.5 -1.5zM243.2 190.7l1.5 1.5l-1.5 1.5l-1.5 -1.5zM242.6 198.2l1.5 1.5l-1.5 1.5l-1.5 -1.5zM238.1 196.3l1.5 1.5l-1.5 1.5l-1.5 -1.5zM239.5 186.2l1.5 1.5l-1.5 1.5l-1.5 -1.5zM244 192.9l1.5 1.5l-1.5 1.5l-1.5 -1.5zM244.5 188.1l1.5 1.5l-1.5 1.5l-1.5 -1.5zM237.1 186.5l1.5 1.5l-1.5 1.5l-1.5 -1.5zM236.8 183.7l1.5 1.5l-1.5 1.5l-1.5 -1.5zM240.1 189.6l1.5 1.5l-1.5 1.5l-1.5 -1.5zM244.8 187.6l1.5 1.5l-1.5 1.5l-1.5 -1.5zM239.9 192.4l1.5 1.5l-1.5 1.5l-1.5 -1.5zM237.7 194.9l1.5 1.5l-1.5 1.5l-1.5 -1.5zM241 187.3l1.5 1.5l-1.5 1.5l-1.5 -1.5zM239.9 190.4l1.5 1.5l-1.5 1.5l-1.5 -1.5zM240.5 193.3l1.5 1.5l-1.5 1.5l-1.5 -1.5zM240.1 195.4l1.5 1.5l-1.5 1.5l-1.5 -1.5zM238 189.6l1.5 1.5l-1.5 1.5l-1.5 -1.5zM236.7 190.9l1.5 1.5l-1.5 1.5l-1.5 -1.5zM243.1 192.3l1.5 1.5l-1.5 1.5l-1.5 -1.5zM244 190.8l1.5 1.5l-1.5 1.5l-1.5 -1.5zM240.1 197.2l1.5 1.5l-1.5 1.5l-1.5 -1.5zM240.9 188.2l1.5 1.5l-1.5 1.5l-1.5 -1.5zM236.8 188.7l1.5 1.5l-1.5 1.5l-1.5 -1.5zM242.1 187.2l1.5 1.5l-1.5 1.5l-1.5 -1.5zM244.3 186.8l1.5 1.5l-1.5 1.5l-1.5 -1.5zM243.4 189.1l1.5 1.5l-1.5 1.5l-1.5 -1.5zM241.1 190.6l1.5 1.5l-1.5 1.5l-1.5 -1.5zM242 188.8l1.5 1.5l-1.5 1.5l-1.5 -1.5zM240.5 191l1.5 1.5l-1.5 1.5l-1.5 -1.5zM236.5 188.3l1.5 1.5l-1.5 1.5l-1.5 -1.5zM238.7 185.2l1.5 1.5l-1.5 1.5l-1.5 -1.5zM238.7 180.4l1.5 1.5l-1.5 1.5l-1.5 -1.5zM239.2 179.2l1.5 1.5l-1.5 1.5l-1.5 -1.5zM238.8 180.3l1.5 1.5l-1.5 1.5l-1.5 -1.5zM239.2 179l1.5 1.5l-1.5 1.5l-1.5 -1.5zM238.9 179.6l1.5 1.5l-1.5 1.5l-1.5 -1.5zM239.5 179.8l1.5 1.5l-1.5 1.5l-1.5 -1.5zM239.2 178.9l1.5 1.5l-1.5 1.5l-1.5 -1.5zM238.6 180l1.5 1.5l-1.5 1.5l-1.5 -1.5zM238.8 180.2l1.5 1.5l-1.5 1.5l-1.5 -1.5zM238.5 181.4l1.5 1.5l-1.5 1.5l-1.5 -1.5zM238.9 180.7l1.5 1.5l-1.5 1.5l-1.5 -1.5zM250 186.6l1.5 1.5l-1.5 1.5l-1.5 -1.5zM249 191.7l1.5 1.5l-1.5 1.5l-1.5 -1.5zM250.2 188.3l1.5 1.5l-1.5 1.5l-1.5 -1.5zM249.7 195l1.5 1.5l-1.5 1.5l-1.5 -1.5zM249.2 182.1l1.5 1.5l-1.5 1.5l-1.5 -1.5zM250.8 200.5l1.5 1.5l-1.5 1.5l-1.5 -1.5zM248.3 194.1l1.5 1.5l-1.5 1.5l-1.5 -1.5zM249.6 186.2l1.5 1.5l-1.5 1.5l-1.5 -1.5zM249 196.1l1.5 1.5l-1.5 1.5l-1.5 -1.5zM248.7 193.9l1.5 1.5l-1.5 1.5l-1.5 -1.5zM250.2 187.1l1.5 1.5l-1.5 1.5l-1.5 -1.5zM249.5 197l1.5 1.5l-1.5 1.5l-1.5 -1.5zM248.8 194.3l1.5 1.5l-1.5 1.5l-1.5 -1.5zM249.4 193.8l1.5 1.5l-1.5 1.5l-1.5 -1.5zM249.9 191l1.5 1.5l-1.5 1.5l-1.5 -1.5zM250.2 189l1.5 1.5l-1.5 1.5l-1.5 -1.5zM250.1 188.4l1.5 1.5l-1.5 1.5l-1.5 -1.5zM249.9 192.2l1.5 1.5l-1.5 1.5l-1.5 -1.5zM249.8 195.1l1.5 1.5l-1.5 1.5l-1.5 -1.5zM250.1 192.3l1.5 1.5l-1.5 1.5l-1.5 -1.5zM249.1 194.8l1.5 1.5l-1.5 1.5l-1.5 -1.5zM248.4 190.2l1.5 1.5l-1.5 1.5l-1.5 -1.5zM249.7 195.5l1.5 1.5l-1.5 1.5l-1.5 -1.5zM248.6 193l1.5 1.5l-1.5 1.5l-1.5 -1.5zM250.2 189.7l1.5 1.5l-1.5 1.5l-1.5 -1.5zM248.6 195.5l1.5 1.5l-1.5 1.5l-1.5 -1.5zM249.5 192.5l1.5 1.5l-1.5 1.5l-1.5 -1.5zM248.9 198.8l1.5 1.5l-1.5 1.5l-1.5 -1.5zM248.9 186.8l1.5 1.5l-1.5 1.5l-1.5 -1.5zM250.1 189.9l1.5 1.5l-1.5 1.5l-1.5 -1.5zM248.9 188.3l1.5 1.5l-1.5 1.5l-1.5 -1.5zM250.7 193.6l1.5 1.5l-1.5 1.5l-1.5 -1.5zM249.1 191.8l1.5 1.5l-1.5 1.5l-1.5 -1.5zM249 193.3l1.5 1.5l-1.5 1.5l-1.5 -1.5zM250.5 196.2l1.5 1.5l-1.5 1.5l-1.5 -1.5zM248.3 195.2l1.5 1.5l-1.5 1.5l-1.5 -1.5zM248.2 191l1.5 1.5l-1.5 1.5l-1.5 -1.5zM250.5 192.3l1.5 1.5l-1.5 1.5l-1.5 -1.5zM186.5 201l1.5 1.5l-1.5 1.5l-1.5 -1.5zM190.3 200.7l1.5 1.5l-1.5 1.5l-1.5 -1.5zM213 196.7l1.5 1.5l-1.5 1.5l-1.5 -1.5zM249.7 171.2l1.5 1.5l-1.5 1.5l-1.5 -1.5zM240.8 168.3l1.5 1.5l-1.5 1.5l-1.5 -1.5zM239.4 202l1.5 1.5l-1.5 1.5l-1.5 -1.5zM231.6 175l1.5 1.5l-1.5 1.5l-1.5 -1.5zM223.8 195.5l1.5 1.5l-1.5 1.5l-1.5 -1.5zM206.9 193.5l1.5 1.5l-1.5 1.5l-1.5 -1.5zM196.4 184.5l1.5 1.5l-1.5 1.5l-1.5 -1.5z" fill="#ee82ee" stroke="#ee82ee" stroke-width="0.3"/>
<path d="M217.5 147.2v2.3M217.7 144.9v1.4M217.8 145.5v1.6M218.4 145.6v3.2M217.9 143.7v1.6M219.4 146.4v2.2M218.2 143.5v2.7M217.9 148.6v1.5M218.6 147.7v3.2M217.3 149.3v1.8M217.1 144v3.3M218.8 145.8v2.3M219.2 147.6v2.6M217.9 143.4v2.6M217.5 146.4v1.6M218.6 142.3v2.4M217.5 147.9v2.9M218.8 146.5v3M217.3 146.1v2.9M217.4 144.9v2.7M219.1 145.8v1.7M217.3 143.8v2.2M217.3 143.8v2.4M217.6 146.6v1.5M219.4 143.8v2.9M217.9 143v1.6M217.9 148.2v2.5M219.5 146.9v2M218.4 145.2v1.8M219.4 147.7v3.3M219 147.6v2.6M218.9 144.8v2.8M219.5 145.3v2.6M217.3 146.5v2.5M217.8 143v3.1M218.8 143.7v1.6M217.1 147.6v2.2M219.4 143.9v1.9M218.2 147.5v2.6M219.1 145.1v2.2M217.1 154.4v3.2M216.4 149.2v1.9M217.4 155.2v2M217.4 154.8v3.2M216.6 153.7v2.8M216.1 156.1v2.3M215.5 153.1v2.2M216.1 152.8v2.8M214 151.8v1.7M217.3 152.5v2.8M214.4 153.6v1.9M217.6 152.5v3M214.4 152.1v1.6M217.2 151.1v3.2M214.4 150.5v3.1M215.4 153.2v1.5M215.5 152.9v1.7M214.1 153.2v3.2M217.4 152.5v3M217 152.8v2M216.5 151.7v3M215.7 151.4v2.6M215.8 152.8v1.9M216.9 154.9v2.8M215.5 155.3v2.2M214.9 153.3v1.7M216.3 154.1v3.1M216 153.9v2.8M215.8 151.4v1.9M217.6 153v2.3M215.1 152.9v2.8M215.1 154.2v2.2M214 154.3v1.9M217.3 149.2v2.5M216.5 152.4v3.3M216.6 153v1.6M216.6 151.2v1.9M214.7 150.6v2.4M216.8 151.3v3.3M214.5 150.5v3.3M216.9 155.8v1.5M217.5 153.6v2.7M214.3 154v1.7M216.6 152.7v1.8M216.8 150.4v1.7M215.8 148.9v2.4M216.3 150.4v3.3M216.3 150.2v3.3M216.7 151.6v2.1M216 153.4v3.2M215.5 153.8v2.8M215.5 151.4v1.6M215.3 151.6v3.2M215.5 149.5v2M214.2 155.8v3.3M225.8 147.3v1.7M225.4 146.9v3.2M224.9 151.9v2.4M225.4 145v2.4M225.8 148.6v1.8M226.6 149.1v2.4M226.5 148.4v2.9M226.2 150.2v2.5M226.4 146.3v3.3M225.3 148.7v2.5M226.4 150.8v3.2M225.1 145.9v1.7M226 151.6v2.9M225.8 148.2v2.6M225.2 151v3.1M225 149.9v2.1M226.4 147.5v2.3M226.6 146.2v3M226.7 148v1.9M226 148.3v2.2M225.7 148.2v3.1M226.3 152.5v2.7M225.1 148.7v2.4M226 151v1.5M225.5 144.8v2.9M225.2 149.8v2.2M226.3 146.7v1.9M226.7 152.4v2.2M225.5 148v1.7M225.7 147.6v3.1M226.1 147.3v3M225 146.8v3.3M229.8 148.8v2.7M230.1 149.3v1.7M229.7 149.4v2.3M230.6 149v3.4M229.5 150v1.4M230.8 150.1v2.1M229.5 150v1.7M229.6 150.1v1.8M229.8 149.3v2M229.9 149.8v2.6M230.1 149.4v1.6M230.8 149.6v3.1M232.3 154.6v2.3M230.2 157.1v1.8M229.8 160v1.6M230.1 159.9v2.4M231.3 156.1v2.1M229.5 157.9v2.4M229.4 156.6v1.6M230.8 160.2v2.1M228.8 157.6v2.4M229 156.6v1.6M229.7 158v2.4M230.8 160.7v3.1M230 157.1v2.6M229.8 159v1.7M230 157.8v2.7M231.3 155.4v1.6M232 157.2v1.7M229 157.8v1.5M229.4 157.5v2.5M231.8 160v1.8M230.9 157v2M232.3 158.1v1.7M231.5 157.2v3.2M232.3 157.9v1.7M229.7 157.6v2.7M231.2 157.1v3M230.1 158.3v2.3M229.2 156.8v2.6M229.5 159.3v2.1M231.1 154.3v3M231.3 157.6v2.8M229.1 159.7v1.6M232.3 159.3v2.8M230.1 158.1v1.7M229.5 154v2.4M229.7 159.2v1.8M229.4 155.9v2.4M230.6 155.7v2.7M229.4 157.9v2.8M229.4 157.1v2.1M229.7 155.7v1.5M230.8 157.7v2.3M229.3 167.7v3.2M229.6 170.1v2.5" stroke="#1e90ff" stroke-width="0.5" fill="none"/><path d="M217.5 148.3h0M217.7 145.6h0M217.8 146.3h0M218.4 147.2h0M217.9 144.5h0M219.4 147.5h0M218.2 144.9h0M217.9 149.3h0M218.6 149.3h0M217.3 150.2h0M217.1 145.7h0M218.8 146.9h0M219.2 148.9h0M217.9 144.7h0M217.5 147.3h0M218.6 143.5h0M217.5 149.3h0M218.8 148h0M217.3 147.6h0M217.4 146.3h0M219.1 146.7h0M217.3 144.9h0M217.3 145h0M217.6 147.4h0M219.4 145.2h0M217.9 143.9h0M217.9 149.5h0M219.5 147.9h0M218.4 146.1h0M219.4 149.4h0M219 148.9h0M218.9 146.2h0M219.5 146.6h0M217.3 147.8h0M217.8 144.6h0M218.8 144.5h0M217.1 148.6h0M219.4 144.9h0M218.2 148.8h0M219.1 146.2h0M217.1 156h0M216.4 150.1h0M217.4 156.2h0M217.4 156.4h0M216.6 155.1h0M216.1 157.2h0M215.5 154.2h0M216.1 154.2h0M214 152.7h0M217.3 153.9h0M214.4 154.6h0M217.6 154h0M214.4 152.8h0M217.2 152.7h0M214.4 152h0M215.4 153.9h0M215.5 153.8h0M214.1 154.8h0M217.4 154h0M217 153.8h0M216.5 153.2h0M215.7 152.7h0M215.8 153.7h0M216.9 156.2h0M215.5 156.5h0M214.9 154.1h0M216.3 155.6h0M216 155.3h0M215.8 152.3h0M217.6 154.1h0M215.1 154.2h0M215.1 155.3h0M214 155.3h0M217.3 150.4h0M216.5 154h0M216.6 153.8h0M216.6 152.2h0M214.7 151.8h0M216.8 152.9h0M214.5 152.2h0M216.9 156.5h0M217.5 154.9h0M214.3 154.9h0M216.6 153.6h0M216.8 151.2h0M215.8 150.1h0M216.3 152.1h0M216.3 151.9h0M216.7 152.6h0M216 154.9h0M215.5 155.2h0M215.5 152.2h0M215.3 153.2h0M215.5 150.5h0M214.2 157.5h0M225.8 148.2h0M225.4 148.5h0M224.9 153.1h0M225.4 146.2h0M225.8 149.5h0M226.6 150.3h0M226.5 149.8h0M226.2 151.5h0M226.4 147.9h0M225.3 149.9h0M226.4 152.3h0M225.1 146.8h0M226 153h0M225.8 149.5h0M225.2 152.6h0M225 150.9h0M226.4 148.7h0M226.6 147.7h0M226.7 148.9h0M226 149.3h0M225.7 149.7h0M226.3 153.8h0M225.1 149.9h0M226 151.7h0M225.5 146.2h0M225.2 150.9h0M226.3 147.7h0M226.7 153.5h0M225.5 148.8h0M225.7 149.1h0M226.1 148.8h0M225 148.5h0M229.8 150.2h0M230.1 150.2h0M229.7 150.5h0M230.6 150.6h0M229.5 150.8h0M230.8 151.2h0M229.5 150.9h0M229.6 150.9h0M229.8 150.3h0M229.9 151.1h0M230.1 150.2h0M230.8 151.2h0M232.3 155.7h0M230.2 158h0M229.8 160.8h0M230.1 161.1h0M231.3 157.2h0M229.5 159.1h0M229.4 157.4h0M230.8 161.3h0M228.8 158.8h0M229 157.4h0M229.7 159.2h0M230.8 162.2h0M230 158.3h0M229.8 159.8h0M230 159.1h0M231.3 156.2h0M232 158h0M229 158.5h0M229.4 158.7h0M231.8 160.9h0M230.9 158h0M232.3 158.9h0M231.5 158.8h0M232.3 158.8h0M229.7 158.9h0M231.2 158.6h0M230.1 159.5h0M229.2 158.1h0M229.5 160.3h0M231.1 155.8h0M231.3 159h0M229.1 160.5h0M232.3 160.7h0M230.1 159h0M229.5 155.2h0M229.7 160h0M229.4 157h0M230.6 157h0M229.4 159.3h0M229.4 158.2h0M229.7 156.5h0M230.8 158.9h0M229.3 169.3h0M229.6 171.3h0" stroke="#1e90ff" stroke-width="2.6" stroke-linecap="round" fill="none"/>
<path d="M181.2 251.4v6.6M181.2 249.7v7.3M181.2 244v6.7M181.2 244.8v8.2M181.2 253.6v8.2M181.2 244.7v7.1M181.3 252v7.5M181.2 246.9v4.3M181.3 251.5v4.9M181.2 251.8v7M181.2 254.8v6.4M181.3 254.9v7.7M181.3 245.8v7.3M192.2 240.3v5.2M192.3 237.3v4.4M192.1 231.2v6.8M191.6 239.6v4.1M190.7 238.5v6M192.3 235v4.9M191.6 240.3v5.5M190.7 234.4v6.7M192.1 229.5v6.6M192.3 234.9v6.6M192 239.1v3.9M191.9 233v7.9M190.8 238.7v7M192.2 228.5v8M191.2 238.3v6.5M191.1 230.5v6.7M192.3 234.6v7.9M191.2 235v7.2M192.2 232.2v6.6M192 234v3.8M191 236.8v3.7M192.3 236.6v7M190.7 232.7v7.7M190.9 238.1v5.5M192.1 236.6v4.6M191.6 232.5v5.7M191.3 234.5v7.6M191.6 242.9v7.2M188.7 257.8v4.2M189.1 243.9v4.6M187.3 235.2v4.6M187.2 247.7v7.2M187.6 259.7v4.8M188.4 247.9v7.9M188.4 244.6v5.6M189.3 249.3v4.5M188.3 241.4v5.6M187.8 259.9v4.3M188.8 244.9v7.8M187.9 247.8v3.7M189 241.2v5.6M188 255.6v5.4M188.2 242.1v3.8M188.5 251.9v4.7M189.4 239.5v8.3M187.2 255.1v7.7M188.3 241.8v5.6M189.2 251.6v7.8M188.8 252.8v8M189.1 235.2v7.7M188.7 260.8v7.1M187.3 249v6.3M188.5 250.3v6.1M187.9 246.5v7M187.4 254.4v6.5M189.3 252.1v8.3M193.8 250.5v4.5M194.2 262.1v7.9M194.1 253.6v7.2M193.6 257.9v5.7M193.7 256.8v7.7M193.9 264.9v5M194.2 255.1v5.5M193.7 254.5v6.4M193.8 254.6v8.3M193.6 251.2v4.8M194 255v7.7M193.9 252.5v6.8M194 253.2v8M194 255.8v5M193.9 249.9v6.8M193.8 259v7.9M205.7 237.4v7.8M205.5 239.4v7M200.7 228.9v7.6M201.4 236v6.6M200.3 223.6v6.3M199.5 232.5v4.5M203.7 243.6v6.1M200.3 238.7v8.3M205.9 229.9v8.1M201.8 237.9v3.8M206.3 240.2v5.1M203.6 240.4v4.7M203.3 235.8v7.6M204.6 251.2v4.5M200.2 234.1v7.3M202.1 247.7v4.5M206.2 236.1v5.2M201.3 249.2v8.3M201.3 241.3v4.2M203.4 232.8v6.4M206 243.4v4.9M206.1 239v7.2M205.2 234.3v3.9M199.6 222.6v6.8M201.3 246.5v4.8M202.1 233v8.2M204.5 235.9v5.2M204.1 250.6v6.8M200 245.8v3.7M204.4 234.8v8.1M200 238.9v6.6M206.5 236.9v8M205.1 229.4v7.2M206.3 244.3v3.9M201.4 233.5v7.2M203.1 250.1v5.4M204.2 237.6v4.6M205.4 228.4v7.9M205.4 241v6.8M200.9 238.5v5.3M203.3 238.7v3.9M203.5 247.7v6.7M202.6 252.1v3.9M200.8 229.9v4.7M202.5 244.7v3.8M199.5 245.4v4.4M200.4 241.9v7.2M201.3 243.1v4.9M205.7 222.5v8.3M200.7 249v4.9M203.7 238.3v7.4M202.1 245.1v7.1M201.2 238v6.7M203.6 243.1v6.5M200 236.4v4.3M204.4 241v7.6M202.6 240.8v8M206.4 232.8v6.1M202.8 244.9v4.5M200.6 229.2v4M201.8 244.9v4.8M205.1 237.3v8.3M203.9 241.8v5.1M202.7 242.1v4.9M204.7 236v6.1M204.2 236.9v3.8M203.8 240.5v7.4M204.5 220.4v7.3M204.5 221v5.1M204.5 220.4v3.7M204.5 219.9v7.9M204.5 220.7v7.5M204.5 222.2v7.3M204.5 222.9v4.6M202.3 254v8.2M203 252.5v6.7M202 253.4v3.8M204 252.2v8.3M202.4 252.8v7M203.2 250.5v4.5M203 248.8v7.9M201 252.4v6.5M202.3 252.8v6.7M201.1 251.5v3.7M201.6 253.3v4.6M215.3 230.2v7.4M214.6 232.5v3.7M218.5 236.9v4.5M215 236.8v3.9M219.3 231v6.4M214.9 236.6v4.3M217.2 233.4v7.4M218.5 230.1v5.8M215.6 229.4v7.4M215.9 233.2v8M220.1 242v8.3M218.2 227.5v4.5M217.9 233.7v5.3M218.9 232.7v7.4M217.7 230v5.2M214.6 231.4v8.1M219.6 232.3v5.2M215.2 235.1v6.6M215.3 245.7v4.8M219.5 238.1v7.1M218.8 238.1v5M213.4 235.1v5.6M218.1 235.1v7.1M218.6 223v7.6M213.5 238v4.3M219 233.4v4.4M218.9 229.3v4.6M219.1 231.4v7.3M213.5 234.3v6.8M220.1 233.3v7M215.8 235.7v7.5M217 225v4.7M220.1 235.4v6M219.9 225v3.6M213.2 234.8v5.3M215.1 231.8v6.5M215.2 238v4.8M215.9 234.2v7.4M213.6 241.6v4.6M217.9 232.5v5.7M216.6 234.2v6.9M215.7 231.3v4.7M218.3 228.7v6.8M215 226.5v5.5M219 232.9v3.8M215.7 229.5v4.1M216.9 235.3v6.7M215 236v7.5M213.5 242.2v6.9M218.2 233.9v7.7M217.3 235v6.8M218.9 239.5v7.3M217.3 233.2v7.6M215.6 241.7v6.5M214.6 241.8v6.2M217.4 242v4.4M219.7 235.5v4.7M216.5 238.8v4M213 233.1v4.1M216.3 240.9v5.5M219.5 226.8v5M217 229.9v6.3M218.6 231.3v7.6M220.1 234.2v4.9M218.6 233v7.9M214.3 236.6v7.6M217.6 234.2v4.5M218.5 223.4v6.4M218.5 225v4.5M218.5 224.7v3.9M218.5 223.5v4.7M218.5 224.7v4.6M218.5 225.6v3.6M213.5 245.4v3.7M213.5 248.4v7.5M213.5 250.7v7.8M213.5 244.7v7.7M213.5 249.5v4M213.5 246.9v3.7M213.5 244.5v7.7M213.5 247.3v5.4M213.5 249.5v5.3M213.5 250.3v7M225.8 214.2v6.1M225.7 237.3v5.2M226.1 218.2v4.3M225.8 233.1v4.2M225.9 224.4v7M226 227.8v7.9M225.7 236.9v3.8M226.1 230.7v4.7M225.8 231v6.1M226 222.2v4.9M226.1 221.1v5.9M226.1 230.7v6M225.7 237.8v4.9M225.7 230.3v4.2M225.8 229.5v5.6M226.1 225.5v7.5M225.7 225.8v4.3M226 225.6v6.2M229.5 250.9v7.5M231.4 252.8v6.3M230.7 260.7v5.3M230.2 256.6v8.1M230.4 250.4v7.4M230.8 260.5v8.4M231.4 242.9v5M230.8 251.6v5.9M231.9 244.4v5.8M231.9 251.3v7.6M230.8 249.1v6.6M230.5 253.9v6.2M229.9 261.4v6.1M231.2 246.1v7.9M231.2 253.5v5.3M231.3 263.6v4.2M231.5 251.8v4.4M230 249.7v4.8M231.8 247.3v4.1M230.5 251v8.3M230.6 253.8v6.3M230.7 251.5v7.4M230.6 255.5v5.8M229.5 254.7v6.1M230.2 258.4v4.7M230.7 246.9v7.9M229.7 251.1v5.6M229.3 242.2v5.5M230.1 246.4v7.2M230.2 247.9v7.8M230.6 260v8.4M231.4 255.3v5.9M229.9 252.3v5.6M230.3 247.5v7.6M231.9 255.2v5.6M230.5 243.6v4.6M231 246.7v5.9M230.9 255.9v5.1M229.4 248.3v4.8M231.9 244.2v7.3M229.5 250.8v5.3M231.3 246.9v6.6M230.1 258.3v5.1M231.8 249.9v4.1M231.2 236.7v7.3M231.5 238v7.3M231.4 236.9v7M231 232.5v6.5M231.4 239.2v4.4M231.4 240.9v6M231.2 239.7v7.6M239.9 245.9v7.4M240.1 250v6.4M236.9 251.3v6.6M240.6 257.7v4.4M242.6 249v3.9M239.9 252.1v7.7M237.4 245.5v3.7M241.7 256.4v4.8M240.2 236.5v5.5M243.3 235.6v7M240.8 256.8v6.9M237.8 249.6v7.8M238.3 251.3v8.1M240.7 251.8v4.9M239.8 244v4.8M241.6 245.3v4.2M240.4 241.9v5.2M243.2 256.7v4.1M243.1 245.4v8.2M239.3 247.1v6.4M239.7 246.6v6M242.9 255.7v3.9M237.6 232.9v8M242.8 243.6v4.8M239.8 252.1v7.3M240.2 251.4v4.6M242.1 246v4.9M243.5 250.5v4.3M236.7 241.9v6.2M241.9 242.1v5M239.6 251.3v6.3M242.7 241v7M238.2 250.4v4.7M237.1 246.8v4.2M239.3 253.5v6.1M241.6 242.8v5.5M236.8 236.5v5.7M237.3 244.9v5.4M240.7 240.6v4.4M242.4 246.2v4.2M241.4 245.6v7.1M237 246.6v6.6M238.4 235.7v6.9M243.4 232.1v6.7M242.7 251.7v6.1M241.9 252.3v4.5M239.9 254.7v8M237.4 245.4v6.2M238.1 253.3v5.8M241 251.8v4.9M242.6 244.7v5.4M243.4 243.5v8.3M238.4 246.5v5.5M237.4 257.1v7.5M242.2 251v4.2M240.9 239.6v6.5M236.6 237.7v4.9M242 238.4v4.7M240.2 250.2v5.1M241.2 247.6v5.5M237.2 248.7v6.7M242.2 246.7v5.6M240.4 234.4v7.7M240.7 258.3v4.3M238.3 234.5v7.7M239.2 242.6v5.7M239.6 234.3v7.4M241.1 235.7v5.5M237.9 242.2v4.8M239.9 243v7.9M241.6 251.1v6.7M238.8 248.1v7.1M237 231v6.1M237 232.2v7M237 230.8v8.2M237 233.7v7.2M237 229.7v8.3M237 234.1v5.3M237 231.1v5M250.1 247.6v7.8M250.4 243.2v7.6M250.6 247.1v7.9M250.4 248.3v5.7M250.2 244.5v5.6M217.9 198.9v8.1" stroke="#a8d88a" stroke-width="0.65" fill="none"/><path d="M181.2 254.7h0M181.2 253.3h0M181.2 247.3h0M181.2 248.9h0M181.2 257.7h0M181.2 248.3h0M181.3 255.8h0M181.2 249h0M181.3 253.9h0M181.2 255.3h0M181.2 258h0M181.3 258.8h0M181.3 249.4h0M192.2 242.9h0M192.3 239.5h0M192.1 234.6h0M191.6 241.7h0M190.7 241.5h0M192.3 237.4h0M191.6 243.1h0M190.7 237.8h0M192.1 232.8h0M192.3 238.2h0M192 241.1h0M191.9 237h0M190.8 242.1h0M192.2 232.5h0M191.2 241.6h0M191.1 233.8h0M192.3 238.6h0M191.2 238.6h0M192.2 235.5h0M192 235.9h0M191 238.7h0M192.3 240.1h0M190.7 236.5h0M190.9 240.8h0M192.1 238.9h0M191.6 235.3h0M191.3 238.4h0M191.6 246.5h0M188.7 259.9h0M189.1 246.2h0M187.3 237.5h0M187.2 251.2h0M187.6 262.1h0M188.4 251.8h0M188.4 247.3h0M189.3 251.6h0M188.3 244.2h0M187.8 262h0M188.8 248.8h0M187.9 249.6h0M189 244h0M188 258.4h0M188.2 244h0M188.5 254.3h0M189.4 243.6h0M187.2 258.9h0M188.3 244.7h0M189.2 255.5h0M188.8 256.8h0M189.1 239.1h0M188.7 264.4h0M187.3 252.2h0M188.5 253.4h0M187.9 250h0M187.4 257.6h0M189.3 256.3h0M193.8 252.7h0M194.2 266.1h0M194.1 257.2h0M193.6 260.7h0M193.7 260.6h0M193.9 267.4h0M194.2 257.9h0M193.7 257.7h0M193.8 258.7h0M193.6 253.6h0M194 258.8h0M193.9 255.8h0M194 257.2h0M194 258.3h0M193.9 253.3h0M193.8 262.9h0M205.7 241.3h0M205.5 242.8h0M200.7 232.7h0M201.4 239.3h0M200.3 226.7h0M199.5 234.8h0M203.7 246.7h0M200.3 242.9h0M205.9 234h0M201.8 239.8h0M206.3 242.7h0M203.6 242.8h0M203.3 239.6h0M204.6 253.4h0M200.2 237.7h0M202.1 250h0M206.2 238.7h0M201.3 253.4h0M201.3 243.4h0M203.4 236h0M206 245.9h0M206.1 242.6h0M205.2 236.3h0M199.6 226h0M201.3 248.9h0M202.1 237.1h0M204.5 238.5h0M204.1 254h0M200 247.7h0M204.4 238.8h0M200 242.2h0M206.5 240.9h0M205.1 233h0M206.3 246.3h0M201.4 237.1h0M203.1 252.9h0M204.2 239.9h0M205.4 232.4h0M205.4 244.4h0M200.9 241.2h0M203.3 240.6h0M203.5 251.1h0M202.6 254.1h0M200.8 232.3h0M202.5 246.6h0M199.5 247.6h0M200.4 245.5h0M201.3 245.5h0M205.7 226.7h0M200.7 251.4h0M203.7 242h0M202.1 248.7h0M201.2 241.4h0M203.6 246.3h0M200 238.5h0M204.4 244.8h0M202.6 244.8h0M206.4 235.9h0M202.8 247.2h0M200.6 231.2h0M201.8 247.3h0M205.1 241.4h0M203.9 244.4h0M202.7 244.6h0M204.7 239h0M204.2 238.8h0M203.8 244.2h0M204.5 224.1h0M204.5 223.5h0M204.5 222.3h0M204.5 223.8h0M204.5 224.5h0M204.5 225.9h0M204.5 225.2h0M202.3 258.1h0M203 255.9h0M202 255.3h0M204 256.3h0M202.4 256.3h0M203.2 252.8h0M203 252.8h0M201 255.6h0M202.3 256.1h0M201.1 253.4h0M201.6 255.6h0M215.3 233.9h0M214.6 234.4h0M218.5 239.1h0M215 238.8h0M219.3 234.2h0M214.9 238.7h0M217.2 237.1h0M218.5 232.9h0M215.6 233.1h0M215.9 237.2h0M220.1 246.1h0M218.2 229.7h0M217.9 236.3h0M218.9 236.4h0M217.7 232.6h0M214.6 235.5h0M219.6 234.9h0M215.2 238.5h0M215.3 248.1h0M219.5 241.6h0M218.8 240.6h0M213.4 237.9h0M218.1 238.6h0M218.6 226.8h0M213.5 240.1h0M219 235.6h0M218.9 231.6h0M219.1 235.1h0M213.5 237.7h0M220.1 236.8h0M215.8 239.4h0M217 227.3h0M220.1 238.4h0M219.9 226.8h0M213.2 237.5h0M215.1 235h0M215.2 240.5h0M215.9 237.9h0M213.6 243.9h0M217.9 235.4h0M216.6 237.6h0M215.7 233.6h0M218.3 232.1h0M215 229.2h0M219 234.9h0M215.7 231.6h0M216.9 238.7h0M215 239.8h0M213.5 245.7h0M218.2 237.8h0M217.3 238.4h0M218.9 243.2h0M217.3 237h0M215.6 244.9h0M214.6 244.9h0M217.4 244.2h0M219.7 237.9h0M216.5 240.8h0M213 235.2h0M216.3 243.6h0M219.5 229.3h0M217 233h0M218.6 235.1h0M220.1 236.6h0M218.6 237h0M214.3 240.4h0M217.6 236.4h0M218.5 226.6h0M218.5 227.3h0M218.5 226.6h0M218.5 225.9h0M218.5 227h0M218.5 227.4h0M213.5 247.3h0M213.5 252.1h0M213.5 254.5h0M213.5 248.6h0M213.5 251.5h0M213.5 248.7h0M213.5 248.3h0M213.5 250h0M213.5 252.1h0M213.5 253.7h0M225.8 217.3h0M225.7 239.9h0M226.1 220.3h0M225.8 235.2h0M225.9 227.9h0M226 231.7h0M225.7 238.8h0M226.1 233h0M225.8 234h0M226 224.6h0M226.1 224.1h0M226.1 233.7h0M225.7 240.2h0M225.7 232.3h0M225.8 232.3h0M226.1 229.2h0M225.7 227.9h0M226 228.6h0M229.5 254.7h0M231.4 255.9h0M230.7 263.3h0M230.2 260.6h0M230.4 254.1h0M230.8 264.7h0M231.4 245.5h0M230.8 254.5h0M231.9 247.3h0M231.9 255.1h0M230.8 252.3h0M230.5 257h0M229.9 264.4h0M231.2 250.1h0M231.2 256.2h0M231.3 265.8h0M231.5 254.1h0M230 252.1h0M231.8 249.4h0M230.5 255.2h0M230.6 257h0M230.7 255.2h0M230.6 258.4h0M229.5 257.7h0M230.2 260.7h0M230.7 250.8h0M229.7 253.9h0M229.3 245h0M230.1 250h0M230.2 251.8h0M230.6 264.2h0M231.4 258.3h0M229.9 255.1h0M230.3 251.3h0M231.9 258h0M230.5 245.9h0M231 249.6h0M230.9 258.4h0M229.4 250.7h0M231.9 247.9h0M229.5 253.4h0M231.3 250.2h0M230.1 260.8h0M231.8 252h0M231.2 240.4h0M231.5 241.6h0M231.4 240.4h0M231 235.8h0M231.4 241.4h0M231.4 243.9h0M231.2 243.5h0M239.9 249.6h0M240.1 253.3h0M236.9 254.6h0M240.6 259.9h0M242.6 250.9h0M239.9 255.9h0M237.4 247.3h0M241.7 258.8h0M240.2 239.3h0M243.3 239.1h0M240.8 260.3h0M237.8 253.5h0M238.3 255.4h0M240.7 254.3h0M239.8 246.4h0M241.6 247.3h0M240.4 244.5h0M243.2 258.8h0M243.1 249.5h0M239.3 250.3h0M239.7 249.6h0M242.9 257.7h0M237.6 236.9h0M242.8 246h0M239.8 255.8h0M240.2 253.7h0M242.1 248.4h0M243.5 252.7h0M236.7 245h0M241.9 244.6h0M239.6 254.5h0M242.7 244.5h0M238.2 252.8h0M237.1 248.9h0M239.3 256.6h0M241.6 245.6h0M236.8 239.4h0M237.3 247.6h0M240.7 242.8h0M242.4 248.3h0M241.4 249.2h0M237 249.9h0M238.4 239.1h0M243.4 235.4h0M242.7 254.8h0M241.9 254.6h0M239.9 258.7h0M237.4 248.5h0M238.1 256.2h0M241 254.3h0M242.6 247.4h0M243.4 247.7h0M238.4 249.2h0M237.4 260.8h0M242.2 253.1h0M240.9 242.8h0M236.6 240.1h0M242 240.8h0M240.2 252.7h0M241.2 250.4h0M237.2 252.1h0M242.2 249.4h0M240.4 238.3h0M240.7 260.5h0M238.3 238.4h0M239.2 245.5h0M239.6 238h0M241.1 238.5h0M237.9 244.6h0M239.9 246.9h0M241.6 254.5h0M238.8 251.6h0M237 234h0M237 235.7h0M237 234.9h0M237 237.3h0M237 233.8h0M237 236.7h0M237 233.6h0M250.1 251.5h0M250.4 247h0M250.6 251.1h0M250.4 251.1h0M250.2 247.3h0M217.9 203h0" stroke="#a8d88a" stroke-width="2.3" stroke-linecap="round" fill="none"/>
</g>
<path d="M48 167.8H257.2" stroke="#1e90ff" stroke-width="1.1" stroke-dasharray="1.2 1.9" fill="none"/>
<path d="M48 201.6H257.2" stroke="#ee82ee" stroke-width="1.1" stroke-dasharray="1.2 1.9" fill="none"/>
<path d="M48 277.2H257.2" stroke="#a8d88a" stroke-width="1.1" stroke-dasharray="1.2 1.9" fill="none"/>
<circle cx="81.8" cy="323.6" r="2.9" fill="none" stroke="#a020f0" stroke-width="0.9"/>
<path d="M81.8 322.1v3" stroke="#a020f0" stroke-width="0.8"/>
<circle cx="88.5" cy="329.5" r="2.9" fill="none" stroke="#a020f0" stroke-width="0.9"/>
<path d="M88.5 328v3" stroke="#a020f0" stroke-width="0.8"/>
<circle cx="131.8" cy="319.7" r="2.9" fill="none" stroke="#a020f0" stroke-width="0.9"/>
<path d="M131.8 318.2v3" stroke="#a020f0" stroke-width="0.8"/>
<circle cx="138.4" cy="318.8" r="2.9" fill="none" stroke="#a020f0" stroke-width="0.9"/>
<path d="M138.4 317.3v3" stroke="#a020f0" stroke-width="0.8"/>
<circle cx="144.2" cy="319" r="2.9" fill="none" stroke="#a020f0" stroke-width="0.9"/>
<path d="M144.2 315.4v7.2" stroke="#a020f0" stroke-width="0.8"/>
<circle cx="151" cy="309.8" r="2.9" fill="none" stroke="#a020f0" stroke-width="0.9"/>
<path d="M151 308.3v3" stroke="#a020f0" stroke-width="0.8"/>
<circle cx="156.7" cy="310.5" r="2.9" fill="none" stroke="#a020f0" stroke-width="0.9"/>
<path d="M156.7 309v3" stroke="#a020f0" stroke-width="0.8"/>
<circle cx="163.2" cy="310.9" r="2.9" fill="none" stroke="#a020f0" stroke-width="0.9"/>
<path d="M163.2 309.4v3" stroke="#a020f0" stroke-width="0.8"/>
<circle cx="168.9" cy="304.5" r="2.9" fill="none" stroke="#a020f0" stroke-width="0.9"/>
<path d="M168.9 303v3" stroke="#a020f0" stroke-width="0.8"/>
<circle cx="175.9" cy="305.2" r="2.9" fill="none" stroke="#a020f0" stroke-width="0.9"/>
<path d="M175.9 303.7v3" stroke="#a020f0" stroke-width="0.8"/>
<circle cx="181.3" cy="304.5" r="2.9" fill="none" stroke="#a020f0" stroke-width="0.9"/>
<path d="M181.3 303v3" stroke="#a020f0" stroke-width="0.8"/>
<circle cx="188.3" cy="308.1" r="2.9" fill="none" stroke="#a020f0" stroke-width="0.9"/>
<path d="M188.3 306.6v3" stroke="#a020f0" stroke-width="0.8"/>
<circle cx="193.6" cy="307.4" r="2.9" fill="none" stroke="#a020f0" stroke-width="0.9"/>
<path d="M193.6 305.9v3" stroke="#a020f0" stroke-width="0.8"/>
<circle cx="200.7" cy="302.2" r="2.9" fill="none" stroke="#a020f0" stroke-width="0.9"/>
<path d="M200.7 300.7v3" stroke="#a020f0" stroke-width="0.8"/>
<circle cx="206" cy="301.2" r="2.9" fill="none" stroke="#a020f0" stroke-width="0.9"/>
<path d="M206 299.7v3" stroke="#a020f0" stroke-width="0.8"/>
<circle cx="213.1" cy="294.8" r="2.9" fill="none" stroke="#a020f0" stroke-width="0.9"/>
<path d="M213.1 293.3v3" stroke="#a020f0" stroke-width="0.8"/>
<circle cx="218.4" cy="294.8" r="2.9" fill="none" stroke="#a020f0" stroke-width="0.9"/>
<path d="M218.4 293.3v3" stroke="#a020f0" stroke-width="0.8"/>
<circle cx="225.8" cy="292.5" r="2.9" fill="none" stroke="#a020f0" stroke-width="0.9"/>
<path d="M225.8 291v3" stroke="#a020f0" stroke-width="0.8"/>
<circle cx="231.1" cy="296.4" r="2.9" fill="none" stroke="#a020f0" stroke-width="0.9"/>
<path d="M231.1 294.9v3" stroke="#a020f0" stroke-width="0.8"/>
<circle cx="238.2" cy="301" r="2.9" fill="none" stroke="#a020f0" stroke-width="0.9"/>
<path d="M238.2 299.5v3" stroke="#a020f0" stroke-width="0.8"/>
<circle cx="81.8" cy="344.8" r="3" fill="#c41e1e"/>
<circle cx="88.5" cy="346.6" r="3" fill="#c41e1e"/>
<circle cx="131.8" cy="340.2" r="3" fill="#c41e1e"/>
<circle cx="138.4" cy="339.2" r="3" fill="#c41e1e"/>
<circle cx="144.2" cy="336.5" r="3" fill="#c41e1e"/>
<circle cx="151" cy="334.2" r="3" fill="#c41e1e"/>
<circle cx="156.7" cy="334.8" r="3" fill="#c41e1e"/>
<circle cx="163.2" cy="332.5" r="3" fill="#c41e1e"/>
<circle cx="168.9" cy="333.7" r="3" fill="#c41e1e"/>
<circle cx="175.9" cy="331" r="3" fill="#c41e1e"/>
<circle cx="181.3" cy="331.9" r="3" fill="#c41e1e"/>
<circle cx="188.3" cy="332.5" r="3" fill="#c41e1e"/>
<circle cx="193.6" cy="331.8" r="3" fill="#c41e1e"/>
<circle cx="200.7" cy="330.5" r="3" fill="#c41e1e"/>
<circle cx="206" cy="328.9" r="3" fill="#c41e1e"/>
<circle cx="213.1" cy="324.9" r="3" fill="#c41e1e"/>
<circle cx="218.4" cy="323.4" r="3" fill="#c41e1e"/>
<circle cx="225.8" cy="321" r="3" fill="#c41e1e"/>
<circle cx="231.1" cy="328.4" r="3" fill="#c41e1e"/>
<circle cx="238.2" cy="329.1" r="3" fill="#c41e1e"/>
<rect x="53" y="226.2" width="47.8" height="48.1" fill="#fff" stroke="#222" stroke-width="0.8"/>
<circle cx="60.7" cy="231.7" r="1.2" fill="#a8d88a"/>
<text x="66.8" y="234.1" font-size="8">ZTF g</text>
<path d="M60.7 239.5l1.7 1.7l-1.7 1.7l-1.7 -1.7z" fill="none" stroke="#ee82ee" stroke-width="0.7"/>
<text x="66.8" y="243.6" font-size="8">ZTF r</text>
<circle cx="60.7" cy="250.3" r="1.2" fill="#1e90ff"/>
<text x="66.8" y="252.7" font-size="8">ZTF i</text>
<circle cx="60.7" cy="259.8" r="1.0" fill="#ffb6c1"/>
<text x="66.8" y="262.2" font-size="8">ATLAS c</text>
<circle cx="60.7" cy="269.3" r="1.0" fill="#87ceeb"/>
<text x="66.8" y="271.7" font-size="8">ATLAS o</text>
<rect x="53.3" y="284.2" width="22.6" height="16.3" fill="#fff" stroke="#222" stroke-width="0.8"/>
<circle cx="59.5" cy="288.3" r="2.7" fill="none" stroke="#a020f0" stroke-width="0.8"/>
<circle cx="59.5" cy="295.9" r="2.9" fill="#c41e1e"/>
<text x="64.6" y="290.7" font-size="6.1">W2</text>
<text x="64.6" y="298.3" font-size="6.1">W1</text>
<g stroke="#000" fill="none" stroke-width="1.1">
<rect x="48" y="121.7" width="209.2" height="237.2"/>
<path d="M48 279.6H257.2"/>
</g>
<g stroke="#000" fill="none" stroke-width="0.9">
<path d="M51.7 121.7v3.2M76.7 121.7v3.2M101.6 121.7v3.2M126.6 121.7v3.2M151.5 121.7v3.2M176.5 121.7v3.2M201.5 121.7v3.2M226.4 121.7v3.2M251.4 121.7v3.2"/>
<path d="M71.4 276.4v4.8M105.5 276.4v4.8M139.5 276.4v4.8M173.6 276.4v4.8M207.6 276.4v4.8M241.6 276.4v4.8"/>
<path d="M51 278v2.4M54.4 278v2.4M57.8 278v2.4M61.2 278v2.4M64.6 278v2.4M68 278v2.4M74.8 278v2.4M78.2 278v2.4M81.6 278v2.4M85 278v2.4M88.4 278v2.4M91.8 278v2.4M95.2 278v2.4M98.6 278v2.4M102 278v2.4M108.9 278v2.4M112.3 278v2.4M115.7 278v2.4M119.1 278v2.4M122.5 278v2.4M125.9 278v2.4M129.3 278v2.4M132.7 278v2.4M136.1 278v2.4M142.9 278v2.4M146.3 278v2.4M149.7 278v2.4M153.1 278v2.4M156.5 278v2.4M159.9 278v2.4M163.3 278v2.4M166.7 278v2.4M170.1 278v2.4M177 278v2.4M180.4 278v2.4M183.8 278v2.4M187.2 278v2.4M190.6 278v2.4M194 278v2.4M197.4 278v2.4M200.8 278v2.4M204.2 278v2.4M211 278v2.4M214.4 278v2.4M217.8 278v2.4M221.2 278v2.4M224.6 278v2.4M228 278v2.4M231.4 278v2.4M234.8 278v2.4M238.2 278v2.4M245.1 278v2.4M248.5 278v2.4M251.9 278v2.4M255.3 278v2.4"/>
<path d="M71.4 358.9v-1.8M105.5 358.9v-1.8M139.5 358.9v-1.8M173.6 358.9v-1.8M207.6 358.9v-1.8M241.6 358.9v-1.8"/>
<path d="M51 358.9v-1M54.4 358.9v-1M57.8 358.9v-1M61.2 358.9v-1M64.6 358.9v-1M68 358.9v-1M74.8 358.9v-1M78.2 358.9v-1M81.6 358.9v-1M85 358.9v-1M88.4 358.9v-1M91.8 358.9v-1M95.2 358.9v-1M98.6 358.9v-1M102 358.9v-1M108.9 358.9v-1M112.3 358.9v-1M115.7 358.9v-1M119.1 358.9v-1M122.5 358.9v-1M125.9 358.9v-1M129.3 358.9v-1M132.7 358.9v-1M136.1 358.9v-1M142.9 358.9v-1M146.3 358.9v-1M149.7 358.9v-1M153.1 358.9v-1M156.5 358.9v-1M159.9 358.9v-1M163.3 358.9v-1M166.7 358.9v-1M170.1 358.9v-1M177 358.9v-1M180.4 358.9v-1M183.8 358.9v-1M187.2 358.9v-1M190.6 358.9v-1M194 358.9v-1M197.4 358.9v-1M200.8 358.9v-1M204.2 358.9v-1M211 358.9v-1M214.4 358.9v-1M217.8 358.9v-1M221.2 358.9v-1M224.6 358.9v-1M228 358.9v-1M231.4 358.9v-1M234.8 358.9v-1M238.2 358.9v-1M245.1 358.9v-1M248.5 358.9v-1M251.9 358.9v-1M255.3 358.9v-1"/>
<path d="M48 122.2h4M48 154.9h4M48 187.6h4M48 220.2h4M48 252.9h4"/>
<path d="M48 128.7h2M48 135.3h2M48 141.8h2M48 148.3h2M48 161.4h2M48 167.9h2M48 174.5h2M48 181h2M48 194.1h2M48 200.6h2M48 207.2h2M48 213.7h2M48 226.8h2M48 233.3h2M48 239.8h2M48 246.4h2M48 259.4h2M48 266h2M48 272.5h2"/>
<path d="M257.2 122.2h-4M257.2 154.9h-4M257.2 187.6h-4M257.2 220.2h-4M257.2 252.9h-4"/>
<path d="M257.2 128.7h-2M257.2 135.3h-2M257.2 141.8h-2M257.2 148.3h-2M257.2 161.4h-2M257.2 167.9h-2M257.2 174.5h-2M257.2 181h-2M257.2 194.1h-2M257.2 200.6h-2M257.2 207.2h-2M257.2 213.7h-2M257.2 226.8h-2M257.2 233.3h-2M257.2 239.8h-2M257.2 246.4h-2M257.2 259.4h-2M257.2 266h-2M257.2 272.5h-2"/>
<path d="M48 293.3h4M48 318.3h4M48 343.3h4"/>
<path d="M48 283.3h2M48 288.3h2M48 298.3h2M48 303.3h2M48 308.3h2M48 313.3h2M48 323.3h2M48 328.3h2M48 333.3h2M48 338.3h2M48 348.3h2M48 353.3h2"/>
<path d="M257.2 293.3h-4M257.2 318.3h-4M257.2 343.3h-4"/>
<path d="M257.2 283.3h-2M257.2 288.3h-2M257.2 298.3h-2M257.2 303.3h-2M257.2 308.3h-2M257.2 313.3h-2M257.2 323.3h-2M257.2 328.3h-2M257.2 333.3h-2M257.2 338.3h-2M257.2 348.3h-2M257.2 353.3h-2"/>
</g>
<g font-size="8.7" text-anchor="middle">
<text x="51.7" y="116.7">2008</text>
<text x="76.7" y="116.7">2010</text>
<text x="101.6" y="116.7">2012</text>
<text x="126.6" y="116.7">2014</text>
<text x="151.5" y="116.7">2016</text>
<text x="176.5" y="116.7">2018</text>
<text x="201.5" y="116.7">2020</text>
<text x="226.4" y="116.7">2022</text>
<text x="251.4" y="116.7">2024</text>
<text x="71.4" y="374.2">5000</text>
<text x="105.5" y="374.2">6000</text>
<text x="139.5" y="374.2">7000</text>
<text x="173.6" y="374.2">8000</text>
<text x="207.6" y="374.2">9000</text>
<text x="241.6" y="374.2">10000</text>
<text x="152.7" y="106.2">Year</text>
<text x="152.2" y="387.5" font-size="8.9">MJD - 50000 [days]</text>
<text transform="translate(18.8 200.5) rotate(-90)">Optical magnitude</text>
<text transform="translate(18.8 319) rotate(-90)">WISE magnitude</text>
</g>
<g font-size="8.7" text-anchor="end">
<text x="44.6" y="128.9">17.0</text>
<text x="44.6" y="159.5">17.5</text>
<text x="44.6" y="192.2">18.0</text>
<text x="44.6" y="224.8">18.5</text>
<text x="44.6" y="257.5">19.0</text>
<text x="44.6" y="297.8">13.0</text>
<text x="44.6" y="322.8">13.5</text>
<text x="44.6" y="347.8">14.0</text>
</g>
<rect x="455.6" y="122" width="2.1" height="236.8" fill="#e6e6e6"/>
<rect x="494.0" y="122" width="4.0" height="236.8" fill="#e6e6e6"/>
<g fill="none" stroke-width="0.7">
<path d="M326.5 123.5V358.8" stroke="#555" stroke-dasharray="1 2.1"/>
<path d="M407.1 123.5V358.8" stroke="#555" stroke-dasharray="1 2.1"/>
<path d="M492.5 123.5V358.8" stroke="#555" stroke-dasharray="1 2.1"/>
<path d="M339.7 123.5V358.8" stroke="#e2e2e2" stroke-width="0.6" stroke-dasharray="4 2.5 1 2.5"/>
<path d="M342.2 123.5V358.8" stroke="#e2e2e2" stroke-width="0.6" stroke-dasharray="4 2.5 1 2.5"/>
<path d="M350.5 123.6V358.8" stroke="#4a4a4a" stroke-dasharray="5 4"/>
<path d="M365.5 123.6V358.8" stroke="#4a4a4a" stroke-dasharray="5 4"/>
<path d="M397.3 123.6V358.8" stroke="#4a4a4a" stroke-dasharray="5 4"/>
<path d="M461.9 123.6V358.8" stroke="#4a4a4a" stroke-dasharray="5 4"/>
<path d="M505.4 123.6V358.8" stroke="#4a4a4a" stroke-dasharray="5 4"/>
</g>
<g font-size="8">
<text x="312.4" y="292.2">OII3727</text>
<text x="392" y="292.2">OIII5007</text>
<text x="480" y="292.2">OI6365</text>
<text x="345.6" y="304.2">H<tspan font-style="italic" font-size="7.5">δ</tspan></text>
<text x="361.2" y="304.2">H<tspan font-style="italic" font-size="7.5">γ</tspan></text>
<text x="392.7" y="304.2">H<tspan font-style="italic" font-size="7.5">β</tspan></text>
<text x="456" y="304.2">HeI</text>
<text x="500.0" y="304.2">H<tspan font-style="italic" font-size="7.5">α</tspan></text>
</g>
<path d="M295.3 348.2H579" stroke="#000" stroke-width="0.8" stroke-dasharray="6 2 1 2" fill="none"/>
<g clip-path="url(#cr1)" fill="none" stroke-linejoin="round">
<path d="M295.3 265.1L295.5 262.5L295.7 262.8L296 260.5L296.2 268.1L296.4 260.7L296.6 264.2L296.8 262.4L297.1 266L297.3 257.5L297.5 256.9L297.7 260.4L297.9 256.1L298.2 266.3L298.4 252.5L298.6 265.2L298.8 262.8L299 261.6L299.3 255.3L299.5 259L299.7 258.8L299.9 265L300.1 255.4L300.4 254.8L300.6 266.7L300.8 262.5L301 256.6L301.2 256.5L301.5 268.3L301.7 264.7L301.9 259.5L302.1 262.3L302.3 258.9L302.6 265L302.8 265.1L303 258.7L303.2 259.1L303.4 266.2L303.7 255.9L303.9 258.5L304.1 260.5L304.3 260.3L304.5 256.3L304.8 259.5L305 261.2L305.2 261L305.4 253.8L305.6 252.7L305.9 274.7L306.1 264.9L306.3 273.2L306.5 264.3L306.7 262.8L307 265.7L307.2 258.2L307.4 260L307.6 259L307.8 268.2L308.1 261.8L308.3 258L308.5 268.4L308.7 269.9L308.9 260.7L309.2 243.5L309.4 264.3L309.6 261.6L309.8 257.5L310 253.5L310.3 257.8L310.5 262.3L310.7 260.6L310.9 258L311.1 259.9L311.4 257.3L311.6 264.1L311.8 258.9L312 262.7L312.2 264L312.5 261.3L312.7 255.5L312.9 260L313.1 259.3L313.3 260.3L313.6 260.5L313.8 261.4L314 262L314.2 271L314.4 259L314.7 263.5L314.9 263L315.1 264.4L315.3 256.8L315.5 260.5L315.8 258.2L316 258L316.2 257.1L316.4 258.2L316.6 254.8L316.9 253.5L317.1 254.8L317.3 257L317.5 253L317.7 260.8L318 264.2L318.2 259L318.4 267.3L318.6 261.6L318.8 257L319.1 250.5L319.3 255.9L319.5 260.7L319.7 254.6L319.9 254.9L320.2 255.9L320.4 253L320.6 261L320.8 251.6L321 265.2L321.3 257L321.5 253.3L321.7 254L321.9 259.1L322.1 266.3L322.4 263.4L322.6 261.6L322.8 255.2L323 246.5L323.2 258.9L323.5 249.1L323.7 259.8L323.9 256L324.1 254.6L324.3 244.8L324.6 254.6L324.8 266.3L325 259L325.2 252.5L325.4 257.1L325.7 252.1L325.9 256.9L326.1 254.3L326.3 252.4L326.5 244L326.8 256.4L327 259.5L327.2 251.3L327.4 251.9L327.6 264.2L327.9 252.1L328.1 258.8L328.3 255.3L328.5 249.8L328.7 249.5L329 258.7L329.2 253.5L329.4 258.3L329.6 267.4L329.8 256.6L330.1 264.3L330.3 260.2L330.5 254.4L330.7 261.6L330.9 259.4L331.2 263.9L331.4 262.4L331.6 254.5L331.8 253L332 266.8L332.3 252.2L332.5 257.6L332.7 260.1L332.9 263.1L333.1 255.2L333.4 260.6L333.6 261.4L333.8 256.9L334 255.2L334.2 265.5L334.5 255.5L334.7 258L334.9 253.9L335.1 252.9L335.3 257.6L335.6 263L335.8 252.6L336 255.3L336.2 262.7L336.4 262.2L336.7 259.3L336.9 254.1L337.1 257.8L337.3 249.6L337.5 264.8L337.8 253.5L338 262.5L338.2 260.2L338.4 260.5L338.6 251.7L338.9 251.8L339.1 267.9L339.3 257.1L339.5 256.1L339.7 256.7L340 258.9L340.2 268.9L340.4 259.4L340.6 260.4L340.8 267.2L341.1 258.2L341.3 254.8L341.5 254.8L341.7 252.7L341.9 260L342.2 254.9L342.4 250.9L342.6 248.6L342.8 246.1L343 250.5L343.3 248.7L343.5 246.9L343.7 246.7L343.9 240.5L344.1 241L344.4 244.7L344.6 241.2L344.8 246.2L345 244.3L345.2 244.8L345.5 244.6L345.7 246.8L345.9 248.6L346.1 243L346.3 246L346.6 247L346.8 247.5L347 250.6L347.2 247.6L347.4 244.2L347.7 247L347.9 250.1L348.1 247.2L348.3 250.8L348.5 243.2L348.8 251.7L349 244.6L349.2 240.3L349.4 244.2L349.6 243.1L349.9 248.3L350.1 238.6L350.3 245.1L350.5 242L350.7 237.1L351 248L351.2 244.2L351.4 246.9L351.6 243.7L351.8 245L352.1 243L352.3 243.9L352.5 245L352.7 242L352.9 241.7L353.2 246.1L353.4 241.6L353.6 246.2L353.8 245.3L354 241.5L354.3 240.3L354.5 242.3L354.7 235.8L354.9 245.4L355.1 241.8L355.4 243.5L355.6 247.9L355.8 240.8L356 242.1L356.2 241.7L356.5 242.2L356.7 241.3L356.9 242.7L357.1 246.9L357.3 241.3L357.6 242.2L357.8 243.6L358 246.9L358.2 241.4L358.4 240.7L358.7 236.6L358.9 242.2L359.1 239.8L359.3 240.6L359.5 242.2L359.8 242.6L360 242.6L360.2 240.3L360.4 238.1L360.6 238.9L360.9 246L361.1 242L361.3 237.7L361.5 240.2L361.7 236.9L362 238.5L362.2 238.7L362.4 237.7L362.6 235.7L362.8 240.5L363.1 241.5L363.3 242.9L363.5 238.1L363.7 235.1L363.9 237.9L364.2 239.3L364.4 237.4L364.6 240.9L364.8 237.1L365 234.2L365.3 236.9L365.5 239.1L365.7 236.4L365.9 234.1L366.1 236.1L366.4 233.5L366.6 235.9L366.8 236.4L367 237.9L367.2 235.1L367.5 233.8L367.7 232.1L367.9 232.2L368.1 236.1L368.3 239L368.6 236.2L368.8 229.6L369 239.9L369.2 234.8L369.4 232.1L369.7 230L369.9 235.2L370.1 231.8L370.3 233.9L370.5 232.2L370.8 233.7L371 231.2L371.2 231L371.4 233.8L371.6 229.5L371.9 235.3L372.1 237.1L372.3 234.7L372.5 229.5L372.7 233.4L373 229.4L373.2 230.7L373.4 230.3L373.6 230.6L373.8 225.7L374.1 228.8L374.3 234.2L374.5 232.6L374.7 228.6L374.9 228.7L375.2 227.4L375.4 225.4L375.6 229.1L375.8 231.9L376 226.8L376.3 231.1L376.5 228.4L376.7 231L376.9 226.7L377.1 223.2L377.4 231.5L377.6 228.6L377.8 224.6L378 226.3L378.2 220.4L378.5 225.2L378.7 224.7L378.9 223.9L379.1 226.7L379.3 227.3L379.6 226.6L379.8 224.6L380 223.7L380.2 228.8L380.4 225.8L380.7 223.7L380.9 225.2L381.1 226.7L381.3 224.7L381.5 227.3L381.8 226.7L382 229.8L382.2 226.2L382.4 221.8L382.6 224.7L382.9 228.9L383.1 229.4L383.3 226.7L383.5 229.7L383.7 225.5L384 226.2L384.2 222.7L384.4 229.1L384.6 231.2L384.8 224.2L385.1 218.8L385.3 223L385.5 227.2L385.7 222.2L385.9 224.6L386.2 226.9L386.4 225.8L386.6 225.3L386.8 218.4L387 223.9L387.3 225L387.5 222.7L387.7 220.9L387.9 221.2L388.1 231.5L388.4 226.2L388.6 226.5L388.8 222.9L389 226.1L389.2 222.4L389.5 227.3L389.7 230L389.9 228.6L390.1 227.8L390.3 226.1L390.6 226.8L390.8 224.4L391 222.8L391.2 221L391.4 227.4L391.7 226.2L391.9 219.5L392.1 229.9L392.3 225.3L392.5 228.6L392.8 229.4L393 221.7L393.2 230.3L393.4 228.5L393.6 220.5L393.9 227.8L394.1 222L394.3 223.7L394.5 222.4L394.7 228.7L395 217L395.2 227.2L395.4 228.2L395.6 224.3L395.8 226L396.1 225.7L396.3 229.7L396.5 222.4L396.7 225.2L396.9 216.6L397.2 217.4L397.4 222.1L397.6 223L397.8 226.8L398 225.7L398.3 221.8L398.5 226.7L398.7 226.8L398.9 226.7L399.1 223.6L399.4 223L399.6 223.1L399.8 224.6L400 226.9L400.2 224.9L400.5 224.8L400.7 225.9L400.9 223.9L401.1 222L401.3 224.8L401.6 225.5L401.8 223.4L402 222.4L402.2 224.5L402.4 221.5L402.7 222.3L402.9 224L403.1 224.1L403.3 219.3L403.5 221.7L403.8 221.1L404 217.1L404.2 222.2L404.4 222.4L404.6 220.6L404.9 223.8L405.1 222.4L405.3 222.1L405.5 227.4L405.7 224.2L406 226L406.2 221.9L406.4 228.7L406.6 223.8L406.8 222.6L407.1 223L407.3 220.8L407.5 225.7L407.7 228.6L407.9 226.8L408.2 228.4L408.4 224.6L408.6 226L408.8 225L409 226.1L409.3 225.6L409.5 229.3L409.7 227.4L409.9 226L410.1 229.7L410.4 228.4L410.6 226.6L410.8 228.4L411 229.9L411.2 227.3L411.5 228.8L411.7 227.1L411.9 229.9L412.1 226.4L412.3 227.6L412.6 226.6L412.8 233L413 229.2L413.2 230.2L413.4 228.2L413.7 226L413.9 227.9L414.1 228.9L414.3 227.6L414.5 231.1L414.8 227.9L415 230.3L415.2 225.8L415.4 228.9L415.6 228.9L415.9 226.1L416.1 227.7L416.3 230.4L416.5 230L416.7 228.2L417 231.9L417.2 241.4L417.4 243.6L417.6 242.5L417.8 235.1L418.1 230.2L418.3 229L418.5 223.8L418.7 227L418.9 224.9L419.2 232.2L419.4 223.7L419.6 227.7L419.8 228.2L420 226.3L420.3 227.2L420.5 228.6L420.7 227.1L420.9 225.7L421.1 229.1L421.4 228.6L421.6 226.5L421.8 227.8L422 225.8L422.2 223.9L422.5 223.8L422.7 223.6L422.9 224.1L423.1 230.8L423.3 235.1L423.6 233.8L423.8 236.2L424 233.6L424.2 228.3L424.4 226.8L424.7 221.4L424.9 225.8L425.1 224.8L425.3 225.4L425.5 221L425.8 224.7L426 223.6L426.2 224.5L426.4 220.8L426.6 221.2L426.9 221.8L427.1 217.5L427.3 221.8L427.5 218.4L427.7 223.1L428 221.3L428.2 223.9L428.4 223.1L428.6 219.5L428.8 222.3L429.1 220.8L429.3 221.1L429.5 220.3L429.7 220.5L429.9 223.6L430.2 222.2L430.4 222.8L430.6 223.7L430.8 220.4L431 224.4L431.3 221.8L431.5 217.8L431.7 220.1L431.9 221.2L432.1 216.5L432.4 220.4L432.6 225L432.8 222.2L433 220.4L433.2 221.4L433.5 221L433.7 221.5L433.9 222.4L434.1 224.7L434.3 224.4L434.6 218.5L434.8 221.1L435 223.6L435.2 221.5L435.4 220.2L435.7 219.1L435.9 220.2L436.1 222.6L436.3 221.5L436.5 222.1L436.8 221.5L437 222.3L437.2 218.5L437.4 219.9L437.6 219.3L437.9 218.5L438.1 218.2L438.3 220.1L438.5 216.7L438.7 216.6L439 223.6L439.2 221.7L439.4 218.1L439.6 216.2L439.8 218.7L440.1 221.1L440.3 221.4L440.5 220.2L440.7 220.1L440.9 223.5L441.2 216.9L441.4 220.3L441.6 222.4L441.8 220.5L442 220.9L442.3 222.4L442.5 221.1L442.7 216.5L442.9 218.4L443.1 224L443.4 225.9L443.6 222.1L443.8 222.4L444 218.7L444.2 218.6L444.5 218.2L444.7 221.7L444.9 221.5L445.1 221.8L445.3 220.2L445.6 219.8L445.8 219.7L446 218.7L446.2 219.3L446.4 219.5L446.7 219.6L446.9 226.3L447.1 221L447.3 223.3L447.5 218.7L447.8 215.9L448 222.5L448.2 216.9L448.4 219.4L448.6 217.8L448.9 220.8L449.1 219.5L449.3 219.4L449.5 216L449.7 217.7L450 224.5L450.2 220L450.4 220.4L450.6 221.4L450.8 218.2L451.1 222.4L451.3 221L451.5 223.1L451.7 220.5L451.9 220.5L452.2 218L452.4 216.5L452.6 217.8L452.8 218.4L453 218L453.3 218.8L453.5 217.5L453.7 218.2L453.9 213.7L454.1 217L454.4 218.4L454.6 219.9L454.8 219.2L455 216.5L455.2 217.6L455.5 220.3L455.7 218.7L455.9 219L456.1 218.7L456.3 220.5L456.6 220.3L456.8 217.6L457 216.2L457.2 214.8L457.4 220.4L457.7 220.5L457.9 220.4L458.1 218.8L458.3 221L458.5 219.4L458.8 220.8L459 222L459.2 220.1L459.4 221.4L459.6 220.5L459.9 220.5L460.1 218L460.3 220.4L460.5 221.1L460.7 221.1L461 218.6L461.2 220.1L461.4 216.7L461.6 218.5L461.8 220.4L462.1 222.8L462.3 230.2L462.5 233.9L462.7 234.2L462.9 227.8L463.2 220.6L463.4 221.1L463.6 217.7L463.8 222.7L464 222.9L464.3 221.1L464.5 221.9L464.7 221.5L464.9 216.5L465.1 216.4L465.4 216.2L465.6 221.3L465.8 218.9L466 219.8L466.2 221.2L466.5 217.8L466.7 218.8L466.9 216.2L467.1 217.5L467.3 218.3L467.6 217L467.8 215.9L468 218.3L468.2 218.7L468.4 216.3L468.7 217.8L468.9 216.5L469.1 214.3L469.3 213.8L469.5 218L469.8 219.5L470 213.3L470.2 213.9L470.4 216.5L470.6 217.6L470.9 215.2L471.1 218.6L471.3 214.5L471.5 216.7L471.7 216.6L472 216.1L472.2 217.3L472.4 216.6L472.6 214.7L472.8 216.6L473.1 214.1L473.3 216.5L473.5 214.1L473.7 218L473.9 212.5L474.2 215.8L474.4 215.6L474.6 213.2L474.8 214.2L475 213.5L475.3 215.3L475.5 213.4L475.7 215.3L475.9 216L476.1 218.5L476.4 216.5L476.6 215.1L476.8 214.5L477 216.6L477.2 214.6L477.5 216.1L477.7 214.9L477.9 219.1L478.1 218.3L478.3 218.7L478.6 218.6L478.8 218.7L479 218.8L479.2 218.3L479.4 220.8L479.7 223.2L479.9 218.7L480.1 220.2L480.3 220.8L480.5 220.2L480.8 222.9L481 221.2L481.2 220.8L481.4 222.4L481.6 227.8L481.9 225L482.1 220.8L482.3 224L482.5 222.4L482.7 223.5L483 221.2L483.2 222.9L483.4 219.4L483.6 221.3L483.8 221.9L484.1 223.1L484.3 223.6L484.5 220.5L484.7 223.8L484.9 224L485.2 224.3L485.4 222.2L485.6 219.7L485.8 223.1L486 223.5L486.3 222.9L486.5 224.7L486.7 220.9L486.9 221.9L487.1 219.8L487.4 220.6L487.6 221.7L487.8 223.8L488 220.8L488.2 220.3L488.5 222L488.7 222.4L488.9 221.9L489.1 222.5L489.3 222.2L489.6 220.3L489.8 218.8L490 219.6L490.2 222L490.4 216.3L490.7 217.7L490.9 222L491.1 222.9L491.3 220L491.5 220.8L491.8 217.6L492 221.4L492.2 219.9L492.4 222.9L492.6 217.8L492.9 215.8L493.1 219.2L493.3 217.8L493.5 220.1L493.7 217.5L494 218L494.2 221.9L494.4 218.4L494.6 218.8L494.8 222.7L495.1 217.9L495.3 219.7L495.5 215.9L495.7 217.1L495.9 219.8L496.2 214.2L496.4 215.6L496.6 219L496.8 217.1L497 220.7L497.3 219.6L497.5 217.7L497.7 213.9L497.9 218.3L498.1 222.5L498.4 219.7L498.6 215.1L498.8 214.3L499 218.7L499.2 217.5L499.5 215.1L499.7 214.5L499.9 214.9L500.1 216.1L500.3 209.9L500.6 217.5L500.8 212.5L501 210.4L501.2 214L501.4 211.4L501.7 209.8L501.9 209.3L502.1 206.2L502.3 209.7L502.5 204.7L502.8 206.2L503 204.8L503.2 202.6L503.4 203.6L503.6 198.5L503.9 196.7L504.1 195.2L504.3 193.3L504.5 191.2L504.7 186.4L505 184.6L505.2 182L505.4 183.7L505.6 184.5L505.8 187L506.1 193.9L506.3 194.9L506.5 198.7L506.7 200.4L506.9 203.9L507.2 208.8L507.4 206.8L507.6 206.5L507.8 208.3L508 208L508.3 208.6L508.5 211.9L508.7 207.8L508.9 208.7L509.1 208.1L509.4 208.7L509.6 207.3L509.8 211.4L510 208.8L510.2 211.3L510.5 212.4L510.7 211.4L510.9 215.3L511.1 219.1L511.3 213.9L511.6 215.8L511.8 215.7L512 217.6L512.2 214.7L512.4 214.1L512.7 215.9L512.9 216.7L513.1 217.6L513.3 219.4L513.5 215.7L513.8 219.1L514 217.8L514.2 214.2L514.4 216L514.6 216.7L514.9 219.1L515.1 218.5L515.3 217.5L515.5 216.2L515.7 217.2L516 216.1L516.2 217.2L516.4 216.4L516.6 217.4L516.8 219.3L517.1 223L517.3 221.1L517.5 219.3L517.7 221.3L517.9 218.2L518.2 221L518.4 220.5L518.6 222.6L518.8 218.1L519 221.4L519.3 222.8L519.5 221.3L519.7 219.8L519.9 223.6L520.1 217.8L520.4 222.3L520.6 222.2L520.8 225.3L521 220.2L521.2 218.7L521.5 222L521.7 222.6L521.9 220.8L522.1 221.1L522.3 220.7L522.6 217.9L522.8 220.8L523 224.1L523.2 224.1L523.4 217.4L523.7 219.9L523.9 219.4L524.1 221.9L524.3 219.8L524.5 220.6L524.8 223.9L525 220.1L525.2 221.7L525.4 221.3L525.6 220.6L525.9 221.9L526.1 220.2L526.3 217.2L526.5 216.1L526.7 217.8L527 222.2L527.2 217.7L527.4 218L527.6 218.7L527.8 222.2L528.1 221.9L528.3 221.5L528.5 219.6L528.7 217.5L528.9 219.7L529.2 217.7L529.4 220.4L529.6 215.4L529.8 219L530 214.1L530.3 217.8L530.5 217.6L530.7 222.1L530.9 217.4L531.1 219.8L531.4 220.7L531.6 221.8L531.8 222.8L532 214.1L532.2 215.9L532.5 215.1L532.7 212.5L532.9 217.3L533.1 212.8L533.3 216.4L533.6 216.5L533.8 217.6L534 215.7L534.2 212.3L534.4 206.8L534.7 212.6L534.9 214.9L535.1 216.1L535.3 218L535.5 212.5L535.8 215.9L536 212.5L536.2 220.7L536.4 214.4L536.6 218.8L536.9 221.7L537.1 220.5L537.3 225.3L537.5 221.2L537.7 217.6L538 221L538.2 219.9L538.4 218.2L538.6 225.3L538.8 219.6L539.1 218.9L539.3 223.8L539.5 219.9L539.7 221.3L539.9 221L540.2 221.2L540.4 222.2L540.6 227.3L540.8 225.7L541 224.3L541.3 220.4L541.5 227.2L541.7 226.3L541.9 225.7L542.1 226.8L542.4 227.9L542.6 227.5L542.8 224.1L543 225.7L543.2 224.1L543.5 227.1L543.7 227.8L543.9 229L544.1 223.6L544.3 226.7L544.6 225.2L544.8 225.5L545 222L545.2 226.8L545.4 228L545.7 225L545.9 227.2L546.1 224.6L546.3 228L546.5 224.7L546.8 223.2L547 227.6L547.2 227.5L547.4 219.7L547.6 225.1L547.9 222.2L548.1 226.3L548.3 223.2L548.5 221L548.7 221.6L549 224.2L549.2 225.6L549.4 222L549.6 221L549.8 221.9L550.1 220.5L550.3 217.5L550.5 221.2L550.7 222.3L550.9 217.5L551.2 215.1L551.4 218.9L551.6 217.2L551.8 225.2L552 223.4L552.3 220.9L552.5 221.8L552.7 220.2L552.9 224.4L553.1 214.9L553.4 218.9L553.6 221.1L553.8 217.6L554 223.3L554.2 220.6L554.5 220.9L554.7 220.4L554.9 218.1L555.1 223.3L555.3 216.3L555.6 217.3L555.8 218.2L556 216L556.2 220.3L556.4 224.7L556.7 217L556.9 215.7L557.1 212.9L557.3 218.4L557.5 215.2L557.8 212.3L558 216.4L558.2 214.7L558.4 216.7L558.6 216.8L558.9 211.6L559.1 210.6L559.3 213L559.5 214.3L559.7 213.7L560 215.3L560.2 212.3L560.4 212.4L560.6 206.7L560.8 211.6L561.1 211.8L561.3 212.6L561.5 211.5L561.7 211.2L561.9 214.7L562.2 210.3L562.4 209.7L562.6 205.8L562.8 207.9L563 208.7L563.3 208.5L563.5 207.6L563.7 210L563.9 209.9L564.1 208.7L564.4 211.6L564.6 216.3L564.8 209.6L565 206.6L565.2 211L565.5 207L565.7 207.3L565.9 212.6L566.1 212.7L566.3 211.1L566.6 199.7L566.8 201.3L567 205.9L567.2 217.5L567.4 213.1L567.7 210.8L567.9 214.2L568.1 215.5L568.3 209.1L568.5 213.6L568.8 212.1L569 209.4L569.2 213.8L569.4 212.7L569.6 212.7L569.9 206.8L570.1 214.2L570.3 212.3L570.5 212.1L570.7 210.2L571 218.3L571.2 219L571.4 218.5L571.6 220.2L571.8 223.2L572.1 217.1L572.3 215.5L572.5 222.2L572.7 215.8L572.9 214.9L573.2 221.7L573.4 219.5L573.6 213.4L573.8 218.2L574 218L574.3 214.9L574.5 219.5L574.7 223.4L574.9 222L575.1 222.5L575.4 221.2L575.6 219.5L575.8 216.3L576 224.4L576.2 218.8L576.5 217.9L576.7 223.3L576.9 221.4L577.1 222.6L577.3 222.5L577.6 221.2L577.8 220.6L578 219.1L578.2 222.9L578.4 219.9L578.7 218.6L578.9 222.5" stroke="#000" stroke-width="0.62"/>
<path d="M295.3 238.1L295.5 237.1L295.7 241L296 235.1L296.2 243.3L296.4 240L296.6 241.2L296.8 241.1L297.1 243.1L297.3 237L297.5 240.4L297.7 238.9L297.9 238.7L298.2 235.3L298.4 238.3L298.6 239.3L298.8 242.4L299 242.4L299.3 243.1L299.5 238.8L299.7 242.2L299.9 237.7L300.1 236.7L300.4 238.5L300.6 235.8L300.8 239.4L301 240.6L301.2 235.7L301.5 235.8L301.7 238.8L301.9 242.2L302.1 235.9L302.3 237L302.6 239.3L302.8 238.8L303 239.5L303.2 240.3L303.4 234L303.7 240.9L303.9 233.2L304.1 242.1L304.3 236.7L304.5 235.4L304.8 235.2L305 232.2L305.2 235.8L305.4 234.6L305.6 238.4L305.9 242.9L306.1 235L306.3 237.9L306.5 230.1L306.7 223.1L307 221.1L307.2 224.3L307.4 231.7L307.6 233.3L307.8 238.8L308.1 234.9L308.3 235.4L308.5 237.4L308.7 238.6L308.9 237.2L309.2 234.4L309.4 235.9L309.6 236.2L309.8 234.5L310 231.5L310.3 234.1L310.5 235.4L310.7 236.9L310.9 238L311.1 234.2L311.4 235.4L311.6 237.1L311.8 232.4L312 234.3L312.2 234.1L312.5 238.8L312.7 238.6L312.9 231.1L313.1 235.9L313.3 234.6L313.6 232.8L313.8 238.1L314 237.5L314.2 237.5L314.4 236.9L314.7 235.2L314.9 231.9L315.1 232.9L315.3 238.1L315.5 238.7L315.8 240.5L316 235.4L316.2 232.1L316.4 233.6L316.6 238.4L316.9 232.3L317.1 235.2L317.3 234.5L317.5 236.6L317.7 240.5L318 230.8L318.2 237.9L318.4 233.9L318.6 238.6L318.8 237.3L319.1 239.5L319.3 232.9L319.5 234.9L319.7 236.4L319.9 235.5L320.2 235.2L320.4 231L320.6 232.7L320.8 231.5L321 232.7L321.3 229.6L321.5 238.5L321.7 232.5L321.9 231.4L322.1 234.3L322.4 230.5L322.6 229.7L322.8 229.1L323 231.2L323.2 230.7L323.5 234.1L323.7 230.5L323.9 232.2L324.1 232.8L324.3 234.8L324.6 235.7L324.8 235.4L325 235.2L325.2 234.6L325.4 239.9L325.7 236.9L325.9 232.3L326.1 236.5L326.3 235.5L326.5 238.5L326.8 241.6L327 237.8L327.2 238.4L327.4 236.5L327.6 233.6L327.9 237.5L328.1 240.6L328.3 236.2L328.5 238.7L328.7 238.3L329 235.2L329.2 236.6L329.4 242.5L329.6 239.9L329.8 245L330.1 239.8L330.3 243.2L330.5 241.3L330.7 241.5L330.9 241.9L331.2 243.4L331.4 236.5L331.6 241.1L331.8 244.2L332 239.3L332.3 243.3L332.5 242L332.7 238.4L332.9 239.9L333.1 240.1L333.4 236L333.6 236.8L333.8 241.3L334 239.3L334.2 239.8L334.5 230.4L334.7 229.1L334.9 234.2L335.1 237.7L335.3 243.2L335.6 238.2L335.8 241.1L336 238.3L336.2 238.9L336.4 238L336.7 241.3L336.9 240.9L337.1 240.1L337.3 240.5L337.5 240.7L337.8 242.7L338 238.7L338.2 241.4L338.4 237L338.6 240.1L338.9 244L339.1 237.8L339.3 242.6L339.5 243.8L339.7 243.9L340 246.1L340.2 247L340.4 248L340.6 253.8L340.8 251L341.1 243.4L341.3 240.7L341.5 241.5L341.7 239.8L341.9 242.3L342.2 240L342.4 240.4L342.6 235.1L342.8 238.7L343 239.3L343.3 244.3L343.5 242.1L343.7 243L343.9 241.5L344.1 236.7L344.4 234.8L344.6 237.1L344.8 234.3L345 234.8L345.2 234L345.5 238.6L345.7 234.7L345.9 234.3L346.1 234.6L346.3 233.5L346.6 236.3L346.8 233.2L347 232.8L347.2 232.3L347.4 233.6L347.7 232.7L347.9 230.8L348.1 231L348.3 236.8L348.5 228.8L348.8 233.9L349 229.8L349.2 231.9L349.4 227.6L349.6 227.4L349.9 226.2L350.1 225.8L350.3 226.4L350.5 227.2L350.7 227.9L351 229.9L351.2 230.5L351.4 233.2L351.6 236L351.8 232.4L352.1 229.1L352.3 232.1L352.5 233L352.7 232.8L352.9 230L353.2 235.1L353.4 228.9L353.6 230L353.8 235.6L354 234.5L354.3 233.2L354.5 232.9L354.7 234.3L354.9 236.6L355.1 233.4L355.4 233.2L355.6 235.3L355.8 234.7L356 236.2L356.2 230.7L356.5 235L356.7 234.6L356.9 235.3L357.1 237.4L357.3 239L357.6 236.6L357.8 237.4L358 233.9L358.2 232.6L358.4 233.4L358.7 234.5L358.9 231.6L359.1 234.4L359.3 233.3L359.5 233.3L359.8 233.5L360 232.8L360.2 229.9L360.4 230.6L360.6 231.9L360.9 230.8L361.1 234.8L361.3 232.5L361.5 230.6L361.7 231.3L362 235.1L362.2 229L362.4 229.4L362.6 233L362.8 230.6L363.1 228.3L363.3 225.4L363.5 231.4L363.7 230.5L363.9 225.1L364.2 228.5L364.4 227.3L364.6 226.7L364.8 224.3L365 220.9L365.3 220.6L365.5 222.8L365.7 219.9L365.9 215.8L366.1 226.5L366.4 222.6L366.6 224.8L366.8 226.6L367 228.3L367.2 220L367.5 228.3L367.7 225.2L367.9 227.8L368.1 224.7L368.3 225.5L368.6 224.9L368.8 229.4L369 224.8L369.2 225.7L369.4 225.2L369.7 227.6L369.9 227.9L370.1 225.7L370.3 226.2L370.5 229.4L370.8 224.5L371 225.6L371.2 227.5L371.4 227.5L371.6 225.6L371.9 224.5L372.1 225.2L372.3 224.4L372.5 220.7L372.7 223.8L373 222.6L373.2 226.8L373.4 224.8L373.6 224.4L373.8 224.5L374.1 223.1L374.3 222.4L374.5 221.8L374.7 224L374.9 222.2L375.2 220.3L375.4 222.5L375.6 221L375.8 221.3L376 219.7L376.3 219.4L376.5 217.8L376.7 220.2L376.9 218.7L377.1 218.8L377.4 219.6L377.6 220.4L377.8 217.9L378 217.1L378.2 218L378.5 221.3L378.7 217.2L378.9 218.3L379.1 216.1L379.3 215.6L379.6 219.5L379.8 219L380 217.1L380.2 216.4L380.4 221.8L380.7 216.9L380.9 213.2L381.1 218.5L381.3 215.2L381.5 215.2L381.8 216.3L382 216.4L382.2 215L382.4 214L382.6 220.4L382.9 217.6L383.1 213L383.3 217.4L383.5 214.3L383.7 215.5L384 213.2L384.2 220.2L384.4 218L384.6 217.3L384.8 220.6L385.1 221.6L385.3 218.5L385.5 221.6L385.7 218.8L385.9 219.8L386.2 218.6L386.4 218.9L386.6 214.7L386.8 220.4L387 220.5L387.3 219.4L387.5 218.1L387.7 226.7L387.9 221.3L388.1 220.4L388.4 221.6L388.6 219.4L388.8 226.9L389 221.8L389.2 226.8L389.5 224L389.7 220.2L389.9 223.7L390.1 225.7L390.3 223.4L390.6 226L390.8 223.9L391 218.7L391.2 225.5L391.4 223.9L391.7 221.9L391.9 217.8L392.1 217.8L392.3 222.2L392.5 219.6L392.8 220L393 217.6L393.2 216.8L393.4 218.2L393.6 217.6L393.9 216.7L394.1 216L394.3 213.7L394.5 211.7L394.7 215.3L395 212.2L395.2 209L395.4 209.8L395.6 204.7L395.8 204.6L396.1 208.9L396.3 206L396.5 202.4L396.7 201.7L396.9 200.1L397.2 196.6L397.4 197.8L397.6 194.2L397.8 193.2L398 200.5L398.3 195.4L398.5 192.2L398.7 199.1L398.9 202.7L399.1 199.9L399.4 207.7L399.6 205.5L399.8 208.1L400 209.2L400.2 210.3L400.5 210.2L400.7 208.4L400.9 209.6L401.1 210.5L401.3 211.1L401.6 213.4L401.8 213L402 214.7L402.2 213.8L402.4 215.3L402.7 212.3L402.9 213.7L403.1 215.5L403.3 214.8L403.5 218.4L403.8 216.5L404 215.5L404.2 219.6L404.4 220.1L404.6 218.1L404.9 220L405.1 220.2L405.3 220.8L405.5 218.4L405.7 218.9L406 222.1L406.2 219.9L406.4 216.4L406.6 218.6L406.8 204.1L407.1 187.9L407.3 187.3L407.5 191.2L407.7 208.5L407.9 219.2L408.2 223L408.4 220.4L408.6 223L408.8 220.9L409 220.5L409.3 221.3L409.5 221.3L409.7 224.1L409.9 221.6L410.1 220.2L410.4 220L410.6 222.4L410.8 221.8L411 220.9L411.2 219.5L411.5 221.3L411.7 220.9L411.9 221.1L412.1 218L412.3 221.3L412.6 222.6L412.8 223.7L413 223L413.2 221L413.4 222.1L413.7 222.6L413.9 222.7L414.1 221.1L414.3 222.9L414.5 225L414.8 219.3L415 222.1L415.2 222.1L415.4 224.2L415.6 222.6L415.9 223.9L416.1 221L416.3 221.4L416.5 223.6L416.7 221.6L417 222.8L417.2 222.2L417.4 224.8L417.6 222.3L417.8 223L418.1 223.4L418.3 222.1L418.5 224.8L418.7 221.5L418.9 224L419.2 224.5L419.4 221.8L419.6 221L419.8 221.1L420 225L420.3 221.5L420.5 220L420.7 219.8L420.9 220.6L421.1 220.9L421.4 218.1L421.6 219.9L421.8 222.2L422 221L422.2 224.1L422.5 217.9L422.7 221.1L422.9 220.6L423.1 220.4L423.3 219.7L423.6 220.1L423.8 219.8L424 218.9L424.2 216.9L424.4 217.6L424.7 219.9L424.9 218.2L425.1 217.4L425.3 214.8L425.5 208.5L425.8 201.4L426 198.8L426.2 199.1L426.4 210.7L426.6 220L426.9 217.6L427.1 212.9L427.3 213.1L427.5 218.6L427.7 216.1L428 215.6L428.2 215.9L428.4 216.2L428.6 216.7L428.8 217.1L429.1 218.1L429.3 216.3L429.5 216.7L429.7 217.2L429.9 217.4L430.2 220.9L430.4 217.2L430.6 215.1L430.8 216.8L431 218.2L431.3 213.6L431.5 221.4L431.7 216.5L431.9 215L432.1 215.6L432.4 215.2L432.6 220.4L432.8 214.1L433 217.7L433.2 222.2L433.5 215.9L433.7 220L433.9 219L434.1 215.5L434.3 216L434.6 216.2L434.8 213.1L435 219.5L435.2 216.4L435.4 215.6L435.7 219.4L435.9 216.1L436.1 218.6L436.3 218.3L436.5 216.2L436.8 218.9L437 217.2L437.2 220.3L437.4 215.7L437.6 218L437.9 220.2L438.1 219.2L438.3 217.5L438.5 217.1L438.7 216.5L439 219.8L439.2 217.4L439.4 220.4L439.6 216.2L439.8 213.9L440.1 219.7L440.3 220.2L440.5 220.2L440.7 218.2L440.9 216L441.2 216.5L441.4 219.2L441.6 217.6L441.8 217.2L442 216.2L442.3 216.1L442.5 217L442.7 215.6L442.9 217.2L443.1 217.1L443.4 218.6L443.6 216.4L443.8 215L444 216.4L444.2 214.5L444.5 216.9L444.7 214.5L444.9 216.8L445.1 215.8L445.3 217.1L445.6 217.9L445.8 215L446 217.2L446.2 216.9L446.4 214L446.7 215.4L446.9 217.7L447.1 216.9L447.3 218.3L447.5 215.4L447.8 216.9L448 216.7L448.2 216.8L448.4 219.1L448.6 217.4L448.9 217L449.1 214.8L449.3 217.7L449.5 215.3L449.7 215.3L450 214L450.2 216L450.4 216L450.6 214.6L450.8 216.3L451.1 216.4L451.3 215L451.5 215.8L451.7 216.4L451.9 216.2L452.2 215.4L452.4 215.2L452.6 214.4L452.8 212.5L453 214.8L453.3 216.4L453.5 212.3L453.7 216.3L453.9 212.9L454.1 216.8L454.4 216L454.6 217.9L454.8 217.6L455 215.7L455.2 212.7L455.5 216.1L455.7 219L455.9 217.8L456.1 232.2L456.3 239.3L456.6 238.2L456.8 235.7L457 223.6L457.2 217.5L457.4 219.4L457.7 216.3L457.9 213.9L458.1 214.8L458.3 216.9L458.5 214.6L458.8 216.7L459 214.4L459.2 215.9L459.4 218.3L459.6 212.9L459.9 220.1L460.1 216.3L460.3 214.8L460.5 214.1L460.7 214.9L461 215.3L461.2 215.3L461.4 215.5L461.6 210.5L461.8 204.8L462.1 204.3L462.3 205.9L462.5 207L462.7 214.2L462.9 216.4L463.2 217.1L463.4 213.4L463.6 217.9L463.8 213.6L464 217.7L464.3 219L464.5 217.3L464.7 214.8L464.9 214.9L465.1 217.5L465.4 215.4L465.6 216.9L465.8 216L466 215.6L466.2 219.4L466.5 214.7L466.7 216.6L466.9 214.7L467.1 216.5L467.3 214.7L467.6 213.1L467.8 217.7L468 215L468.2 217.2L468.4 213.2L468.7 215.5L468.9 216.8L469.1 216.5L469.3 214.1L469.5 219.2L469.8 214.5L470 217.3L470.2 216.1L470.4 217.6L470.6 216.7L470.9 215.7L471.1 215.2L471.3 217.9L471.5 217.4L471.7 216L472 215L472.2 218.7L472.4 216.2L472.6 217.3L472.8 217.7L473.1 216.3L473.3 217L473.5 216.5L473.7 219.9L473.9 216.7L474.2 216.4L474.4 219.2L474.6 214.5L474.8 220.5L475 217L475.3 218.1L475.5 218.4L475.7 218.5L475.9 216.6L476.1 222.4L476.4 218.2L476.6 218.4L476.8 221.8L477 215.4L477.2 219.8L477.5 219.3L477.7 220.4L477.9 220.7L478.1 219.5L478.3 221.6L478.6 221.5L478.8 219.7L479 219.9L479.2 222.7L479.4 220L479.7 222.1L479.9 219.6L480.1 222.4L480.3 222.7L480.5 221.3L480.8 222.6L481 219.4L481.2 218L481.4 220L481.6 220.9L481.9 220.4L482.1 219.2L482.3 221.8L482.5 221.8L482.7 223.4L483 221.4L483.2 221.4L483.4 221.8L483.6 221.3L483.8 222.4L484.1 221.8L484.3 220.5L484.5 219.8L484.7 223L484.9 220.2L485.2 222.9L485.4 219.7L485.6 219.9L485.8 220.2L486 220.5L486.3 220.9L486.5 220.8L486.7 221L486.9 220.2L487.1 219.8L487.4 225.3L487.6 218.4L487.8 219.5L488 218.4L488.2 219.7L488.5 221.1L488.7 214.5L488.9 217.5L489.1 219.6L489.3 220.1L489.6 221.1L489.8 218.4L490 218.1L490.2 219.8L490.4 216L490.7 215.9L490.9 217.9L491.1 218.7L491.3 216.3L491.5 217.3L491.8 217.1L492 213.4L492.2 219.3L492.4 217L492.6 217.2L492.9 217.7L493.1 216.6L493.3 217.1L493.5 221L493.7 221.6L494 218.9L494.2 217.7L494.4 216.9L494.6 219.4L494.8 216.9L495.1 217L495.3 214.7L495.5 218.4L495.7 219.9L495.9 218.4L496.2 217.2L496.4 220.3L496.6 216.6L496.8 217.2L497 221.7L497.3 216.4L497.5 216.6L497.7 220L497.9 213.9L498.1 219.1L498.4 215.5L498.6 215.1L498.8 217.1L499 216.9L499.2 212.2L499.5 217L499.7 217.1L499.9 212.9L500.1 207.7L500.3 214.1L500.6 209L500.8 209.3L501 208.3L501.2 204.8L501.4 203.8L501.7 201.7L501.9 197.4L502.1 196.9L502.3 195.5L502.5 190.7L502.8 187.9L503 184.6L503.2 175.5L503.4 170.6L503.6 165.4L503.9 155L504.1 150.8L504.3 140.4L504.5 127.8L504.7 122L505 107.5L505.2 100.3L505.4 98L505.6 108.7L505.8 117.3L506.1 127.3L506.3 140.4L506.5 147.7L506.7 154.2L506.9 159.4L507.2 172.2L507.4 175.7L507.6 179.2L507.8 180.5L508 187.1L508.3 194.1L508.5 191.1L508.7 193.9L508.9 197.5L509.1 196.8L509.4 202.6L509.6 203.6L509.8 204.3L510 204.2L510.2 201.2L510.5 205L510.7 207.4L510.9 208.4L511.1 205.9L511.3 208.8L511.6 208L511.8 209.2L512 210.6L512.2 211.5L512.4 211.9L512.7 214.2L512.9 210.5L513.1 211.5L513.3 214.6L513.5 208.9L513.8 211.9L514 212.5L514.2 212.8L514.4 212.6L514.6 210.6L514.9 212.1L515.1 215.4L515.3 213.5L515.5 214.8L515.7 214.8L516 211.8L516.2 214.9L516.4 216.6L516.6 217.4L516.8 216.8L517.1 216.4L517.3 218.3L517.5 218.1L517.7 214.6L517.9 218L518.2 219.2L518.4 218.3L518.6 219.6L518.8 219.6L519 218.7L519.3 219.9L519.5 217.6L519.7 217.9L519.9 218.6L520.1 220.4L520.4 218.4L520.6 223.4L520.8 220.1L521 219.2L521.2 221.4L521.5 219.9L521.7 220L521.9 218.5L522.1 222.7L522.3 221.2L522.6 224.8L522.8 222.1L523 220.8L523.2 220.1L523.4 220.8L523.7 221.8L523.9 222.7L524.1 222.8L524.3 221.9L524.5 221.5L524.8 219.8L525 224.2L525.2 224.9L525.4 222.1L525.6 220.4L525.9 220.4L526.1 220.8L526.3 221.1L526.5 221L526.7 219.4L527 219.4L527.2 224.2L527.4 219.6L527.6 221.2L527.8 220.3L528.1 218.7L528.3 218.1L528.5 217.3L528.7 220.3L528.9 219.7L529.2 218.2L529.4 221.3L529.6 218.8L529.8 219.6L530 218.4L530.3 215.9L530.5 218.6L530.7 214.5L530.9 219.8L531.1 220.9L531.4 217.2L531.6 218.6L531.8 218L532 217.2L532.2 218.6L532.5 217.9L532.7 220.4L532.9 218.2L533.1 216.4L533.3 219.3L533.6 218.5L533.8 221.8L534 216.8L534.2 222.8L534.4 216.2L534.7 218L534.9 218.7L535.1 215.8L535.3 219.5L535.5 219.4L535.8 218.2L536 219.3L536.2 219.9L536.4 220.1L536.6 219.1L536.9 223.3L537.1 217.4L537.3 221.5L537.5 221.2L537.7 222L538 222.1L538.2 221.7L538.4 221.6L538.6 220.4L538.8 218.9L539.1 218.2L539.3 223L539.5 223.1L539.7 221.8L539.9 222.5L540.2 222.5L540.4 225.1L540.6 222.1L540.8 221.5L541 222.3L541.3 221.6L541.5 220.4L541.7 225.6L541.9 224.9L542.1 221.5L542.4 221.6L542.6 225.2L542.8 221.9L543 220.6L543.2 221.9L543.5 222.6L543.7 223.9L543.9 221.9L544.1 221.6L544.3 222.1L544.6 224.2L544.8 224.7L545 222.8L545.2 222.1L545.4 223.9L545.7 224.6L545.9 219.2L546.1 219.4L546.3 220.5L546.5 223.8L546.8 221.2L547 221.7L547.2 217.6L547.4 222L547.6 220L547.9 218.1L548.1 220L548.3 221L548.5 221.6L548.7 220.2L549 219.9L549.2 219L549.4 220.5L549.6 219.2L549.8 222.9L550.1 225.3L550.3 220.6L550.5 221L550.7 219L550.9 220.6L551.2 218.1L551.4 221.3L551.6 220.2L551.8 224.8L552 220.2L552.3 218.7L552.5 222.1L552.7 219.2L552.9 221.9L553.1 223L553.4 220.4L553.6 219.7L553.8 218.3L554 221.8L554.2 220.4L554.5 221.5L554.7 220.4L554.9 220.9L555.1 221.2L555.3 221.1L555.6 220.2L555.8 221.3L556 220.6L556.2 220.1L556.4 220.4L556.7 219.3L556.9 221.3L557.1 217.8L557.3 219.8L557.5 217.3L557.8 216.6L558 218.6L558.2 214.9L558.4 220L558.6 218L558.9 219.2L559.1 218.6L559.3 217.7L559.5 216.7L559.7 217.2L560 215.7L560.2 215.8L560.4 215L560.6 219.1L560.8 215.5L561.1 219.1L561.3 217L561.5 217.5L561.7 217.1L561.9 214.8L562.2 216.2L562.4 215.2L562.6 214.7L562.8 211.3L563 216.8L563.3 217.7L563.5 212.2L563.7 218.4L563.9 215.7L564.1 212.3L564.4 214.6L564.6 213.8L564.8 211.2L565 210.9L565.2 213.5L565.5 213L565.7 212.2L565.9 216L566.1 209.9L566.3 216.3L566.6 211.8L566.8 210L567 216.9L567.2 214.6L567.4 217L567.7 216.4L567.9 210.8L568.1 214.5L568.3 219L568.5 213.5L568.8 215.4L569 217.1L569.2 218L569.4 218.3L569.6 215.6L569.9 217.8L570.1 217.1L570.3 217.1L570.5 216.8L570.7 215.3L571 218.8L571.2 220.8L571.4 218.9L571.6 220L571.8 218.5L572.1 223.1L572.3 222.6L572.5 223.9L572.7 220L572.9 224.9L573.2 223.5L573.4 222.6L573.6 225.8L573.8 220.9L574 222.7L574.3 220.5L574.5 221.1L574.7 221.5L574.9 220.2L575.1 225L575.4 223.7L575.6 225.3L575.8 226.2L576 226.5L576.2 223.6L576.5 226.9L576.7 227.2L576.9 227.4L577.1 228.7L577.3 223.1L577.6 226.5L577.8 228.1L578 225.1L578.2 228.4L578.4 223.3L578.7 229.4L578.9 227.4" stroke="#f00" stroke-width="0.55"/>
</g>
<g clip-path="url(#cr2)" fill="none" stroke-linejoin="round">
<path d="M295.3 320.8L295.5 325.7L295.7 321.7L296 325.5L296.2 326L296.4 329.3L296.6 329.7L296.8 326.1L297.1 327.2L297.3 326.4L297.5 326.6L297.7 330.8L297.9 326.6L298.2 330.5L298.4 330.5L298.6 330L298.8 330.3L299 332.7L299.3 330.6L299.5 329.9L299.7 332.9L299.9 335.2L300.1 329.2L300.4 331.8L300.6 333.9L300.8 334.9L301 331.3L301.2 334.8L301.5 333.8L301.7 334.9L301.9 335.5L302.1 331.1L302.3 335.9L302.6 337.4L302.8 334.4L303 334.4L303.2 333.3L303.4 333.8L303.7 333L303.9 331L304.1 333.4L304.3 332.2L304.5 333L304.8 331.2L305 332.4L305.2 329.3L305.4 327.7L305.6 327.7L305.9 328.4L306.1 329.1L306.3 327.2L306.5 329.8L306.7 326.4L307 328.2L307.2 329.8L307.4 327.1L307.6 331.6L307.8 322.4L308.1 328.6L308.3 323.2L308.5 327.6L308.7 326L308.9 323.5L309.2 330.3L309.4 323.9L309.6 326.6L309.8 327.1L310 329.9L310.3 330.4L310.5 326.1L310.7 326.9L310.9 326.5L311.1 327.4L311.4 324.8L311.6 328.4L311.8 330.9L312 328.3L312.2 331.5L312.5 329.9L312.7 330.3L312.9 328.7L313.1 332.1L313.3 327.6L313.6 329.3L313.8 332.2L314 327.2L314.2 329.5L314.4 325.9L314.7 328.7L314.9 330.4L315.1 329.4L315.3 330.7L315.5 329.1L315.8 326.6L316 327.8L316.2 331.1L316.4 330.3L316.6 325.6L316.9 327L317.1 328.6L317.3 325.5L317.5 329L317.7 329.9L318 330.4L318.2 326.9L318.4 325.3L318.6 327.7L318.8 328.1L319.1 329.9L319.3 326.3L319.5 330.4L319.7 327.4L319.9 327.8L320.2 329.3L320.4 328.8L320.6 330.3L320.8 326.7L321 327.8L321.3 327.6L321.5 327.8L321.7 328.7L321.9 328.1L322.1 325.8L322.4 325.3L322.6 330.3L322.8 329L323 333.9L323.2 333.6L323.5 329.2L323.7 329.3L323.9 333.1L324.1 332.2L324.3 335.7L324.6 332.1L324.8 335.8L325 331.4L325.2 335.7L325.4 331L325.7 331.3L325.9 336.7L326.1 333.4L326.3 334.9L326.5 338L326.8 336.7L327 335.5L327.2 334.1L327.4 335.6L327.6 335.5L327.9 342.3L328.1 332.5L328.3 339.8L328.5 332L328.7 336.9L329 338L329.2 332.8L329.4 336.4L329.6 335L329.8 337L330.1 333.3L330.3 338.4L330.5 329.3L330.7 333.9L330.9 331L331.2 333.3L331.4 330.7L331.6 332.3L331.8 334.8L332 333.2L332.3 332.8L332.5 334.9L332.7 331.9L332.9 334.7L333.1 335.6L333.4 334.3L333.6 333.3L333.8 335.3L334 334.8L334.2 333.4L334.5 333.9L334.7 332.7L334.9 333.7L335.1 332.1L335.3 334.3L335.6 335L335.8 330.9L336 329.6L336.2 334.8L336.4 335.1L336.7 332.2L336.9 337.2L337.1 338.8L337.3 338.2L337.5 336L337.8 335.3L338 334.3L338.2 335.3L338.4 338.1L338.6 335.1L338.9 335.4L339.1 336.6L339.3 335.3L339.5 335.8L339.7 339.6L340 332.8L340.2 336.6L340.4 337.4L340.6 338.1L340.8 337.8L341.1 337L341.3 335.6L341.5 337.8L341.7 336.6L341.9 338.5L342.2 337.4L342.4 342L342.6 341.7L342.8 340.9L343 342.8L343.3 339L343.5 341.6L343.7 343.1L343.9 341.7L344.1 347.1L344.4 340.1L344.6 345.4L344.8 344.5L345 340.6L345.2 341.8L345.5 343.2L345.7 345L345.9 342L346.1 342.4L346.3 341.5L346.6 341.7L346.8 341.4L347 343.2L347.2 338.1L347.4 342.9L347.7 340.9L347.9 341.1L348.1 340.4L348.3 340.1L348.5 339.8L348.8 338.2L349 338.3L349.2 337.2L349.4 337.8L349.6 336.9L349.9 336.1L350.1 333.1L350.3 336.7L350.5 334.6L350.7 335.6L351 339.1L351.2 336.4L351.4 341.6L351.6 338.8L351.8 338.3L352.1 336.3L352.3 340.3L352.5 342.2L352.7 338L352.9 340.4L353.2 340.9L353.4 341.2L353.6 342.4L353.8 341.3L354 342.9L354.3 342.2L354.5 343.2L354.7 344.6L354.9 342.7L355.1 345.7L355.4 344.1L355.6 340.8L355.8 342.8L356 342.4L356.2 345.1L356.5 343.4L356.7 340.9L356.9 344.6L357.1 343L357.3 343.1L357.6 346L357.8 342.6L358 344.9L358.2 343L358.4 343.2L358.7 343.6L358.9 343.3L359.1 343.7L359.3 343.7L359.5 343L359.8 343.3L360 343.3L360.2 343.7L360.4 340.9L360.6 342.5L360.9 345.3L361.1 342.5L361.3 342.9L361.5 337.9L361.7 341.9L362 341.2L362.2 341.7L362.4 339.9L362.6 341.5L362.8 340.9L363.1 337.9L363.3 341.1L363.5 339.3L363.7 343.3L363.9 336.1L364.2 337.1L364.4 336.8L364.6 337.6L364.8 337.3L365 335.4L365.3 334L365.5 335.8L365.7 335L365.9 337.2L366.1 338.8L366.4 338.9L366.6 338.6L366.8 337.5L367 337.3L367.2 338.6L367.5 341.2L367.7 340.4L367.9 341.9L368.1 340.4L368.3 340.3L368.6 340.6L368.8 341.6L369 341.6L369.2 345.6L369.4 339.4L369.7 343.4L369.9 344.3L370.1 341.5L370.3 346.7L370.5 345.3L370.8 341.8L371 345.7L371.2 346L371.4 342.8L371.6 345.9L371.9 346.6L372.1 347.2L372.3 344.9L372.5 343.9L372.7 341.6L373 343.8L373.2 346.9L373.4 343.1L373.6 342.5L373.8 343.7L374.1 342.8L374.3 341.4L374.5 342.5L374.7 343L374.9 341.8L375.2 342.3L375.4 343.8L375.6 342.4L375.8 343.7L376 345L376.3 341.6L376.5 344.2L376.7 342.4L376.9 345.1L377.1 342.5L377.4 343.6L377.6 344.7L377.8 343.4L378 342L378.2 340.6L378.5 339.9L378.7 341.8L378.9 340.8L379.1 340.9L379.3 341.8L379.6 341.4L379.8 341L380 343L380.2 339.7L380.4 342.8L380.7 343.7L380.9 343.1L381.1 343.9L381.3 344.5L381.5 341.6L381.8 340.5L382 342.4L382.2 341.4L382.4 341.9L382.6 339.9L382.9 341.2L383.1 343.4L383.3 342.4L383.5 342.1L383.7 343.5L384 341.7L384.2 341.8L384.4 344.5L384.6 345.5L384.8 343.3L385.1 342.9L385.3 342.3L385.5 344.2L385.7 343.6L385.9 344.6L386.2 342.2L386.4 345.2L386.6 345.1L386.8 342.7L387 343.7L387.3 344.6L387.5 344.7L387.7 342.6L387.9 345.7L388.1 344L388.4 345.9L388.6 345.1L388.8 348.6L389 346L389.2 346.2L389.5 346.2L389.7 344.7L389.9 348.1L390.1 345.7L390.3 346.1L390.6 345.7L390.8 345.3L391 346.3L391.2 345.4L391.4 345.2L391.7 342.7L391.9 345L392.1 344.8L392.3 342.9L392.5 344.8L392.8 344.3L393 346.4L393.2 344.3L393.4 343L393.6 340.7L393.9 342.9L394.1 344.2L394.3 343.1L394.5 339.5L394.7 340.6L395 340.2L395.2 337.9L395.4 339.2L395.6 335.6L395.8 336.2L396.1 332.9L396.3 331.6L396.5 331.8L396.7 328.3L396.9 327.8L397.2 327.5L397.4 325.7L397.6 324.2L397.8 323.8L398 322.3L398.3 324.7L398.5 326.6L398.7 328.3L398.9 332.3L399.1 333.3L399.4 329.3L399.6 331.3L399.8 335L400 334.8L400.2 334.1L400.5 335.9L400.7 336.9L400.9 337.8L401.1 338.7L401.3 337.7L401.6 337.3L401.8 340.4L402 340.3L402.2 339.8L402.4 339.8L402.7 344.3L402.9 340.8L403.1 342.8L403.3 343L403.5 344.3L403.8 341.7L404 343.6L404.2 343.1L404.4 342.8L404.6 344.3L404.9 345.5L405.1 345.9L405.3 342.9L405.5 343.6L405.7 340.8L406 342.1L406.2 343L406.4 344.2L406.6 340.2L406.8 339.8L407.1 341.1L407.3 339.2L407.5 339.1L407.7 339.4L407.9 338.9L408.2 340.3L408.4 340.9L408.6 341.2L408.8 339.9L409 340.9L409.3 343.5L409.5 344.1L409.7 342.9L409.9 343.5L410.1 346.2L410.4 341.4L410.6 342.4L410.8 343L411 344.7L411.2 343.2L411.5 340.7L411.7 342.2L411.9 343L412.1 345.5L412.3 345.2L412.6 342.6L412.8 345.6L413 343.7L413.2 344.8L413.4 341L413.7 344.5L413.9 343.5L414.1 345.5L414.3 344.5L414.5 344.4L414.8 343L415 345.2L415.2 343.5L415.4 341.4L415.6 339.7L415.9 343.9L416.1 341.6L416.3 344.9L416.5 342.6L416.7 341.8L417 341.3L417.2 342.3L417.4 341.9L417.6 342.9L417.8 342.1L418.1 342.2L418.3 341.5L418.5 341.5L418.7 344.6L418.9 344L419.2 341.7L419.4 344.2L419.6 344.3L419.8 346.7L420 343.8L420.3 343.1L420.5 348L420.7 342.2L420.9 343.6L421.1 344.8L421.4 342.3L421.6 342.5L421.8 344.5L422 345.3L422.2 343.3L422.5 341L422.7 343.6L422.9 342.6L423.1 341.8L423.3 342.2L423.6 340.6L423.8 340.7L424 343.1L424.2 339.3L424.4 338.8L424.7 338L424.9 342L425.1 340.7L425.3 338.4L425.5 340.7L425.8 339.3L426 335.8L426.2 339L426.4 334L426.6 344.1L426.9 337.9L427.1 339.3L427.3 343.1L427.5 342.2L427.7 345.1L428 345.5L428.2 343.7L428.4 340.9L428.6 344.7L428.8 344.5L429.1 347.4L429.3 343.5L429.5 344.8L429.7 347L429.9 346.2L430.2 345.1L430.4 344.9L430.6 348.2L430.8 345.4L431 343.7L431.3 344.9L431.5 347L431.7 345.9L431.9 343.8L432.1 347.5L432.4 347.5L432.6 345.1L432.8 346.3L433 346.6L433.2 347.2L433.5 348.9L433.7 345.9L433.9 346.6L434.1 345.5L434.3 347.1L434.6 348.1L434.8 348.6L435 348.1L435.2 347.2L435.4 344.5L435.7 348.7L435.9 344.9L436.1 346.3L436.3 344.7L436.5 347.6L436.8 343.5L437 345.6L437.2 346.5L437.4 343.6L437.6 349.6L437.9 346.8L438.1 343.1L438.3 346.2L438.5 347.5L438.7 345.5L439 345.4L439.2 344.6L439.4 346.5L439.6 344.2L439.8 348.3L440.1 344L440.3 347.5L440.5 346L440.7 348.4L440.9 342.4L441.2 346.9L441.4 344.7L441.6 346.6L441.8 345.1L442 346L442.3 344.5L442.5 342.9L442.7 349.4L442.9 346.9L443.1 346L443.4 345.2L443.6 343.8L443.8 343.1L444 345.1L444.2 347.1L444.5 345.8L444.7 345.9L444.9 344.4L445.1 346L445.3 344.9L445.6 343.8L445.8 347.2L446 345.1L446.2 345.5L446.4 346.3L446.7 344.9L446.9 346.6L447.1 347.9L447.3 343.3L447.5 345.4L447.8 347.6L448 344.7L448.2 346.6L448.4 346.1L448.6 343.6L448.9 344.6L449.1 345.9L449.3 345.7L449.5 346.8L449.7 342.9L450 346L450.2 343.8L450.4 345.9L450.6 346.3L450.8 345L451.1 344.9L451.3 344L451.5 344.8L451.7 343.2L451.9 347.6L452.2 346.4L452.4 345.3L452.6 349.4L452.8 347.4L453 345.7L453.3 347.1L453.5 345.7L453.7 346.1L453.9 344.8L454.1 347.3L454.4 345.3L454.6 349.1L454.8 347.1L455 350.5L455.2 352.7L455.5 353.3L455.7 352L455.9 351.9L456.1 351.5L456.3 357.3L456.6 358.4L456.8 358.7L457 357.3L457.2 355.3L457.4 354.3L457.7 352L457.9 352.5L458.1 350L458.3 347.7L458.5 347L458.8 348.3L459 348.8L459.2 347.7L459.4 347.5L459.6 347.7L459.9 346.3L460.1 345.3L460.3 342.5L460.5 343.8L460.7 341.9L461 343.3L461.2 343.3L461.4 339.9L461.6 342.2L461.8 341.7L462.1 341.5L462.3 341.2L462.5 344L462.7 344.6L462.9 340.9L463.2 346.3L463.4 343.5L463.6 343.4L463.8 344.1L464 344.8L464.3 344.4L464.5 344.3L464.7 344.7L464.9 343.2L465.1 345.6L465.4 347.4L465.6 345.3L465.8 342.8L466 346L466.2 346.3L466.5 345.2L466.7 343.5L466.9 345.3L467.1 345.7L467.3 346.8L467.6 344.7L467.8 348.7L468 346.3L468.2 345.6L468.4 344.2L468.7 347.8L468.9 343.4L469.1 344.9L469.3 345.8L469.5 344.9L469.8 344.5L470 345.2L470.2 348L470.4 344.5L470.6 343.6L470.9 344.2L471.1 348.3L471.3 347.9L471.5 344.1L471.7 346.8L472 343.1L472.2 345.8L472.4 345.7L472.6 348L472.8 344.5L473.1 347.1L473.3 349.2L473.5 348.7L473.7 347.9L473.9 348.1L474.2 348.1L474.4 348.6L474.6 351.8L474.8 349.8L475 348L475.3 350.2L475.5 350.1L475.7 348.9L475.9 350.7L476.1 353.1L476.4 351L476.6 351.7L476.8 352.8L477 349.6L477.2 349.4L477.5 348.8L477.7 348.6L477.9 347.3L478.1 349.8L478.3 349.3L478.6 351.4L478.8 347.5L479 351L479.2 349.7L479.4 350L479.7 348.1L479.9 348.1L480.1 346.4L480.3 346.9L480.5 349.2L480.8 351.5L481 349L481.2 346.9L481.4 346.1L481.6 349.8L481.9 347.4L482.1 347.6L482.3 346L482.5 347.9L482.7 347.1L483 348.3L483.2 349.7L483.4 347.8L483.6 347.5L483.8 349.3L484.1 344.1L484.3 345.1L484.5 344.1L484.7 345.8L484.9 348.6L485.2 347.4L485.4 346L485.6 343.8L485.8 346.3L486 347.5L486.3 344.9L486.5 346.9L486.7 345.5L486.9 347L487.1 346.9L487.4 345.3L487.6 345.2L487.8 345.8L488 344.9L488.2 344.4L488.5 346.6L488.7 345.8L488.9 343.9L489.1 346.8L489.3 346.9L489.6 345.8L489.8 348.5L490 343.9L490.2 347.1L490.4 344.7L490.7 344.1L490.9 346.1L491.1 344.9L491.3 345.5L491.5 345.1L491.8 345.5L492 344.7L492.2 343.8L492.4 341.9L492.6 346.3L492.9 343.5L493.1 345.6L493.3 342.3L493.5 342.3L493.7 341.4L494 344.7L494.2 338.6L494.4 343.4L494.6 342.6L494.8 346.2L495.1 344.3L495.3 347.4L495.5 348.9L495.7 349.1L495.9 348.9L496.2 348.1L496.4 345.7L496.6 346.6L496.8 346.9L497 348L497.3 345.5L497.5 344.8L497.7 345.2L497.9 343.1L498.1 345L498.4 340.8L498.6 342.6L498.8 343.1L499 344L499.2 343.5L499.5 340.6L499.7 340.7L499.9 341.5L500.1 337.9L500.3 339.7L500.6 335.7L500.8 336.7L501 335.4L501.2 330.2L501.4 329.6L501.7 327.3L501.9 325.5L502.1 323.4L502.3 321.4L502.5 316.9L502.8 314.7L503 310.8L503.2 307.9L503.4 302.9L503.6 304.2L503.9 298.3L504.1 294.8L504.3 295.7L504.5 291.1L504.7 291.9L505 288L505.2 288.7L505.4 289L505.6 288.5L505.8 290.3L506.1 294L506.3 296L506.5 300.5L506.7 298.5L506.9 304.1L507.2 307.8L507.4 310L507.6 315.6L507.8 320.5L508 323.7L508.3 327L508.5 331.7L508.7 330.3L508.9 334.8L509.1 335.8L509.4 333.8L509.6 337.3L509.8 336.6L510 341.6L510.2 342.3L510.5 340.5L510.7 338.2L510.9 343.1L511.1 341.8L511.3 339.9L511.6 340.6L511.8 340.1L512 340.9L512.2 341.9L512.4 344L512.7 344.7L512.9 342.1L513.1 347.2L513.3 345L513.5 342.4L513.8 345.7L514 344.1L514.2 343.4L514.4 344.3L514.6 344.9L514.9 344.6L515.1 346.1L515.3 343.7L515.5 344.5L515.7 345.5L516 344L516.2 344.8L516.4 343.3L516.6 343.4L516.8 345.8L517.1 345.1L517.3 344.6L517.5 346.5L517.7 345.2L517.9 343.6L518.2 343.6L518.4 344.8L518.6 342.7L518.8 340.9L519 342.7L519.3 347.5L519.5 342.6L519.7 342.4L519.9 344.3L520.1 343.3L520.4 346.2L520.6 346.9L520.8 343.1L521 345.6L521.2 343.8L521.5 342.8L521.7 346.6L521.9 347.3L522.1 345.2L522.3 344.4L522.6 348.3L522.8 345.7L523 343.8L523.2 346L523.4 345.3L523.7 346.9L523.9 345.9L524.1 347.6L524.3 348.6L524.5 348.1L524.8 346.7L525 348.2L525.2 347.2L525.4 347.4L525.6 350.7L525.9 351.3L526.1 350.4L526.3 347.3L526.5 350.4L526.7 348.2L527 346.9L527.2 343.1L527.4 349.2L527.6 349.2L527.8 350.3L528.1 352.7L528.3 347L528.5 348.2L528.7 351.9L528.9 349.6L529.2 349L529.4 349.7L529.6 350.3L529.8 348.1L530 348.1L530.3 353L530.5 349.7L530.7 350.4L530.9 346.9L531.1 346.4L531.4 347.3L531.6 348.6L531.8 351.1L532 350.8L532.2 353.4L532.5 354.1L532.7 349.1L532.9 349.4L533.1 350.3L533.3 347.8L533.6 347.7L533.8 349.9L534 350.8L534.2 350.3L534.4 350.7L534.7 350.2L534.9 348.9L535.1 350L535.3 348.4L535.5 347.8L535.8 345.1L536 345L536.2 343.7L536.4 345.1L536.6 346.7L536.9 347L537.1 346.4L537.3 345L537.5 344.7L537.7 342.2L538 344.5L538.2 344.2L538.4 344L538.6 346.4L538.8 345.2L539.1 347L539.3 346.1L539.5 344.6L539.7 342.2L539.9 348L540.2 348.6L540.4 346.6L540.6 342.1L540.8 346.6L541 346.6L541.3 343.2L541.5 344.4L541.7 345.3L541.9 344.5L542.1 341.7L542.4 342.4L542.6 342.4L542.8 342.6L543 343.9L543.2 341.6L543.5 344.9L543.7 342.7L543.9 345L544.1 342.9L544.3 341.2L544.6 343.8L544.8 340.7L545 340.5L545.2 341L545.4 339.8L545.7 341.7L545.9 346.5L546.1 345.2L546.3 342.3L546.5 341.2L546.8 345.7L547 345.7L547.2 345.2L547.4 342.9L547.6 344.9L547.9 345.7L548.1 340.7L548.3 341.9L548.5 344.5L548.7 340.9L549 345.6L549.2 344.8L549.4 346L549.6 344.8L549.8 343.2L550.1 345.8L550.3 347.1L550.5 345.1L550.7 344.4L550.9 345.2L551.2 347L551.4 344.9L551.6 344.1L551.8 344.5L552 345.9L552.3 345.7L552.5 343.3L552.7 349.2L552.9 348.1L553.1 347.9L553.4 347.6L553.6 345.3L553.8 351.9L554 345.8L554.2 348.3L554.5 347.8L554.7 352.4L554.9 345L555.1 350.9L555.3 348.1L555.6 350.7L555.8 341.2L556 350.2L556.2 353.6L556.4 354.6L556.7 350.1L556.9 346.7L557.1 347.2L557.3 347.7L557.5 345.1L557.8 350L558 352.2L558.2 349L558.4 348.9L558.6 346.6L558.9 350.4L559.1 346.2L559.3 352.2L559.5 350.8L559.7 352L560 351.1L560.2 352.8L560.4 349.3L560.6 345.9L560.8 354.5L561.1 353.6L561.3 351.8L561.5 349.5L561.7 346.9L561.9 348.8L562.2 346.4L562.4 346.9L562.6 353.7L562.8 348.1L563 348L563.3 342.6L563.5 342L563.7 346.8L563.9 345.7L564.1 339.7L564.4 344.5L564.6 335.7L564.8 345.5L565 341.8L565.2 349.5L565.5 340.9L565.7 342.8L565.9 344.8L566.1 341.3L566.3 347L566.6 348.8L566.8 349.8L567 345.7L567.2 349.1L567.4 354.7L567.7 348.3L567.9 355.4L568.1 350.5L568.3 352.3L568.5 353.6L568.8 346.5L569 346.4L569.2 352.8L569.4 343.6L569.6 342.9L569.9 342.5L570.1 343.8L570.3 340.6L570.5 343.2L570.7 341.8L571 342.2L571.2 350.2L571.4 343.3L571.6 350.7L571.8 339.1L572.1 346.7L572.3 347.2L572.5 352L572.7 348.9L572.9 349L573.2 350.4L573.4 349.4L573.6 348.8L573.8 355.8L574 348.3L574.3 351.3L574.5 351.7L574.7 353.4L574.9 346L575.1 350.3L575.4 349.1L575.6 348.7L575.8 347.5L576 349.8L576.2 346.8L576.5 348.3L576.7 345.8L576.9 348.5L577.1 351.2L577.3 349.9L577.6 351.3L577.8 355.9L578 352.6L578.2 350.4L578.4 357.1L578.7 355.7L578.9 354.4" stroke="#f00" stroke-width="0.55"/>
</g>
<g stroke="#000" fill="none" stroke-width="1.1">
<rect x="295.3" y="122" width="283.7" height="236.8"/>
<path d="M295.3 279.7H579"/>
</g>
<g stroke="#000" fill="none" stroke-width="0.9">
<path d="M304.1 122v3.2M357 122v3.2M409.8 122v3.2M462.7 122v3.2M515.5 122v3.2M568.4 122v3.2"/>
<path d="M298.8 122v1.6M309.4 122v1.6M314.7 122v1.6M320 122v1.6M325.2 122v1.6M330.5 122v1.6M335.8 122v1.6M341.1 122v1.6M346.4 122v1.6M351.7 122v1.6M362.2 122v1.6M367.5 122v1.6M372.8 122v1.6M378.1 122v1.6M383.4 122v1.6M388.7 122v1.6M393.9 122v1.6M399.2 122v1.6M404.5 122v1.6M415.1 122v1.6M420.4 122v1.6M425.7 122v1.6M430.9 122v1.6M436.2 122v1.6M441.5 122v1.6M446.8 122v1.6M452.1 122v1.6M457.4 122v1.6M467.9 122v1.6M473.2 122v1.6M478.5 122v1.6M483.8 122v1.6M489.1 122v1.6M494.4 122v1.6M499.6 122v1.6M504.9 122v1.6M510.2 122v1.6M520.8 122v1.6M526.1 122v1.6M531.4 122v1.6M536.6 122v1.6M541.9 122v1.6M547.2 122v1.6M552.5 122v1.6M557.8 122v1.6M563.1 122v1.6M573.6 122v1.6"/>
<path d="M304.1 276.5v4.8M357 276.5v4.8M409.8 276.5v4.8M462.7 276.5v4.8M515.5 276.5v4.8M568.4 276.5v4.8"/>
<path d="M298.8 278.1v2.4M309.4 278.1v2.4M314.7 278.1v2.4M320 278.1v2.4M325.2 278.1v2.4M330.5 278.1v2.4M335.8 278.1v2.4M341.1 278.1v2.4M346.4 278.1v2.4M351.7 278.1v2.4M362.2 278.1v2.4M367.5 278.1v2.4M372.8 278.1v2.4M378.1 278.1v2.4M383.4 278.1v2.4M388.7 278.1v2.4M393.9 278.1v2.4M399.2 278.1v2.4M404.5 278.1v2.4M415.1 278.1v2.4M420.4 278.1v2.4M425.7 278.1v2.4M430.9 278.1v2.4M436.2 278.1v2.4M441.5 278.1v2.4M446.8 278.1v2.4M452.1 278.1v2.4M457.4 278.1v2.4M467.9 278.1v2.4M473.2 278.1v2.4M478.5 278.1v2.4M483.8 278.1v2.4M489.1 278.1v2.4M494.4 278.1v2.4M499.6 278.1v2.4M504.9 278.1v2.4M510.2 278.1v2.4M520.8 278.1v2.4M526.1 278.1v2.4M531.4 278.1v2.4M536.6 278.1v2.4M541.9 278.1v2.4M547.2 278.1v2.4M552.5 278.1v2.4M557.8 278.1v2.4M563.1 278.1v2.4M573.6 278.1v2.4"/>
<path d="M304.1 358.8v-1.8M357 358.8v-1.8M409.8 358.8v-1.8M462.7 358.8v-1.8M515.5 358.8v-1.8M568.4 358.8v-1.8"/>
<path d="M298.8 358.8v-1M309.4 358.8v-1M314.7 358.8v-1M320 358.8v-1M325.2 358.8v-1M330.5 358.8v-1M335.8 358.8v-1M341.1 358.8v-1M346.4 358.8v-1M351.7 358.8v-1M362.2 358.8v-1M367.5 358.8v-1M372.8 358.8v-1M378.1 358.8v-1M383.4 358.8v-1M388.7 358.8v-1M393.9 358.8v-1M399.2 358.8v-1M404.5 358.8v-1M415.1 358.8v-1M420.4 358.8v-1M425.7 358.8v-1M430.9 358.8v-1M436.2 358.8v-1M441.5 358.8v-1M446.8 358.8v-1M452.1 358.8v-1M457.4 358.8v-1M467.9 358.8v-1M473.2 358.8v-1M478.5 358.8v-1M483.8 358.8v-1M489.1 358.8v-1M494.4 358.8v-1M499.6 358.8v-1M504.9 358.8v-1M510.2 358.8v-1M520.8 358.8v-1M526.1 358.8v-1M531.4 358.8v-1M536.6 358.8v-1M541.9 358.8v-1M547.2 358.8v-1M552.5 358.8v-1M557.8 358.8v-1M563.1 358.8v-1M573.6 358.8v-1"/>
<path d="M295.3 240.8h6M295.3 196.5h6M295.3 152.2h6"/>
<path d="M295.3 276.2h2.7M295.3 271.8h2.7M295.3 267.4h2.7M295.3 262.9h2.7M295.3 258.5h2.7M295.3 254.1h2.7M295.3 249.7h2.7M295.3 245.2h2.7M295.3 236.4h2.7M295.3 231.9h2.7M295.3 227.5h2.7M295.3 223.1h2.7M295.3 218.7h2.7M295.3 214.2h2.7M295.3 209.8h2.7M295.3 205.4h2.7M295.3 200.9h2.7M295.3 192.1h2.7M295.3 187.6h2.7M295.3 183.2h2.7M295.3 178.8h2.7M295.3 174.4h2.7M295.3 169.9h2.7M295.3 165.5h2.7M295.3 161.1h2.7M295.3 156.6h2.7M295.3 147.8h2.7M295.3 143.3h2.7M295.3 138.9h2.7M295.3 134.5h2.7M295.3 130.1h2.7M295.3 125.6h2.7"/>
<path d="M579 240.8h-6M579 196.5h-6M579 152.2h-6"/>
<path d="M579 276.2h-2.7M579 271.8h-2.7M579 267.4h-2.7M579 262.9h-2.7M579 258.5h-2.7M579 254.1h-2.7M579 249.7h-2.7M579 245.2h-2.7M579 236.4h-2.7M579 231.9h-2.7M579 227.5h-2.7M579 223.1h-2.7M579 218.7h-2.7M579 214.2h-2.7M579 209.8h-2.7M579 205.4h-2.7M579 200.9h-2.7M579 192.1h-2.7M579 187.6h-2.7M579 183.2h-2.7M579 178.8h-2.7M579 174.4h-2.7M579 169.9h-2.7M579 165.5h-2.7M579 161.1h-2.7M579 156.6h-2.7M579 147.8h-2.7M579 143.3h-2.7M579 138.9h-2.7M579 134.5h-2.7M579 130.1h-2.7M579 125.6h-2.7"/>
<path d="M295.3 348.2h6M295.3 330.8h6M295.3 313.5h6M295.3 296.1h6"/>
<path d="M295.3 355.1h2.7M295.3 351.7h2.7M295.3 344.7h2.7M295.3 341.3h2.7M295.3 337.8h2.7M295.3 334.3h2.7M295.3 327.4h2.7M295.3 323.9h2.7M295.3 320.4h2.7M295.3 317h2.7M295.3 310h2.7M295.3 306.6h2.7M295.3 303.1h2.7M295.3 299.6h2.7M295.3 292.7h2.7M295.3 289.2h2.7M295.3 285.7h2.7M295.3 282.3h2.7"/>
<path d="M579 348.2h-6M579 330.8h-6M579 313.5h-6M579 296.1h-6"/>
<path d="M579 355.1h-2.7M579 351.7h-2.7M579 344.7h-2.7M579 341.3h-2.7M579 337.8h-2.7M579 334.3h-2.7M579 327.4h-2.7M579 323.9h-2.7M579 320.4h-2.7M579 317h-2.7M579 310h-2.7M579 306.6h-2.7M579 303.1h-2.7M579 299.6h-2.7M579 292.7h-2.7M579 289.2h-2.7M579 285.7h-2.7M579 282.3h-2.7"/>
</g>
<g font-size="8.7" text-anchor="middle">
<text x="304.1" y="374.2">4000</text>
<text x="357" y="374.2">5000</text>
<text x="409.8" y="374.2">6000</text>
<text x="462.7" y="374.2">7000</text>
<text x="515.5" y="374.2">8000</text>
<text x="568.4" y="374.2">9000</text>
<text x="437" y="387.5">Wavelength <tspan font-style="italic">λ</tspan> (Å)</text>
</g>
<g font-size="8.7" text-anchor="end">
<text x="291.7" y="245.3">10</text>
<text x="291.7" y="201">20</text>
<text x="291.7" y="156.7">30</text>
<text x="291.7" y="352.7">0</text>
<text x="291.7" y="335.3">5</text>
<text x="291.7" y="318">10</text>
<text x="291.7" y="300.6">15</text>
</g>
<text transform="translate(272.2 201.6) rotate(-90)" font-size="8.7" text-anchor="middle">f<tspan font-size="5.5" dy="1.8" font-style="italic">λ</tspan><tspan dy="-1.8"> (10</tspan><tspan font-size="4.8" dy="-4">-17</tspan><tspan dy="4"> erg s</tspan><tspan font-size="4.8" dy="-4">-1</tspan><tspan dy="4"> cm</tspan><tspan font-size="4.8" dy="-4">-2</tspan><tspan dy="4"> Å</tspan><tspan font-size="4.8" dy="-4">-1</tspan><tspan dy="4">)</tspan></text>
<text transform="translate(273.0 318.6) rotate(-90)" font-size="8.7" text-anchor="middle">Δ<tspan dx="3.6">f</tspan><tspan font-size="5.5" dx="0.4" dy="1.8" font-style="italic">λ</tspan></text>
<path d="M302.5 114.8H311.9" stroke="#222" stroke-width="1.1"/>
<text x="318" y="117.1" font-size="8">2005-11-26 SDSS</text>
<path d="M393.5 114.8H402.9" stroke="#f00" stroke-width="1.1"/>
<text x="409" y="117.1" font-size="8">2023-03-26 MMT</text>
<text x="514.8" y="138.1" font-size="10">J0910+1907</text>
</svg>
</body></html>
